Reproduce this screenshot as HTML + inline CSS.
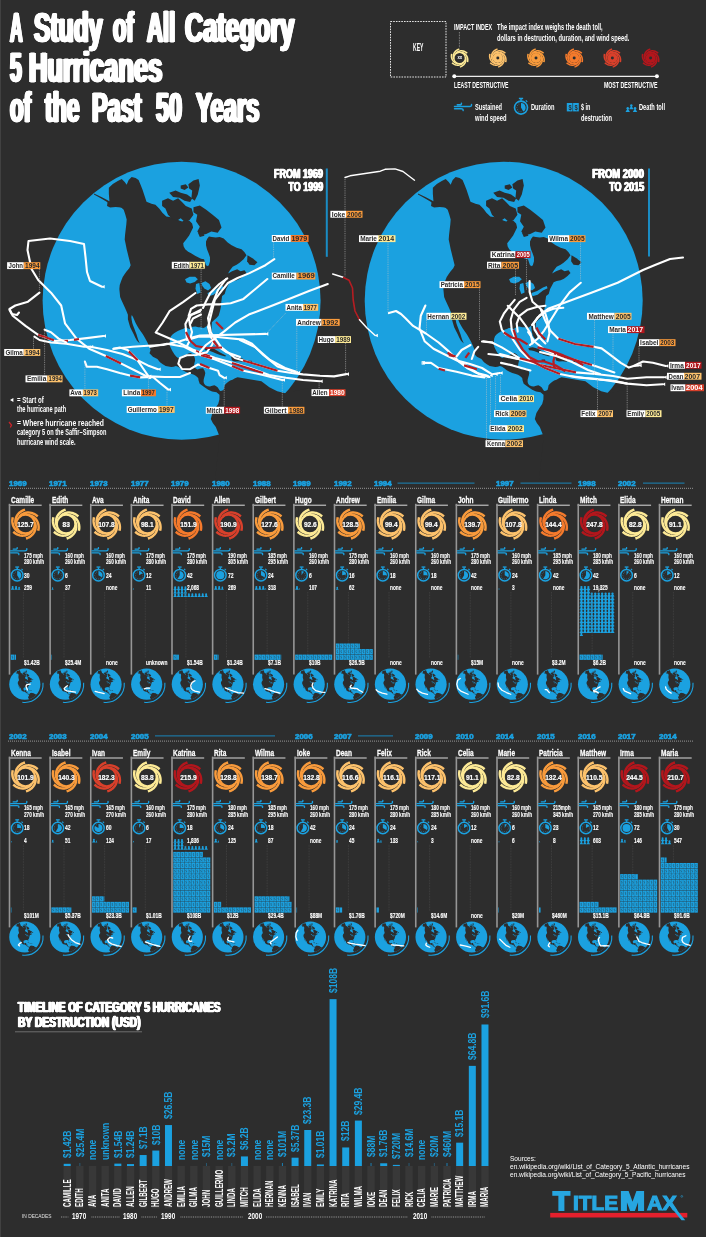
<!DOCTYPE html>
<html lang="en"><head><meta charset="utf-8"><title>A Study of All Category 5 Hurricanes of the Past 50 Years</title>
<style>
html,body{margin:0;padding:0;background:#2d2d2d;}
body{width:706px;height:1237px;position:relative;overflow:hidden;font-family:"Liberation Sans",sans-serif;}
#g{position:absolute;left:0;top:0;width:706px;height:1237px;}
#tx{position:absolute;left:0;top:0;width:706px;height:1237px;will-change:transform;}
.t{position:absolute;white-space:nowrap;line-height:1;color:#fff;font-weight:700;}
</style></head><body>
<svg id="g" width="706" height="1237" viewBox="0 0 706 1237">
<defs><symbol id="sw" overflow="visible"><circle cx="0" cy="0" r="9.4" fill="none" stroke="currentColor" stroke-width="2.3"/><path d="M-9.34 1.71 L-9.69 0.72 L-9.96 -0.33 L-10.12 -1.43 L-10.17 -2.57 L-10.1 -3.75 L-9.9 -4.94 L-9.57 -6.13 L-9.09 -7.31 L-8.48 -8.47 L-7.73 -9.58 L-6.84 -10.63 L-5.81 -11.61 L-4.66 -12.49 L-3.38 -13.25 L-1.99 -13.89 L-0.5 -14.39" fill="none" stroke="currentColor" stroke-width="2.45" stroke-linecap="butt" stroke-linejoin="round"/><path d="M-6.15 -7.23 L-5.47 -8.03 L-4.69 -8.79 L-3.82 -9.48 L-2.86 -10.09 L-1.81 -10.62 L-0.68 -11.04 L0.53 -11.35 L1.79 -11.53 L3.09 -11.58 L4.43 -11.49 L5.79 -11.24 L7.15 -10.84 L8.49 -10.28 L9.79 -9.55 L11.04 -8.67 L12.21 -7.63" fill="none" stroke="currentColor" stroke-width="2.45" stroke-linecap="butt" stroke-linejoin="round"/><path d="M3.18 -8.94 L4.22 -8.75 L5.27 -8.46 L6.3 -8.05 L7.31 -7.52 L8.29 -6.87 L9.22 -6.11 L10.09 -5.22 L10.88 -4.22 L11.58 -3.11 L12.16 -1.9 L12.63 -0.61 L12.96 0.77 L13.14 2.21 L13.17 3.7 L13.03 5.22 L12.71 6.76" fill="none" stroke="currentColor" stroke-width="2.45" stroke-linecap="butt" stroke-linejoin="round"/><path d="M9.34 -1.71 L9.69 -0.72 L9.96 0.33 L10.12 1.43 L10.17 2.57 L10.1 3.75 L9.9 4.94 L9.57 6.13 L9.09 7.31 L8.48 8.47 L7.73 9.58 L6.84 10.63 L5.81 11.61 L4.66 12.49 L3.38 13.25 L1.99 13.89 L0.5 14.39" fill="none" stroke="currentColor" stroke-width="2.45" stroke-linecap="butt" stroke-linejoin="round"/><path d="M6.15 7.23 L5.47 8.03 L4.69 8.79 L3.82 9.48 L2.86 10.09 L1.81 10.62 L0.68 11.04 L-0.53 11.35 L-1.79 11.53 L-3.09 11.58 L-4.43 11.49 L-5.79 11.24 L-7.15 10.84 L-8.49 10.28 L-9.79 9.55 L-11.04 8.67 L-12.21 7.63" fill="none" stroke="currentColor" stroke-width="2.45" stroke-linecap="butt" stroke-linejoin="round"/><path d="M-3.18 8.94 L-4.22 8.75 L-5.27 8.46 L-6.3 8.05 L-7.31 7.52 L-8.29 6.87 L-9.22 6.11 L-10.09 5.22 L-10.88 4.22 L-11.58 3.11 L-12.16 1.9 L-12.63 0.61 L-12.96 -0.77 L-13.14 -2.21 L-13.17 -3.7 L-13.03 -5.22 L-12.71 -6.76" fill="none" stroke="currentColor" stroke-width="2.45" stroke-linecap="butt" stroke-linejoin="round"/></symbol><g id="na"><path d="M93.97 193.4 L101.9 197.36 L109.43 201.33 L108.84 193.8 L108.84 187.85 L112.8 183.88 L117.76 180.91 L121.73 178.92 L124.7 181.9 L126.68 184.87 L128.67 179.91 L131.64 176.94 L135.61 177.93 L138.58 179.91 L140.57 184.87 L142.55 189.83 L144.53 195.78 L146.51 201.73 L151.47 203.71 L155.44 204.7 L159.4 208.67 L162.38 212.63 L166.34 216.6 L171.3 217.19 L175.27 218.58 L179.23 220.57 L182.21 221.56 L186.17 219.57 L189.15 220.57 L192.12 223.54 L193.11 227.51 L191.13 231.47 L189.15 235.44 L186.17 239.4 L183.2 243.37 L183.6 246.34 L185.18 249.32 L188.16 251.7 L191.13 253.28 L195.1 255.66 L198.07 257.25 L201.05 258.64 L204.02 259.23 L205.01 262.21 L206 265.18 L207.99 266.17 L208.98 264.78 L209.97 261.22 L209.97 257.25 L208.58 253.28 L206.99 249.32 L206 245.35 L206 241.39 L207.39 238.41 L208.98 236.43 L211.81 237.02 L215.78 237.42 L219.74 237.02 L223.71 238.41 L227.68 242.38 L231.64 245.35 L236.6 247.73 L241.56 249.32 L244.53 252.29 L246.51 255.27 L243.54 259.23 L239.57 262.8 L236.6 264.78 L232.63 266.77 L229.66 270.73 L228.07 273.51 L232.04 271.13 L237.19 269.15 L240.57 271.13 L244.53 270.14 L246.51 273.11 L243.54 276.09 L239.97 278.67 L236.6 280.25 L232.63 281.05 L229.66 282.23 L227.68 286 L226.09 288.98 L224.7 293.93 L224.7 293.9 L222.1 296 L221.4 301 L221 306.3 L220 311 L218.7 315.4 L216.5 318 L214.2 319.9 L211.9 322.2 L211.6 327 L211.9 332.4 L213 336 L214.2 338.6 L212.5 339.6 L210.2 338.1 L208.8 335.5 L208 332.4 L207.4 328.5 L207.2 325.6 L205.2 327.2 L203.3 327.9 L200.8 327.2 L198.3 327.3 L195.5 326.6 L192.7 326.7 L191 328.2 L189.3 329 L187 328 L184.7 327.9 L183 329 L181.2 329.5 L177.8 331 L174.4 332.9 L172.5 334.5 L171 336.3 L170.2 338.5 L169.9 340.8 L169.8 343 L169.9 345.3 L170.2 346.8 L172.3 351 L174.7 354.7 L176.4 356.8 L178.1 358.1 L180.4 357 L183.2 355.6 L186.1 354.7 L188.4 353.6 L190.6 353 L192.5 354.2 L194 355.9 L194.8 358 L195.1 360.4 L194.4 363.2 L194 366.1 L195.5 368.2 L197.4 369.5 L200.2 368.6 L203.1 368.3 L204.5 370.5 L205.3 372.9 L204.9 375.2 L204.2 377.4 L203.7 379.6 L203.6 381.9 L204.2 383.8 L205.3 385.3 L207.6 386.2 L209.9 386.5 L212.2 385.7 L214.4 385.3 L216.2 386.2 L217.8 387.6 L219 389.4 L220.1 391 L221.9 390.8 L223.5 389.9 L224.2 387.6 L224.6 385.3 L226.2 383.4 L228 381.9 L230.2 380.6 L232.5 379.7 L235 378.3 L237.59 377.33 L243.54 378.33 L249.49 379.32 L255.44 380.31 L261.39 381.3 L265.35 384.28 L269.32 387.25 L273.28 389.23 L277.25 391.22 L281.22 392.21 L285.18 393.2 L345 380 L345 480 L215 480 L219.7 436.8 L217.8 432 L215.8 427 L212.8 423 L210.8 419 L212.4 413 L215.8 407.5 L218.2 404 L219.4 399.5 L219.5 394.8 L216.5 392.2 L212.1 391.4 L208.2 389.7 L203.8 386.7 L199.7 383.8 L198.6 380.5 L198.2 378 L196 376 L194 374.8 L191 373.8 L188.3 373 L185.5 371.7 L182.7 370.2 L180.2 368.3 L178.1 366.8 L175.9 366 L173.6 366.7 L171.3 367 L168.5 366.6 L165.7 365.9 L162.8 364.2 L160 362.3 L157.4 358.9 L152.9 356.7 L149.5 353.3 L150.6 349.9 L149 346 L147.2 341.9 L145 338 L142.7 334 L140.5 331 L138.6 328.3 L137 325.4 L135.5 322.7 L134.2 319.8 L133 317 L131.8 315 L131.3 317 L131.7 320 L132.2 322.7 L133.1 325.5 L134.2 328.3 L135.3 331.2 L136.4 334 L137.3 337 L138.2 339.7 L139.8 343.4 L137 340.8 L135.2 337.5 L133.6 334 L131.8 330.6 L130.2 327.2 L129 323.2 L127.9 319.3 L127.9 314.7 L126.2 310.6 L124.5 306.8 L121.73 300.87 L120.14 296.91 L119.74 292.94 L119.35 288.98 L119.74 285.01 L121.13 281.05 L122.72 277.08 L124.7 274.1 L126.68 271.13 L129.26 268.16 L130.65 265.18 L129.66 261.22 L128.67 257.25 L127.68 253.28 L126.68 249.32 L125.69 244.36 L124.7 239.4 L125.1 234.45 L125.69 229.49 L126.29 224.53 L126.68 219.57 L125.3 214.62 L123.71 209.66 L121.73 208.07 L119.74 206.68 L116.77 206.09 L113.8 205.69 L111.42 204.9 L109.83 203.71 L105.86 201.33 L99.91 197.76 L93.97 194.59Z" fill="#2d2d2d"/><path d="M162.1 200.8 L167.97 198.25 L173.06 200.8 L178.16 198.25 L181.99 202.07 L185.81 205.89 L191.68 208.44 L193.46 214.82 L189.64 219.92 L184.03 221.19 L180.71 218.13 L176.89 220.68 L171.79 218.64 L167.97 214.82 L165.42 208.44 L162.1 205.89Z" fill="#2d2d2d"/><path d="M169.24 192.64 L175.61 190.6 L180.71 192.64 L187.09 194.42 L192.19 198.25 L190.15 202.07 L184.54 200.8 L179.44 197.74 L173.06 196.97Z" fill="#2d2d2d"/><path d="M188.36 184.22 L193.46 180.4 L198.56 179.12 L199.84 185.5 L197.8 194.42 L194.74 200.8 L191.42 198.25 L192.19 190.6 L189.13 188.56Z" fill="#2d2d2d"/><path d="M193.46 207.17 L199.84 205.39 L206.21 209.72 L212.59 214.82 L218.96 219.92 L221.51 227.57 L217.68 232.67 L211.31 231.39 L206.21 233.94 L201.11 235.22 L197.29 231.39 L199.84 226.8 L196.01 221.19 L197.29 214.82 L193.46 212.27Z" fill="#2d2d2d"/><path d="M197.8 232.41 L202.39 231.39 L204.43 235.73 L199.84 237Z" fill="#2d2d2d"/><path d="M180.71 185.5 L185.81 184.22 L188.36 187.54 L184.54 190.09 L180.71 188.56Z" fill="#2d2d2d"/><path d="M107.54 202.07 L113.15 202.84 L120.8 203.86 L121.31 207.42 L115.7 206.91 L110.09 207.42 L107.03 205.89Z" fill="#2d2d2d"/><path d="M247.51 255.27 L252.46 258.24 L257.42 262.21 L254.45 265.18 L249.49 264.78 L247.11 261.22Z" fill="#2d2d2d"/><path d="M204.2 348.6 L206.4 347.6 L208.7 347.3 L211.6 348 L214.4 349.1 L217.3 350.7 L220.1 352.5 L223 354 L225.9 355.4 L225.4 356.6 L223.5 356.1 L220 355 L216.7 353.7 L213.3 352.3 L209.9 350.9 L207.5 350.6 L205.3 350.3Z" fill="#2d2d2d"/><path d="M231 356.6 L234 356.2 L238 357.2 L242 358.3 L245 360 L242.5 361.8 L238.5 361.2 L235 361.6 L232 360.5Z" fill="#2d2d2d"/><path d="M248.5 360.8 L251.8 360.8 L251.8 362.2 L248.5 362.2Z" fill="#2d2d2d"/><path d="M217.5 359.6 L221 359.6 L221.3 361 L217.8 360.9Z" fill="#2d2d2d"/><path d="M185.05 279.33 L189.64 276.78 L195.25 276.78 L197.8 279.33 L194.74 281.88 L190.15 283.41 L186.58 282.39Z" fill="#1ba1e0"/><path d="M196.01 283.92 L199.33 282.9 L200.6 292.59 L197.29 294.12 L195.5 288.76Z" fill="#1ba1e0"/><path d="M201.37 282.9 L205.45 281.37 L209.53 283.92 L211.06 288 L208 290.55 L204.43 288.51 L202.39 285.96Z" fill="#1ba1e0"/><path d="M207.49 293.1 L213.1 291.06 L218.96 287.49 L222.78 285.96 L223.55 288.25 L218.96 290.55 L213.61 294.63 L208.51 296.16Z" fill="#1ba1e0"/></g><clipPath id="mc"><circle cx="0" cy="0" r="15.6"/></clipPath><g id="mg"><circle cx="0" cy="0" r="15.6" fill="#1ba1e0"/><g clip-path="url(#mc)"><use href="#na" transform="scale(0.1127) translate(-181.7 -301)"/></g><path d="M18.2 -1.5 A18.3 18.3 0 0 1 -2.5 18.1" fill="none" stroke="#1ba1e0" stroke-width="1.1"/></g><g id="db"><rect x="0.1" y="0.15" width="3.52" height="5.25" fill="#1ba1e0"/><path d="M2.35 1.6 Q1.1 1.4 1.3 2.5 Q1.5 3.0 2.2 3.1 Q2.6 3.9 1.3 3.9" fill="none" stroke="#2d2d2d" stroke-width="0.6" opacity="0.62"/></g><g id="pp"><path d="M1.7 0.6 L3.45 3.8 H-0.05Z" fill="#1ba1e0"/><circle cx="1.7" cy="0.95" r="1.0" fill="#1ba1e0"/></g></defs>
<rect x="0" y="0" width="1" height="1237" fill="#414141"/>
<rect x="390.5" y="21.5" width="55.5" height="55.5" fill="none" stroke="#e8e8e8" stroke-width="1" stroke-dasharray="1.6 1.1"/>
<line x1="459.4" y1="32" x2="459.4" y2="47.5" stroke="#bbb" stroke-width="0.7" stroke-dasharray="0.8 0.8"/>
<use href="#sw" x="0" y="0" transform="translate(459.6 58) scale(0.62)" style="color:#fdea96"/>
<use href="#sw" x="0" y="0" transform="translate(497.8 58) scale(0.62)" style="color:#fdc26c"/>
<circle cx="497.8" cy="58" r="5.08" fill="#fdc26c"/>
<circle cx="497.8" cy="58" r="1.49" fill="#2d2d2d"/>
<use href="#sw" x="0" y="0" transform="translate(536 58) scale(0.62)" style="color:#f99b3c"/>
<circle cx="536" cy="58" r="5.08" fill="#f99b3c"/>
<circle cx="536" cy="58" r="1.49" fill="#2d2d2d"/>
<use href="#sw" x="0" y="0" transform="translate(574.2 58) scale(0.62)" style="color:#f57a2c"/>
<circle cx="574.2" cy="58" r="5.08" fill="#f57a2c"/>
<circle cx="574.2" cy="58" r="1.49" fill="#2d2d2d"/>
<use href="#sw" x="0" y="0" transform="translate(612.4 58) scale(0.62)" style="color:#d9402b"/>
<circle cx="612.4" cy="58" r="5.08" fill="#d9402b"/>
<circle cx="612.4" cy="58" r="1.49" fill="#2d2d2d"/>
<use href="#sw" x="0" y="0" transform="translate(650.6 58) scale(0.62)" style="color:#b3161c"/>
<circle cx="650.6" cy="58" r="5.08" fill="#b3161c"/>
<circle cx="650.6" cy="58" r="1.49" fill="#2d2d2d"/>
<line x1="454" y1="76.3" x2="657" y2="76.3" stroke="#eee" stroke-width="1.3"/>
<circle cx="454.3" cy="76.3" r="2" fill="#fff"/>
<circle cx="656.9" cy="76.3" r="2" fill="#fff"/>
<path d="M454.5 106.57 L469.62 106.57 Q471.82 106.57 471.51 104.36M457.23 104.78 L459.75 104.78 Q461.85 104.78 461.43 103.21M454.5 108.67 L461.22 108.67 Q463.53 108.67 463.11 110.56" fill="none" stroke="#1ba1e0" stroke-width="1.42" stroke-linecap="round"/>
<circle cx="521" cy="107.6" r="6.5" fill="none" stroke="#1ba1e0" stroke-width="1.62"/>
<rect x="518.87" y="97.74" width="4.26" height="1.46" fill="#1ba1e0"/>
<rect x="520.22" y="98.86" width="1.57" height="1.79" fill="#1ba1e0"/>
<line x1="525.82" y1="100.43" x2="527.27" y2="101.89" stroke="#1ba1e0" stroke-width="1.23"/>
<path d="M521 107.6 L521 103.01 A4.59 4.59 0 0 1 523.21 111.62Z" fill="#1ba1e0"/>
<circle cx="521" cy="111.74" r="0.47" fill="#1ba1e0"/>
<circle cx="518.93" cy="111.19" r="0.47" fill="#1ba1e0"/>
<circle cx="517.41" cy="109.67" r="0.47" fill="#1ba1e0"/>
<circle cx="516.86" cy="107.6" r="0.47" fill="#1ba1e0"/>
<circle cx="517.41" cy="105.53" r="0.47" fill="#1ba1e0"/>
<circle cx="518.93" cy="104.01" r="0.47" fill="#1ba1e0"/>
<rect x="566.8" y="103" width="5.7" height="8.4" fill="#1ba1e0"/>
<rect x="573.1" y="103" width="5.7" height="8.4" fill="#1ba1e0"/>
<path d="M627.73 108.22 l2.23 3.78 h-4.46Z" fill="#1ba1e0"/>
<circle cx="627.73" cy="108.22" r="1.22" fill="#1ba1e0"/>
<path d="M635.03 108.22 l2.23 3.78 h-4.46Z" fill="#1ba1e0"/>
<circle cx="635.03" cy="108.22" r="1.22" fill="#1ba1e0"/>
<path d="M631.33 105.42 l2.23 3.78 h-4.46Z" fill="#1ba1e0"/>
<circle cx="631.33" cy="105.42" r="1.22" fill="#1ba1e0"/>
<ellipse cx="181.6" cy="300.75" rx="139" ry="139" fill="#1ba1e0"/>
<use href="#na" transform="translate(0 0)"/>
<ellipse cx="503.7" cy="300.75" rx="139" ry="139" fill="#1ba1e0"/>
<use href="#na" transform="translate(324 0)"/>
<path d="M150 378 L135 370.5 L119.8 362.9 L107 356.5 L89.2 348.8 L76.5 338.6 L65 323.3 L61.2 305.5 L51 292.7 L38.2 280 L31.5 269 L27.5 250 L28.5 241 L50 238.5 L70 241 L84 244 L85.5 257 L87 272 L90 281 L102 286.7" fill="none" stroke="#ffffff" stroke-width="2.1" stroke-linejoin="round" stroke-linecap="round"/>
<path d="M101.5 286.7 l3.2 -1.8 v3.6Z" fill="#ffffff"/>
<path d="M105.8 356 L121 363.5" fill="none" stroke="#b51d22" stroke-width="2.2" stroke-linejoin="round"/>
<path d="M39.5 292.7 L28 301.7 L15.3 305.5 L9.5 309 L12 314 L17 315 L19 312.5" fill="none" stroke="#ffffff" stroke-width="2.1" stroke-linejoin="round" stroke-linecap="round"/>
<path d="M9.5 310 L12.7 315.7 L25.5 325.9 L38.2 334.8 L55 341 L70 340 L86.7 338.1 L103.3 336" fill="none" stroke="#ffffff" stroke-width="2.1" stroke-linejoin="round" stroke-linecap="round"/>
<path d="M102.8 336 l3.2 -1.8 v3.6Z" fill="#ffffff"/>
<path d="M38.2 334.8 L54 340.3" fill="none" stroke="#b51d22" stroke-width="2.2" stroke-linejoin="round"/>
<path d="M63 341 L68 340.8" fill="none" stroke="#b51d22" stroke-width="2.2" stroke-linejoin="round"/>
<path d="M74 339.8 L79 339" fill="none" stroke="#b51d22" stroke-width="2.2" stroke-linejoin="round"/>
<path d="M34.4 336.6 L39.5 340 L51 342.5 L66.3 343.7 L84.1 346.8 L90.5 346.8" fill="none" stroke="#ffffff" stroke-width="2.1" stroke-linejoin="round" stroke-linecap="round"/>
<path d="M90 346.8 l3.2 -1.8 v3.6Z" fill="#ffffff"/>
<path d="M44.6 329.7 L51 332.3 L58.6 338.6 L66.3 342.5" fill="none" stroke="#ffffff" stroke-width="2.1" stroke-linejoin="round" stroke-linecap="round"/>
<path d="M90.5 346.8 L107 350 L122.4 354 L135 359 L147.9 365.4 L158 369.2" fill="none" stroke="#ffffff" stroke-width="2.1" stroke-linejoin="round" stroke-linecap="round"/>
<path d="M157.5 369.2 l3.2 -1.8 v3.6Z" fill="#ffffff"/>
<path d="M84.9 361.6 L86.7 366.7 L96.9 366.7 L107 369.2 L119.8 373 L130 375.6 L140.2 377.4 L153 377 L160 383 L168.3 389.6" fill="none" stroke="#ffffff" stroke-width="2.1" stroke-linejoin="round" stroke-linecap="round"/>
<path d="M167.8 389.6 l3.2 -1.8 v3.6Z" fill="#ffffff"/>
<path d="M130 375.6 L140.2 377.4" fill="none" stroke="#b51d22" stroke-width="2.2" stroke-linejoin="round"/>
<path d="M113.5 348.8 L119.8 347.6 L127.5 350 L133 355 L137.7 360.3 L142.8 368 L148.6 376.4" fill="none" stroke="#ffffff" stroke-width="2.1" stroke-linejoin="round" stroke-linecap="round"/>
<path d="M148.1 376.4 l3.2 -1.8 v3.6Z" fill="#ffffff"/>
<path d="M128.8 351.4 L137.7 360.3" fill="none" stroke="#b51d22" stroke-width="2.2" stroke-linejoin="round"/>
<path d="M113.5 348.8 L132.6 346.8 L147.9 345.8 L163.2 345 L180 341.2 L190 338 L200 335.5 L265.6 333.9" fill="none" stroke="#ffffff" stroke-width="2.1" stroke-linejoin="round" stroke-linecap="round"/>
<path d="M265.1 333.9 l3.2 -1.8 v3.6Z" fill="#ffffff"/>
<path d="M148.6 376.4 L165 377 L180 377 L190 373" fill="none" stroke="#ffffff" stroke-width="2.1" stroke-linejoin="round" stroke-linecap="round"/>
<path d="M297.3 372.7 L277.5 366.5 L263.3 355 L252 343.8 L243.5 339.6 L229.3 338.2 L215.2 336.7 L198.2 336.7 L187 340 L185.4 324 L189.7 315.5 L201 309.8" fill="none" stroke="#ffffff" stroke-width="2.1" stroke-linejoin="round" stroke-linecap="round"/>
<path d="M296.8 372.7 l3.2 -1.8 v3.6Z" fill="#ffffff"/>
<path d="M346.3 374.1 L334.1 376.4 L320 375.8 L303 374.4 L291.6 373 L277.5 370.7 L255 364 L235 358 L220.8 346.7 L210.9 332.5 L208 318.3 L212.3 304.2 L218 290 L226 279" fill="none" stroke="#ffffff" stroke-width="2.1" stroke-linejoin="round" stroke-linecap="round"/>
<path d="M345.8 374.1 l3.2 -1.8 v3.6Z" fill="#ffffff"/>
<path d="M277.5 370.7 L255 364 L243 360.5" fill="none" stroke="#b51d22" stroke-width="2.2" stroke-linejoin="round"/>
<path d="M320 381.2 L303 380 L286 377.8 L269 375 L250 368 L230 362 L215.2 358 L192.5 349.5 L175.5 341 L155.7 332.5 L162.7 322.5 L169.5 311.2 L183 302.1 L195.5 293" fill="none" stroke="#ffffff" stroke-width="2.1" stroke-linejoin="round" stroke-linecap="round"/>
<path d="M319.5 381.2 l3.2 -1.8 v3.6Z" fill="#ffffff"/>
<path d="M263 373 L232 363" fill="none" stroke="#b51d22" stroke-width="2.2" stroke-linejoin="round"/>
<path d="M210 356.5 L196 351" fill="none" stroke="#b51d22" stroke-width="2.2" stroke-linejoin="round"/>
<path d="M282.3 380 L263 375 L243.5 370.7 L215.2 359.4 L201 355.2 L184 346.7 L167 343.8 L150 346.7" fill="none" stroke="#ffffff" stroke-width="2.1" stroke-linejoin="round" stroke-linecap="round"/>
<path d="M281.8 380 l3.2 -1.8 v3.6Z" fill="#ffffff"/>
<path d="M243.5 370.7 L232 366" fill="none" stroke="#b51d22" stroke-width="2.2" stroke-linejoin="round"/>
<path d="M212 358.3 L201 355.2" fill="none" stroke="#b51d22" stroke-width="2.2" stroke-linejoin="round"/>
<path d="M224.2 377.8 L219.5 375 L218 370.7 L209.5 367.9 L198 364.5 L189.7 369.3 L182 369 L178.3 363.7 L180 358 L186.8 355.2 L196 355 L206.7 352.3 L212 345 L214.8 338.4" fill="none" stroke="#ffffff" stroke-width="2.1" stroke-linejoin="round" stroke-linecap="round"/>
<path d="M223.7 377.8 l3.2 -1.8 v3.6Z" fill="#ffffff"/>
<path d="M209.5 367.9 L200 364" fill="none" stroke="#b51d22" stroke-width="2.2" stroke-linejoin="round"/>
<path d="M274.3 259.2 L265.4 265.2 L249.5 273.1 L237.6 278 L228 283 L221.6 290.8 L214.8 299.9 L212.5 308.9 L210.3 318 L208 327 L210.3 336.1 L216 345 L226 352 L240 357" fill="none" stroke="#ffffff" stroke-width="2.1" stroke-linejoin="round" stroke-linecap="round"/>
<path d="M212 339 L218 347" fill="none" stroke="#b51d22" stroke-width="2.2" stroke-linejoin="round"/>
<path d="M267.3 279 L255.4 289 L243.5 298.9 L230.7 303.3 L219.3 304.4 L208 304.4 L196.7 305.5 L191 308.9 L188.7 315.7 L189.9 324.8 L192 332 L190 340 L186.5 347" fill="none" stroke="#ffffff" stroke-width="2.1" stroke-linejoin="round" stroke-linecap="round"/>
<path d="M186 332 L190.5 341 L196 346 L207 348 L222 347.5" fill="none" stroke="#b51d22" stroke-width="2.2" stroke-linejoin="round"/>
<path d="M327.8 284 L309 291 L289 298.9 L269.3 306.8 L248.8 314.6 L235.2 322.5 L223.9 331.6 L214.8 338.4 L206 345 L200 352" fill="none" stroke="#ffffff" stroke-width="2.1" stroke-linejoin="round" stroke-linecap="round"/>
<path d="M227.3 278.3 L219.3 284 L210.3 293 L205.7 302 L203 308" fill="none" stroke="#ffffff" stroke-width="2.1" stroke-linejoin="round" stroke-linecap="round"/>
<path d="M200 311.5 L191 315 L188.5 320" fill="none" stroke="#ffffff" stroke-width="2.1" stroke-linejoin="round" stroke-linecap="round"/>
<path d="M201 314.5 L193 318.5 L190.5 323.5" fill="none" stroke="#ffffff" stroke-width="2.1" stroke-linejoin="round" stroke-linecap="round"/>
<path d="M240 340 L255 347 L270 360 L285 368 L297 372" fill="none" stroke="#ffffff" stroke-width="2.1" stroke-linejoin="round" stroke-linecap="round"/>
<path d="M216 322 L223 329" fill="none" stroke="#b51d22" stroke-width="2.2" stroke-linejoin="round"/>
<path d="M345 177.5 L350 175.8 L380.3 171.2 L385 169.3 L395 168.9 L403 171.5 L414.5 180.2" fill="none" stroke="#ffffff" stroke-width="1.4" stroke-linejoin="round" stroke-linecap="round"/>
<line x1="345" y1="179" x2="345" y2="276.5" stroke="#c4c4c4" stroke-width="0.6" stroke-dasharray="0.9 0.9"/>
<path d="M332.7 274 L343 277.2" fill="none" stroke="#ffffff" stroke-width="1.5" stroke-linejoin="round" stroke-linecap="round"/>
<path d="M343 277.2 L349 280.2 L352.5 288 L353.2 300 L355 311 L359.5 319.8" fill="none" stroke="#b51d22" stroke-width="1.6" stroke-linejoin="round"/>
<path d="M359.5 319.8 L367 328 L375.2 335.5" fill="none" stroke="#ffffff" stroke-width="1.5" stroke-linejoin="round" stroke-linecap="round"/>
<path d="M374.7 335.5 l3.2 -1.8 v3.6Z" fill="#ffffff"/>
<path d="M388.9 313.1 L396 311 L401 314 L405.5 318.2 L413.1 325.9 L425.9 333.5 L438.6 342.5 L448.8 351.4 L459 361.6 L467 368 L476.9 373 L487 375.6" fill="none" stroke="#ffffff" stroke-width="2.1" stroke-linejoin="round" stroke-linecap="round"/>
<path d="M447.6 352.7 L454 356.5" fill="none" stroke="#b51d22" stroke-width="2.2" stroke-linejoin="round"/>
<path d="M425.4 305.5 L420.8 315.7 L419.5 328.4 L424.6 341.2 L433.5 348.8 L446.3 355.2 L464.1 364.1 L479.4 374.3 L489.6 376.9" fill="none" stroke="#ffffff" stroke-width="2.1" stroke-linejoin="round" stroke-linecap="round"/>
<path d="M448.8 355.2 L456.5 356.5" fill="none" stroke="#b51d22" stroke-width="2.2" stroke-linejoin="round"/>
<path d="M423.3 362.9 L431 362.9 L438.6 368 L456.5 371.8 L471.8 375.6 L484.5 377.4" fill="none" stroke="#ffffff" stroke-width="2.1" stroke-linejoin="round" stroke-linecap="round"/>
<rect x="422" y="361.6" width="2.6" height="2.6" fill="none" stroke="#fff" stroke-width="0.8"/>
<path d="M438.6 368.7 L445 370.5" fill="none" stroke="#b51d22" stroke-width="2.2" stroke-linejoin="round"/>
<path d="M456.5 356.5 L461.6 350 L470.5 345" fill="none" stroke="#ffffff" stroke-width="2.1" stroke-linejoin="round" stroke-linecap="round"/>
<path d="M465.4 357.8 L469.2 352.7" fill="none" stroke="#b51d22" stroke-width="2.2" stroke-linejoin="round"/>
<path d="M471.8 359 L474.4 351.4 L478.2 346.8" fill="none" stroke="#ffffff" stroke-width="2.1" stroke-linejoin="round" stroke-linecap="round"/>
<path d="M499.8 373 L492.2 374.3 L482 368 L470 364 L459 361" fill="none" stroke="#ffffff" stroke-width="2.1" stroke-linejoin="round" stroke-linecap="round"/>
<path d="M464.1 365.4 L476.9 369.2" fill="none" stroke="#b51d22" stroke-width="2.2" stroke-linejoin="round"/>
<path d="M483.3 341.2 L492.2 342.5" fill="none" stroke="#ffffff" stroke-width="2.1" stroke-linejoin="round" stroke-linecap="round"/>
<path d="M488.4 354 L499.8 355.2 L517.7 359" fill="none" stroke="#ffffff" stroke-width="2.1" stroke-linejoin="round" stroke-linecap="round"/>
<path d="M501 362.9 L512.6 365.4 L530.4 370.5" fill="none" stroke="#ffffff" stroke-width="2.1" stroke-linejoin="round" stroke-linecap="round"/>
<path d="M485.5 376.5 l3.2 -1.8 v3.6Z" fill="#ffffff"/>
<path d="M489.5 375.5 l3.2 -1.8 v3.6Z" fill="#ffffff"/>
<path d="M494.5 374.25 l3.2 -1.8 v3.6Z" fill="#ffffff"/>
<path d="M499.5 373 l3.2 -1.8 v3.6Z" fill="#ffffff"/>
<path d="M683 257.5 L670 259 L655 265 L643 270 L617.6 282.8 L592 292.4 L566.4 302 L548.8 308.4 L540 315 L532 325" fill="none" stroke="#ffffff" stroke-width="2.1" stroke-linejoin="round" stroke-linecap="round"/>
<path d="M580.8 282.8 L569.6 292.4 L560 305.2 L552 318 L544 330.8 L537.6 338.8 L530 345" fill="none" stroke="#ffffff" stroke-width="2.1" stroke-linejoin="round" stroke-linecap="round"/>
<path d="M665.7 366 L652.9 362.8 L643 361.5 L633.6 366 L628.9 367.6 L620.8 362.8 L608 353.2 L601.6 348.4 L593.6 346.8 L575 344 L558.4 338.8 L550.4 330.8 L545 320 L541 310" fill="none" stroke="#ffffff" stroke-width="2.1" stroke-linejoin="round" stroke-linecap="round"/>
<path d="M665.2 366 l3.2 -1.8 v3.6Z" fill="#ffffff"/>
<path d="M593.6 346.8 L575 344 L558.4 338.8" fill="none" stroke="#b51d22" stroke-width="2.2" stroke-linejoin="round"/>
<path d="M639 365.4 L633.6 366" fill="none" stroke="#ffffff" stroke-width="2.1" stroke-linejoin="round" stroke-linecap="round"/>
<path d="M638.5 365.4 l3.2 -1.8 v3.6Z" fill="#ffffff"/>
<path d="M664 377.2 L646.5 377.2 L627.2 378.8 L613 376 L595.2 374 L576 372.4 L555 368 L531.2 362.8 L515 358 L500 354" fill="none" stroke="#ffffff" stroke-width="2.1" stroke-linejoin="round" stroke-linecap="round"/>
<path d="M663.5 377.2 l3.2 -1.8 v3.6Z" fill="#ffffff"/>
<path d="M576 372.4 L555 368 L538 364.5" fill="none" stroke="#b51d22" stroke-width="2.2" stroke-linejoin="round"/>
<path d="M662.5 384.3 L646.5 385.2 L627.2 383.6 L608 380.4 L592 378.8 L576 377.2 L560 374 L545 368 L530 360 L520 350 L512 338" fill="none" stroke="#ffffff" stroke-width="2.1" stroke-linejoin="round" stroke-linecap="round"/>
<path d="M662 384.3 l3.2 -1.8 v3.6Z" fill="#ffffff"/>
<path d="M560 374 L545 368 L530 360" fill="none" stroke="#b51d22" stroke-width="2.2" stroke-linejoin="round"/>
<path d="M614.4 372.4 L595.2 366 L575 360 L556.8 354.8 L545 350 L535 342 L528 332" fill="none" stroke="#ffffff" stroke-width="2.1" stroke-linejoin="round" stroke-linecap="round"/>
<path d="M592 365 L575 360 L556.8 354.8" fill="none" stroke="#b51d22" stroke-width="2.2" stroke-linejoin="round"/>
<path d="M529.6 281 L529.6 291.9 L532.5 301.8 L539.5 307.8 L545.4 313.7 L548.4 323.6 L549.4 333.5 L547.4 341.5" fill="none" stroke="#ffffff" stroke-width="2.1" stroke-linejoin="round" stroke-linecap="round"/>
<path d="M514.7 299.8 L509.7 305.8 L503.8 313.7 L499.8 321.6 L501.8 329.6 L505.8 334.5" fill="none" stroke="#ffffff" stroke-width="2.1" stroke-linejoin="round" stroke-linecap="round"/>
<path d="M526.6 297.8 L519.7 301.8 L513.7 309.7 L510.7 319.7 L511.7 329.6 L514.7 337.5" fill="none" stroke="#ffffff" stroke-width="2.1" stroke-linejoin="round" stroke-linecap="round"/>
<path d="M507.8 305.8 L513.7 311.7 L519.7 317.7 L525.6 325.6 L530.6 333.5 L532.5 343.5" fill="none" stroke="#ffffff" stroke-width="2.1" stroke-linejoin="round" stroke-linecap="round"/>
<path d="M545.4 305.8 L537.5 306.8 L527.6 309.7 L519.7 315.7 L516.7 323.6 L517.7 331.6" fill="none" stroke="#ffffff" stroke-width="2.1" stroke-linejoin="round" stroke-linecap="round"/>
<path d="M563.3 307.8 L553.4 308.8 L545.4 311.7 L537.5 317.7 L533.5 323.6 L534.5 329.6 L539.5 337.5 L545.4 343.5" fill="none" stroke="#ffffff" stroke-width="2.1" stroke-linejoin="round" stroke-linecap="round"/>
<path d="M482 341.5 L491.9 342.5 L501.8 347.4 L511.7 353.4 L519.7 358.3" fill="none" stroke="#ffffff" stroke-width="2.1" stroke-linejoin="round" stroke-linecap="round"/>
<path d="M503.8 332.5 L511.7 337.5 L519.7 339.5 L527.6 344.4" fill="none" stroke="#b51d22" stroke-width="2.2" stroke-linejoin="round"/>
<path d="M513.7 329.6 L516.7 339.5 L522.6 349.4 L529.6 357.3 L537.5 361.3" fill="none" stroke="#b51d22" stroke-width="2.2" stroke-linejoin="round"/>
<path d="M536.5 327.6 L539.5 333.5 L545.4 339.5" fill="none" stroke="#b51d22" stroke-width="2.2" stroke-linejoin="round"/>
<path d="M537.5 347.4 L549.4 350.4 L563.3 355.4 L575.2 360.3 L583.1 365.3" fill="none" stroke="#b51d22" stroke-width="2.2" stroke-linejoin="round"/>
<path d="M519.7 358.3 L531.6 361.3 L543.5 361.3 L555.4 365.3 L565.3 371.2" fill="none" stroke="#b51d22" stroke-width="2.2" stroke-linejoin="round"/>
<path d="M555.4 352.4 L553.4 361.3 L554.4 368.2" fill="none" stroke="#b51d22" stroke-width="2.2" stroke-linejoin="round"/>
<path d="M597.5 379 L585 378 L570 376" fill="none" stroke="#ffffff" stroke-width="2.1" stroke-linejoin="round" stroke-linecap="round"/>
<path d="M627.2 383.6 L615 381 L600 379.5" fill="none" stroke="#ffffff" stroke-width="2.1" stroke-linejoin="round" stroke-linecap="round"/>
<path d="M540 352 L556 356 L572 362 L588 370 L600 374" fill="none" stroke="#ffffff" stroke-width="2.1" stroke-linejoin="round" stroke-linecap="round"/>
<rect x="7.1" y="262.2" width="16.7" height="6.9" fill="#fff"/>
<rect x="23.8" y="262.2" width="16.5" height="6.9" fill="#f99b3c"/>
<line x1="39.4" y1="269" x2="39.4" y2="290" stroke="#c4c4c4" stroke-width="0.6" stroke-dasharray="0.9 0.9"/>
<rect x="4.2" y="349" width="19.6" height="6.9" fill="#fff"/>
<rect x="23.8" y="349" width="16.5" height="6.9" fill="#fdc26c"/>
<line x1="33.5" y1="337.7" x2="33.5" y2="349" stroke="#c4c4c4" stroke-width="0.6" stroke-dasharray="0.9 0.9"/>
<rect x="25.5" y="375.4" width="21.7" height="6.9" fill="#fff"/>
<rect x="47.2" y="375.4" width="15.3" height="6.9" fill="#fdc26c"/>
<line x1="44.6" y1="329.7" x2="44.6" y2="375.4" stroke="#c4c4c4" stroke-width="0.6" stroke-dasharray="0.9 0.9"/>
<rect x="69.4" y="389.4" width="13.5" height="6.9" fill="#fff"/>
<rect x="82.9" y="389.4" width="15.3" height="6.9" fill="#fdc26c"/>
<line x1="84.9" y1="361.6" x2="84.9" y2="389.4" stroke="#c4c4c4" stroke-width="0.6" stroke-dasharray="0.9 0.9"/>
<rect x="121.9" y="389.4" width="19.1" height="6.9" fill="#fff"/>
<rect x="141" y="389.4" width="15" height="6.9" fill="#f57a2c"/>
<line x1="148.6" y1="377" x2="148.6" y2="389.4" stroke="#c4c4c4" stroke-width="0.6" stroke-dasharray="0.9 0.9"/>
<rect x="126.7" y="406" width="31.4" height="6.9" fill="#fff"/>
<rect x="158.1" y="406" width="16.6" height="6.9" fill="#fdc26c"/>
<line x1="167" y1="390.1" x2="167" y2="406" stroke="#c4c4c4" stroke-width="0.6" stroke-dasharray="0.9 0.9"/>
<rect x="171.8" y="261.8" width="17.8" height="6.9" fill="#fff"/>
<rect x="189.6" y="261.8" width="15.3" height="6.9" fill="#fdea96"/>
<line x1="201.1" y1="268.6" x2="201.1" y2="330" stroke="#c4c4c4" stroke-width="0.6" stroke-dasharray="0.9 0.9"/>
<rect x="271.8" y="235" width="19" height="6.9" fill="#fff"/>
<rect x="290.8" y="235" width="17.8" height="6.9" fill="#f57a2c"/>
<line x1="273.6" y1="241.9" x2="273.6" y2="258.8" stroke="#c4c4c4" stroke-width="0.6" stroke-dasharray="0.9 0.9"/>
<rect x="271.8" y="272.6" width="24.6" height="6.9" fill="#fff"/>
<rect x="296.4" y="272.6" width="18.9" height="6.9" fill="#f99b3c"/>
<rect x="285.5" y="303.9" width="17.5" height="6.9" fill="#fff"/>
<rect x="303" y="303.9" width="15.2" height="6.9" fill="#fdc26c"/>
<line x1="285.5" y1="313.3" x2="266.7" y2="333.1" stroke="#c4c4c4" stroke-width="0.6" stroke-dasharray="0.9 0.9"/>
<rect x="296" y="318.9" width="25.6" height="6.9" fill="#fff"/>
<rect x="321.6" y="318.9" width="18.1" height="6.9" fill="#f99b3c"/>
<line x1="296.8" y1="325.8" x2="296.8" y2="372" stroke="#c4c4c4" stroke-width="0.6" stroke-dasharray="0.9 0.9"/>
<rect x="317.8" y="336.1" width="17.3" height="6.9" fill="#fff"/>
<rect x="335.1" y="336.1" width="15.9" height="6.9" fill="#fdea96"/>
<line x1="345.6" y1="343" x2="345.6" y2="373" stroke="#c4c4c4" stroke-width="0.6" stroke-dasharray="0.9 0.9"/>
<rect x="311.5" y="389.2" width="17.5" height="6.9" fill="#fff"/>
<rect x="329" y="389.2" width="16.5" height="6.9" fill="#d9402b"/>
<line x1="319.1" y1="383.5" x2="319.1" y2="389.2" stroke="#c4c4c4" stroke-width="0.6" stroke-dasharray="0.9 0.9"/>
<rect x="205.8" y="406.8" width="18.4" height="6.9" fill="#fff"/>
<rect x="224.2" y="406.8" width="15.9" height="6.9" fill="#b3161c"/>
<line x1="224.2" y1="379.2" x2="224.2" y2="406.8" stroke="#c4c4c4" stroke-width="0.6" stroke-dasharray="0.9 0.9"/>
<rect x="263.9" y="406.8" width="24.1" height="6.9" fill="#fff"/>
<rect x="288" y="406.8" width="16.4" height="6.9" fill="#f99b3c"/>
<line x1="282.3" y1="381.2" x2="282.3" y2="406.8" stroke="#c4c4c4" stroke-width="0.6" stroke-dasharray="0.9 0.9"/>
<rect x="330.4" y="210.8" width="15.6" height="6.9" fill="#fff"/>
<rect x="346" y="210.8" width="16.5" height="6.9" fill="#f99b3c"/>
<rect x="359" y="235.2" width="19" height="6.9" fill="#fff"/>
<rect x="378" y="235.2" width="17.5" height="6.9" fill="#fdea96"/>
<line x1="388" y1="242.5" x2="388" y2="312.5" stroke="#c4c4c4" stroke-width="0.6" stroke-dasharray="0.9 0.9"/>
<rect x="490.5" y="251.2" width="25" height="6.9" fill="#fff"/>
<rect x="515.5" y="251.2" width="15" height="6.9" fill="#b3161c"/>
<line x1="526.5" y1="258" x2="526.5" y2="290" stroke="#c4c4c4" stroke-width="0.6" stroke-dasharray="0.9 0.9"/>
<rect x="487" y="261.8" width="14.5" height="6.9" fill="#fff"/>
<rect x="501.5" y="261.8" width="17.5" height="6.9" fill="#f99b3c"/>
<line x1="515.5" y1="269" x2="515.5" y2="295" stroke="#c4c4c4" stroke-width="0.6" stroke-dasharray="0.9 0.9"/>
<rect x="548" y="235.2" width="21" height="6.9" fill="#fff"/>
<rect x="569" y="235.2" width="16.5" height="6.9" fill="#f99b3c"/>
<line x1="580.5" y1="242.5" x2="580.5" y2="280" stroke="#c4c4c4" stroke-width="0.6" stroke-dasharray="0.9 0.9"/>
<rect x="439.5" y="281.2" width="24.5" height="6.9" fill="#fff"/>
<rect x="464" y="281.2" width="16.5" height="6.9" fill="#f99b3c"/>
<line x1="479.5" y1="288.5" x2="479.5" y2="340" stroke="#c4c4c4" stroke-width="0.6" stroke-dasharray="0.9 0.9"/>
<rect x="426.5" y="312.8" width="24" height="6.9" fill="#fff"/>
<rect x="450.5" y="312.8" width="16" height="6.9" fill="#fdea96"/>
<line x1="426.5" y1="320" x2="426.5" y2="332.5" stroke="#c4c4c4" stroke-width="0.6" stroke-dasharray="0.9 0.9"/>
<rect x="587" y="312.8" width="27.5" height="6.9" fill="#fff"/>
<rect x="614.5" y="312.8" width="17" height="6.9" fill="#fdc26c"/>
<line x1="594.5" y1="320" x2="594.5" y2="375.6" stroke="#c4c4c4" stroke-width="0.6" stroke-dasharray="0.9 0.9"/>
<rect x="608" y="326.2" width="19" height="6.9" fill="#fff"/>
<rect x="627" y="326.2" width="17.5" height="6.9" fill="#b3161c"/>
<line x1="613" y1="333.5" x2="613" y2="370" stroke="#c4c4c4" stroke-width="0.6" stroke-dasharray="0.9 0.9"/>
<rect x="639" y="339.2" width="20.5" height="6.9" fill="#fff"/>
<rect x="659.5" y="339.2" width="16" height="6.9" fill="#f99b3c"/>
<line x1="639" y1="346" x2="639" y2="365" stroke="#c4c4c4" stroke-width="0.6" stroke-dasharray="0.9 0.9"/>
<rect x="669" y="361.8" width="16" height="6.9" fill="#fff"/>
<rect x="685" y="361.8" width="16.5" height="6.9" fill="#b3161c"/>
<rect x="667" y="372.8" width="17" height="6.9" fill="#fff"/>
<rect x="684" y="372.8" width="17.5" height="6.9" fill="#fdc26c"/>
<rect x="670.5" y="384.3" width="15" height="6.9" fill="#fff"/>
<rect x="685.5" y="384.3" width="18.5" height="6.9" fill="#d9402b"/>
<rect x="499" y="395.2" width="19" height="6.9" fill="#fff"/>
<rect x="518" y="395.2" width="16" height="6.9" fill="#fdea96"/>
<line x1="500.5" y1="375" x2="500.5" y2="395" stroke="#c4c4c4" stroke-width="0.6" stroke-dasharray="0.9 0.9"/>
<rect x="494" y="410.2" width="15.5" height="6.9" fill="#fff"/>
<rect x="509.5" y="410.2" width="17" height="6.9" fill="#fdc26c"/>
<line x1="495.5" y1="376" x2="495.5" y2="410" stroke="#c4c4c4" stroke-width="0.6" stroke-dasharray="0.9 0.9"/>
<rect x="489.5" y="425.2" width="17.5" height="6.9" fill="#fff"/>
<rect x="507" y="425.2" width="17" height="6.9" fill="#fdea96"/>
<line x1="490.5" y1="377" x2="490.5" y2="425" stroke="#c4c4c4" stroke-width="0.6" stroke-dasharray="0.9 0.9"/>
<rect x="485.5" y="440.2" width="20" height="6.9" fill="#fff"/>
<rect x="505.5" y="440.2" width="17.5" height="6.9" fill="#fdc26c"/>
<line x1="486.5" y1="378" x2="486.5" y2="440" stroke="#c4c4c4" stroke-width="0.6" stroke-dasharray="0.9 0.9"/>
<rect x="580.5" y="410.2" width="16.5" height="6.9" fill="#fff"/>
<rect x="597" y="410.2" width="16" height="6.9" fill="#fdc26c"/>
<line x1="597.5" y1="379" x2="597.5" y2="410" stroke="#c4c4c4" stroke-width="0.6" stroke-dasharray="0.9 0.9"/>
<rect x="626.5" y="410.2" width="19" height="6.9" fill="#fff"/>
<rect x="645.5" y="410.2" width="16" height="6.9" fill="#fdea96"/>
<line x1="627.2" y1="384" x2="627.2" y2="410" stroke="#c4c4c4" stroke-width="0.6" stroke-dasharray="0.9 0.9"/>
<rect x="325.8" y="168.5" width="2" height="88.3" fill="#1a8cc4"/>
<rect x="648" y="168.5" width="2" height="88" fill="#1a8cc4"/>
<path d="M10 400 l3.4 -1.9 v3.8Z" fill="#fff"/>
<path d="M9 422 l2.5 3 l-1.2 2.6" fill="none" stroke="#c8242a" stroke-width="1.3"/>
<line x1="8" y1="488.3" x2="694" y2="488.3" stroke="#a4a4a4" stroke-width="0.9" stroke-dasharray="1 1"/>
<line x1="397.5" y1="483.1" x2="474.5" y2="483.1" stroke="#1a86bb" stroke-width="1"/>
<line x1="520.5" y1="483.1" x2="571.5" y2="483.1" stroke="#1a86bb" stroke-width="1"/>
<line x1="643" y1="483.1" x2="684.5" y2="483.1" stroke="#1a86bb" stroke-width="1"/>
<line x1="8.9" y1="505.2" x2="41.7" y2="505.2" stroke="#dcdcdc" stroke-width="1"/>
<line x1="9.5" y1="503.8" x2="9.5" y2="674.6" stroke="#969696" stroke-width="1.6"/>
<use href="#sw" x="0" y="0" transform="translate(25.5 524.1) scale(1)" style="color:#f99b3c"/>
<path d="M10.6 550.8 L25 550.8 Q27.1 550.8 26.8 548.7M13.2 549.1 L15.6 549.1 Q17.6 549.1 17.2 547.6M10.6 552.8 L17 552.8 Q19.2 552.8 18.8 554.6" fill="none" stroke="#1ba1e0" stroke-width="1.35" stroke-linecap="round"/>
<circle cx="17.2" cy="575.2" r="5.8" fill="none" stroke="#1ba1e0" stroke-width="1.45"/>
<rect x="15.3" y="566.4" width="3.8" height="1.3" fill="#1ba1e0"/>
<rect x="16.5" y="567.4" width="1.4" height="1.6" fill="#1ba1e0"/>
<line x1="21.5" y1="568.8" x2="22.8" y2="570.1" stroke="#1ba1e0" stroke-width="1.1"/>
<path d="M17.2 575.2 L17.2 571.1 A4.1 4.1 0 0 1 19.25 578.75Z" fill="#1ba1e0"/>
<circle cx="19.05" cy="578.4" r="0.42" fill="#1ba1e0"/>
<circle cx="17.2" cy="578.9" r="0.42" fill="#1ba1e0"/>
<circle cx="15.35" cy="578.4" r="0.42" fill="#1ba1e0"/>
<circle cx="14" cy="577.05" r="0.42" fill="#1ba1e0"/>
<circle cx="13.5" cy="575.2" r="0.42" fill="#1ba1e0"/>
<circle cx="14" cy="573.35" r="0.42" fill="#1ba1e0"/>
<circle cx="15.35" cy="572" r="0.42" fill="#1ba1e0"/>
<use href="#pp" x="10.9" y="586"/>
<use href="#pp" x="14.35" y="586"/>
<use href="#pp" transform="translate(17.8 586.79) scale(0.77)"/>
<line x1="23.4" y1="592" x2="23.4" y2="658" stroke="#4a4a4a" stroke-width="0.7" stroke-dasharray="0.8 0.8"/>
<use href="#db" x="10.7" y="654.45"/>
<rect x="14.62" y="654.65" width="1.39" height="5.15" fill="#1ba1e0"/>
<use href="#mg" x="24.8" y="684.2"/>
<path d="M27.43 689.95 L26.64 688.03 L25.96 686.12 L26.86 684.65 L30.24 684.09" fill="none" stroke="#fff" stroke-width="1.3" stroke-linejoin="round" stroke-linecap="round"/>
<line x1="49.52" y1="505.2" x2="82.33" y2="505.2" stroke="#dcdcdc" stroke-width="1"/>
<line x1="50.12" y1="503.8" x2="50.12" y2="674.6" stroke="#969696" stroke-width="1.6"/>
<use href="#sw" x="0" y="0" transform="translate(66.12 524.1) scale(1)" style="color:#fdea96"/>
<path d="M51.23 550.8 L65.62 550.8 Q67.72 550.8 67.42 548.7M53.83 549.1 L56.23 549.1 Q58.23 549.1 57.83 547.6M51.23 552.8 L57.62 552.8 Q59.83 552.8 59.42 554.6" fill="none" stroke="#1ba1e0" stroke-width="1.35" stroke-linecap="round"/>
<circle cx="57.83" cy="575.2" r="5.8" fill="none" stroke="#1ba1e0" stroke-width="1.45"/>
<rect x="55.93" y="566.4" width="3.8" height="1.3" fill="#1ba1e0"/>
<rect x="57.12" y="567.4" width="1.4" height="1.6" fill="#1ba1e0"/>
<line x1="62.12" y1="568.8" x2="63.43" y2="570.1" stroke="#1ba1e0" stroke-width="1.1"/>
<path d="M57.83 575.2 L57.83 571.1 A4.1 4.1 0 0 1 59.88 571.65Z" fill="#1ba1e0"/>
<circle cx="59.68" cy="572" r="0.42" fill="#1ba1e0"/>
<circle cx="61.03" cy="573.35" r="0.42" fill="#1ba1e0"/>
<circle cx="61.53" cy="575.2" r="0.42" fill="#1ba1e0"/>
<circle cx="61.03" cy="577.05" r="0.42" fill="#1ba1e0"/>
<circle cx="59.68" cy="578.4" r="0.42" fill="#1ba1e0"/>
<circle cx="57.83" cy="578.9" r="0.42" fill="#1ba1e0"/>
<circle cx="55.98" cy="578.4" r="0.42" fill="#1ba1e0"/>
<circle cx="54.62" cy="577.05" r="0.42" fill="#1ba1e0"/>
<circle cx="54.12" cy="575.2" r="0.42" fill="#1ba1e0"/>
<circle cx="54.62" cy="573.35" r="0.42" fill="#1ba1e0"/>
<circle cx="55.98" cy="572" r="0.42" fill="#1ba1e0"/>
<use href="#pp" transform="translate(51.52 587.33) scale(0.61)"/>
<line x1="64.03" y1="592" x2="64.03" y2="658" stroke="#4a4a4a" stroke-width="0.7" stroke-dasharray="0.8 0.8"/>
<rect x="51.53" y="654.65" width="0.5" height="5.15" fill="#1ba1e0"/>
<use href="#mg" x="65.42" y="684.2"/>
<path d="M75.38 692.2 L70.87 691.41 L66.92 690.85 L64.67 689.72 L64.11 688.37 L65.8 686.91 L67.49 685.78" fill="none" stroke="#fff" stroke-width="1.3" stroke-linejoin="round" stroke-linecap="round"/>
<line x1="90.15" y1="505.2" x2="122.95" y2="505.2" stroke="#dcdcdc" stroke-width="1"/>
<line x1="90.75" y1="503.8" x2="90.75" y2="674.6" stroke="#969696" stroke-width="1.6"/>
<use href="#sw" x="0" y="0" transform="translate(106.75 524.1) scale(1)" style="color:#fdc26c"/>
<path d="M91.85 550.8 L106.25 550.8 Q108.35 550.8 108.05 548.7M94.45 549.1 L96.85 549.1 Q98.85 549.1 98.45 547.6M91.85 552.8 L98.25 552.8 Q100.45 552.8 100.05 554.6" fill="none" stroke="#1ba1e0" stroke-width="1.35" stroke-linecap="round"/>
<circle cx="98.45" cy="575.2" r="5.8" fill="none" stroke="#1ba1e0" stroke-width="1.45"/>
<rect x="96.55" y="566.4" width="3.8" height="1.3" fill="#1ba1e0"/>
<rect x="97.75" y="567.4" width="1.4" height="1.6" fill="#1ba1e0"/>
<line x1="102.75" y1="568.8" x2="104.05" y2="570.1" stroke="#1ba1e0" stroke-width="1.1"/>
<path d="M98.45 575.2 L98.45 571.1 A4.1 4.1 0 0 1 102 577.25Z" fill="#1ba1e0"/>
<circle cx="101.65" cy="577.05" r="0.42" fill="#1ba1e0"/>
<circle cx="100.3" cy="578.4" r="0.42" fill="#1ba1e0"/>
<circle cx="98.45" cy="578.9" r="0.42" fill="#1ba1e0"/>
<circle cx="96.6" cy="578.4" r="0.42" fill="#1ba1e0"/>
<circle cx="95.25" cy="577.05" r="0.42" fill="#1ba1e0"/>
<circle cx="94.75" cy="575.2" r="0.42" fill="#1ba1e0"/>
<circle cx="95.25" cy="573.35" r="0.42" fill="#1ba1e0"/>
<circle cx="96.6" cy="572" r="0.42" fill="#1ba1e0"/>
<line x1="104.65" y1="592" x2="104.65" y2="658" stroke="#4a4a4a" stroke-width="0.7" stroke-dasharray="0.8 0.8"/>
<use href="#mg" x="106.05" y="684.2"/>
<path d="M104.17 693.67 L101.35 692.88 L97.97 692.2 L95.15 691.41" fill="none" stroke="#fff" stroke-width="1.3" stroke-linejoin="round" stroke-linecap="round"/>
<line x1="130.78" y1="505.2" x2="163.57" y2="505.2" stroke="#dcdcdc" stroke-width="1"/>
<line x1="131.38" y1="503.8" x2="131.38" y2="674.6" stroke="#969696" stroke-width="1.6"/>
<use href="#sw" x="0" y="0" transform="translate(147.38 524.1) scale(1)" style="color:#fdc26c"/>
<path d="M132.47 550.8 L146.88 550.8 Q148.97 550.8 148.67 548.7M135.07 549.1 L137.47 549.1 Q139.47 549.1 139.07 547.6M132.47 552.8 L138.88 552.8 Q141.07 552.8 140.67 554.6" fill="none" stroke="#1ba1e0" stroke-width="1.35" stroke-linecap="round"/>
<circle cx="139.07" cy="575.2" r="5.8" fill="none" stroke="#1ba1e0" stroke-width="1.45"/>
<rect x="137.17" y="566.4" width="3.8" height="1.3" fill="#1ba1e0"/>
<rect x="138.38" y="567.4" width="1.4" height="1.6" fill="#1ba1e0"/>
<line x1="143.38" y1="568.8" x2="144.67" y2="570.1" stroke="#1ba1e0" stroke-width="1.1"/>
<path d="M139.07 575.2 L139.07 571.1 A4.1 4.1 0 0 1 142.63 573.15Z" fill="#1ba1e0"/>
<circle cx="142.28" cy="573.35" r="0.42" fill="#1ba1e0"/>
<circle cx="142.77" cy="575.2" r="0.42" fill="#1ba1e0"/>
<circle cx="142.28" cy="577.05" r="0.42" fill="#1ba1e0"/>
<circle cx="140.92" cy="578.4" r="0.42" fill="#1ba1e0"/>
<circle cx="139.07" cy="578.9" r="0.42" fill="#1ba1e0"/>
<circle cx="137.22" cy="578.4" r="0.42" fill="#1ba1e0"/>
<circle cx="135.87" cy="577.05" r="0.42" fill="#1ba1e0"/>
<circle cx="135.38" cy="575.2" r="0.42" fill="#1ba1e0"/>
<circle cx="135.87" cy="573.35" r="0.42" fill="#1ba1e0"/>
<circle cx="137.22" cy="572" r="0.42" fill="#1ba1e0"/>
<use href="#pp" transform="translate(132.78 588.21) scale(0.35)"/>
<line x1="145.28" y1="592" x2="145.28" y2="658" stroke="#4a4a4a" stroke-width="0.7" stroke-dasharray="0.8 0.8"/>
<use href="#mg" x="146.68" y="684.2"/>
<path d="M149.86 688.03 L146.48 688.15 L144.23 688.82" fill="none" stroke="#fff" stroke-width="1.3" stroke-linejoin="round" stroke-linecap="round"/>
<line x1="171.4" y1="505.2" x2="204.2" y2="505.2" stroke="#dcdcdc" stroke-width="1"/>
<line x1="172" y1="503.8" x2="172" y2="674.6" stroke="#969696" stroke-width="1.6"/>
<use href="#sw" x="0" y="0" transform="translate(188 524.1) scale(1)" style="color:#f57a2c"/>
<path d="M173.1 550.8 L187.5 550.8 Q189.6 550.8 189.3 548.7M175.7 549.1 L178.1 549.1 Q180.1 549.1 179.7 547.6M173.1 552.8 L179.5 552.8 Q181.7 552.8 181.3 554.6" fill="none" stroke="#1ba1e0" stroke-width="1.35" stroke-linecap="round"/>
<circle cx="179.7" cy="575.2" r="5.8" fill="none" stroke="#1ba1e0" stroke-width="1.45"/>
<rect x="177.8" y="566.4" width="3.8" height="1.3" fill="#1ba1e0"/>
<rect x="179" y="567.4" width="1.4" height="1.6" fill="#1ba1e0"/>
<line x1="184" y1="568.8" x2="185.3" y2="570.1" stroke="#1ba1e0" stroke-width="1.1"/>
<path d="M179.7 575.2 L179.7 571.1 A4.1 4.1 0 1 1 177.65 578.75Z" fill="#1ba1e0"/>
<circle cx="177.85" cy="578.4" r="0.42" fill="#1ba1e0"/>
<circle cx="176.5" cy="577.05" r="0.42" fill="#1ba1e0"/>
<circle cx="176" cy="575.2" r="0.42" fill="#1ba1e0"/>
<circle cx="176.5" cy="573.35" r="0.42" fill="#1ba1e0"/>
<circle cx="177.85" cy="572" r="0.42" fill="#1ba1e0"/>
<use href="#pp" x="173.4" y="586.2"/>
<use href="#pp" x="176.85" y="586.2"/>
<use href="#pp" x="180.3" y="586.2"/>
<use href="#pp" x="183.75" y="586.2"/>
<use href="#pp" x="173.4" y="589.7"/>
<use href="#pp" x="176.85" y="589.7"/>
<use href="#pp" x="180.3" y="589.7"/>
<use href="#pp" x="183.75" y="589.7"/>
<use href="#pp" x="173.4" y="593.2"/>
<use href="#pp" x="176.85" y="593.2"/>
<use href="#pp" x="180.3" y="593.2"/>
<use href="#pp" x="183.75" y="593.2"/>
<use href="#pp" x="187.2" y="593.2"/>
<use href="#pp" x="190.65" y="593.2"/>
<use href="#pp" x="194.1" y="593.2"/>
<use href="#pp" x="197.55" y="593.2"/>
<use href="#pp" x="201" y="593.2"/>
<use href="#pp" x="204.45" y="593.2"/>
<line x1="185.9" y1="592" x2="185.9" y2="658" stroke="#4a4a4a" stroke-width="0.7" stroke-dasharray="0.8 0.8"/>
<use href="#db" x="173.2" y="654.45"/>
<rect x="177.12" y="654.65" width="1.78" height="5.15" fill="#1ba1e0"/>
<use href="#mg" x="187.3" y="684.2"/>
<path d="M199.51 692.2 L195 691.08 L192.18 689.72 L191.05 688.03 L190.72 685.21 L192.18 682.4 L195 680.71" fill="none" stroke="#fff" stroke-width="1.3" stroke-linejoin="round" stroke-linecap="round"/>
<line x1="212.03" y1="505.2" x2="244.82" y2="505.2" stroke="#dcdcdc" stroke-width="1"/>
<line x1="212.62" y1="503.8" x2="212.62" y2="674.6" stroke="#969696" stroke-width="1.6"/>
<use href="#sw" x="0" y="0" transform="translate(228.62 524.1) scale(1)" style="color:#d9402b"/>
<path d="M213.72 550.8 L228.12 550.8 Q230.22 550.8 229.92 548.7M216.32 549.1 L218.72 549.1 Q220.72 549.1 220.32 547.6M213.72 552.8 L220.12 552.8 Q222.32 552.8 221.92 554.6" fill="none" stroke="#1ba1e0" stroke-width="1.35" stroke-linecap="round"/>
<circle cx="220.32" cy="575.2" r="5.8" fill="none" stroke="#1ba1e0" stroke-width="1.45"/>
<rect x="218.42" y="566.4" width="3.8" height="1.3" fill="#1ba1e0"/>
<rect x="219.62" y="567.4" width="1.4" height="1.6" fill="#1ba1e0"/>
<line x1="224.62" y1="568.8" x2="225.92" y2="570.1" stroke="#1ba1e0" stroke-width="1.1"/>
<circle cx="220.32" cy="575.2" r="4.1" fill="#1ba1e0"/>
<use href="#pp" x="214.03" y="586"/>
<use href="#pp" x="217.47" y="586"/>
<use href="#pp" transform="translate(220.93 586.58) scale(0.83)"/>
<line x1="226.53" y1="592" x2="226.53" y2="658" stroke="#4a4a4a" stroke-width="0.7" stroke-dasharray="0.8 0.8"/>
<use href="#db" x="213.82" y="654.45"/>
<rect x="217.74" y="654.65" width="0.79" height="5.15" fill="#1ba1e0"/>
<use href="#mg" x="227.93" y="684.2"/>
<path d="M243.51 693.22 L237.88 692.54 L233.37 691.08 L228.86 689.5 L225.25 687.81" fill="none" stroke="#fff" stroke-width="1.3" stroke-linejoin="round" stroke-linecap="round"/>
<line x1="252.65" y1="505.2" x2="285.45" y2="505.2" stroke="#dcdcdc" stroke-width="1"/>
<line x1="253.25" y1="503.8" x2="253.25" y2="674.6" stroke="#969696" stroke-width="1.6"/>
<use href="#sw" x="0" y="0" transform="translate(269.25 524.1) scale(1)" style="color:#f99b3c"/>
<path d="M254.35 550.8 L268.75 550.8 Q270.85 550.8 270.55 548.7M256.95 549.1 L259.35 549.1 Q261.35 549.1 260.95 547.6M254.35 552.8 L260.75 552.8 Q262.95 552.8 262.55 554.6" fill="none" stroke="#1ba1e0" stroke-width="1.35" stroke-linecap="round"/>
<circle cx="260.95" cy="575.2" r="5.8" fill="none" stroke="#1ba1e0" stroke-width="1.45"/>
<rect x="259.05" y="566.4" width="3.8" height="1.3" fill="#1ba1e0"/>
<rect x="260.25" y="567.4" width="1.4" height="1.6" fill="#1ba1e0"/>
<line x1="265.25" y1="568.8" x2="266.55" y2="570.1" stroke="#1ba1e0" stroke-width="1.1"/>
<path d="M260.95 575.2 L260.95 571.1 A4.1 4.1 0 0 1 264.5 577.25Z" fill="#1ba1e0"/>
<circle cx="264.15" cy="577.05" r="0.42" fill="#1ba1e0"/>
<circle cx="262.8" cy="578.4" r="0.42" fill="#1ba1e0"/>
<circle cx="260.95" cy="578.9" r="0.42" fill="#1ba1e0"/>
<circle cx="259.1" cy="578.4" r="0.42" fill="#1ba1e0"/>
<circle cx="257.75" cy="577.05" r="0.42" fill="#1ba1e0"/>
<circle cx="257.25" cy="575.2" r="0.42" fill="#1ba1e0"/>
<circle cx="257.75" cy="573.35" r="0.42" fill="#1ba1e0"/>
<circle cx="259.1" cy="572" r="0.42" fill="#1ba1e0"/>
<use href="#pp" x="254.65" y="586"/>
<use href="#pp" x="258.1" y="586"/>
<use href="#pp" x="261.55" y="586"/>
<use href="#pp" transform="translate(265 587.96) scale(0.42)"/>
<line x1="267.15" y1="592" x2="267.15" y2="658" stroke="#4a4a4a" stroke-width="0.7" stroke-dasharray="0.8 0.8"/>
<use href="#db" x="254.45" y="654.45"/>
<use href="#db" x="258.17" y="654.45"/>
<use href="#db" x="261.89" y="654.45"/>
<use href="#db" x="265.61" y="654.45"/>
<use href="#db" x="269.33" y="654.45"/>
<use href="#db" x="273.05" y="654.45"/>
<use href="#db" x="276.77" y="654.45"/>
<rect x="280.69" y="654.65" width="0.5" height="5.15" fill="#1ba1e0"/>
<use href="#mg" x="268.55" y="684.2"/>
<path d="M279.86 693.1 L275.12 691.98 L270.61 690.29 L266.89 689.05 L264.98 688.6" fill="none" stroke="#fff" stroke-width="1.3" stroke-linejoin="round" stroke-linecap="round"/>
<line x1="293.27" y1="505.2" x2="326.07" y2="505.2" stroke="#dcdcdc" stroke-width="1"/>
<line x1="293.88" y1="503.8" x2="293.88" y2="674.6" stroke="#969696" stroke-width="1.6"/>
<use href="#sw" x="0" y="0" transform="translate(309.88 524.1) scale(1)" style="color:#fdea96"/>
<path d="M294.98 550.8 L309.38 550.8 Q311.48 550.8 311.18 548.7M297.58 549.1 L299.98 549.1 Q301.98 549.1 301.58 547.6M294.98 552.8 L301.38 552.8 Q303.58 552.8 303.18 554.6" fill="none" stroke="#1ba1e0" stroke-width="1.35" stroke-linecap="round"/>
<circle cx="301.57" cy="575.2" r="5.8" fill="none" stroke="#1ba1e0" stroke-width="1.45"/>
<rect x="299.68" y="566.4" width="3.8" height="1.3" fill="#1ba1e0"/>
<rect x="300.88" y="567.4" width="1.4" height="1.6" fill="#1ba1e0"/>
<line x1="305.88" y1="568.8" x2="307.18" y2="570.1" stroke="#1ba1e0" stroke-width="1.1"/>
<path d="M301.57 575.2 L301.57 571.1 A4.1 4.1 0 0 1 303.62 571.65Z" fill="#1ba1e0"/>
<circle cx="303.43" cy="572" r="0.42" fill="#1ba1e0"/>
<circle cx="304.78" cy="573.35" r="0.42" fill="#1ba1e0"/>
<circle cx="305.27" cy="575.2" r="0.42" fill="#1ba1e0"/>
<circle cx="304.78" cy="577.05" r="0.42" fill="#1ba1e0"/>
<circle cx="303.43" cy="578.4" r="0.42" fill="#1ba1e0"/>
<circle cx="301.57" cy="578.9" r="0.42" fill="#1ba1e0"/>
<circle cx="299.72" cy="578.4" r="0.42" fill="#1ba1e0"/>
<circle cx="298.37" cy="577.05" r="0.42" fill="#1ba1e0"/>
<circle cx="297.88" cy="575.2" r="0.42" fill="#1ba1e0"/>
<circle cx="298.37" cy="573.35" r="0.42" fill="#1ba1e0"/>
<circle cx="299.72" cy="572" r="0.42" fill="#1ba1e0"/>
<use href="#pp" x="295.27" y="586"/>
<use href="#pp" transform="translate(298.72 588.21) scale(0.35)"/>
<line x1="307.77" y1="592" x2="307.77" y2="658" stroke="#4a4a4a" stroke-width="0.7" stroke-dasharray="0.8 0.8"/>
<use href="#db" x="295.07" y="654.45"/>
<use href="#db" x="298.8" y="654.45"/>
<use href="#db" x="302.51" y="654.45"/>
<use href="#db" x="306.24" y="654.45"/>
<use href="#db" x="309.95" y="654.45"/>
<use href="#db" x="313.68" y="654.45"/>
<use href="#db" x="317.39" y="654.45"/>
<use href="#db" x="321.12" y="654.45"/>
<use href="#db" x="324.83" y="654.45"/>
<use href="#db" x="328.56" y="654.45"/>
<use href="#mg" x="309.18" y="684.2"/>
<path d="M324.76 692.43 L321.38 692.2 L315.75 690.62 L312.93 688.03 L312.14 685.21 L312.93 682.96" fill="none" stroke="#fff" stroke-width="1.3" stroke-linejoin="round" stroke-linecap="round"/>
<line x1="333.9" y1="505.2" x2="366.7" y2="505.2" stroke="#dcdcdc" stroke-width="1"/>
<line x1="334.5" y1="503.8" x2="334.5" y2="674.6" stroke="#969696" stroke-width="1.6"/>
<use href="#sw" x="0" y="0" transform="translate(350.5 524.1) scale(1)" style="color:#f99b3c"/>
<path d="M335.6 550.8 L350 550.8 Q352.1 550.8 351.8 548.7M338.2 549.1 L340.6 549.1 Q342.6 549.1 342.2 547.6M335.6 552.8 L342 552.8 Q344.2 552.8 343.8 554.6" fill="none" stroke="#1ba1e0" stroke-width="1.35" stroke-linecap="round"/>
<circle cx="342.2" cy="575.2" r="5.8" fill="none" stroke="#1ba1e0" stroke-width="1.45"/>
<rect x="340.3" y="566.4" width="3.8" height="1.3" fill="#1ba1e0"/>
<rect x="341.5" y="567.4" width="1.4" height="1.6" fill="#1ba1e0"/>
<line x1="346.5" y1="568.8" x2="347.8" y2="570.1" stroke="#1ba1e0" stroke-width="1.1"/>
<path d="M342.2 575.2 L342.2 571.1 A4.1 4.1 0 0 1 346.24 574.49Z" fill="#1ba1e0"/>
<circle cx="345.9" cy="575.2" r="0.42" fill="#1ba1e0"/>
<circle cx="345.4" cy="577.05" r="0.42" fill="#1ba1e0"/>
<circle cx="344.05" cy="578.4" r="0.42" fill="#1ba1e0"/>
<circle cx="342.2" cy="578.9" r="0.42" fill="#1ba1e0"/>
<circle cx="340.35" cy="578.4" r="0.42" fill="#1ba1e0"/>
<circle cx="339" cy="577.05" r="0.42" fill="#1ba1e0"/>
<circle cx="338.5" cy="575.2" r="0.42" fill="#1ba1e0"/>
<circle cx="339" cy="573.35" r="0.42" fill="#1ba1e0"/>
<circle cx="340.35" cy="572" r="0.42" fill="#1ba1e0"/>
<use href="#pp" transform="translate(335.9 586.72) scale(0.79)"/>
<line x1="348.4" y1="592" x2="348.4" y2="658" stroke="#4a4a4a" stroke-width="0.7" stroke-dasharray="0.8 0.8"/>
<use href="#db" x="335.7" y="654.45"/>
<use href="#db" x="339.42" y="654.45"/>
<use href="#db" x="343.14" y="654.45"/>
<use href="#db" x="346.86" y="654.45"/>
<use href="#db" x="350.58" y="654.45"/>
<use href="#db" x="354.3" y="654.45"/>
<use href="#db" x="358.02" y="654.45"/>
<use href="#db" x="361.74" y="654.45"/>
<use href="#db" x="365.46" y="654.45"/>
<use href="#db" x="369.18" y="654.45"/>
<use href="#db" x="335.7" y="648.9"/>
<use href="#db" x="339.42" y="648.9"/>
<use href="#db" x="343.14" y="648.9"/>
<use href="#db" x="346.86" y="648.9"/>
<use href="#db" x="350.58" y="648.9"/>
<use href="#db" x="354.3" y="648.9"/>
<use href="#db" x="358.02" y="648.9"/>
<use href="#db" x="361.74" y="648.9"/>
<use href="#db" x="365.46" y="648.9"/>
<use href="#db" x="369.18" y="648.9"/>
<use href="#db" x="335.7" y="643.35"/>
<use href="#db" x="339.42" y="643.35"/>
<use href="#db" x="343.14" y="643.35"/>
<use href="#db" x="346.86" y="643.35"/>
<use href="#db" x="350.58" y="643.35"/>
<use href="#db" x="354.3" y="643.35"/>
<rect x="358.22" y="643.55" width="1.65" height="5.15" fill="#1ba1e0"/>
<use href="#mg" x="349.8" y="684.2"/>
<path d="M362.8 692.2 L359.19 690.29 L356.93 688.6 L353.55 688.26 L350.74 688.15 L350.17 686.57 L351.3 685.21" fill="none" stroke="#fff" stroke-width="1.3" stroke-linejoin="round" stroke-linecap="round"/>
<line x1="374.52" y1="505.2" x2="407.32" y2="505.2" stroke="#dcdcdc" stroke-width="1"/>
<line x1="375.12" y1="503.8" x2="375.12" y2="674.6" stroke="#969696" stroke-width="1.6"/>
<use href="#sw" x="0" y="0" transform="translate(391.12 524.1) scale(1)" style="color:#fdc26c"/>
<path d="M376.23 550.8 L390.62 550.8 Q392.73 550.8 392.43 548.7M378.83 549.1 L381.23 549.1 Q383.23 549.1 382.83 547.6M376.23 552.8 L382.62 552.8 Q384.83 552.8 384.43 554.6" fill="none" stroke="#1ba1e0" stroke-width="1.35" stroke-linecap="round"/>
<circle cx="382.82" cy="575.2" r="5.8" fill="none" stroke="#1ba1e0" stroke-width="1.45"/>
<rect x="380.93" y="566.4" width="3.8" height="1.3" fill="#1ba1e0"/>
<rect x="382.12" y="567.4" width="1.4" height="1.6" fill="#1ba1e0"/>
<line x1="387.12" y1="568.8" x2="388.43" y2="570.1" stroke="#1ba1e0" stroke-width="1.1"/>
<path d="M382.82 575.2 L382.82 571.1 A4.1 4.1 0 0 1 386.93 575.2Z" fill="#1ba1e0"/>
<circle cx="386.52" cy="575.2" r="0.42" fill="#1ba1e0"/>
<circle cx="386.03" cy="577.05" r="0.42" fill="#1ba1e0"/>
<circle cx="384.68" cy="578.4" r="0.42" fill="#1ba1e0"/>
<circle cx="382.82" cy="578.9" r="0.42" fill="#1ba1e0"/>
<circle cx="380.97" cy="578.4" r="0.42" fill="#1ba1e0"/>
<circle cx="379.62" cy="577.05" r="0.42" fill="#1ba1e0"/>
<circle cx="379.12" cy="575.2" r="0.42" fill="#1ba1e0"/>
<circle cx="379.62" cy="573.35" r="0.42" fill="#1ba1e0"/>
<circle cx="380.97" cy="572" r="0.42" fill="#1ba1e0"/>
<line x1="389.02" y1="592" x2="389.02" y2="658" stroke="#4a4a4a" stroke-width="0.7" stroke-dasharray="0.8 0.8"/>
<use href="#mg" x="390.43" y="684.2"/>
<path d="M386.85 694.23 L382.34 693.1 L377.83 691.41 L376.14 689.72" fill="none" stroke="#fff" stroke-width="1.3" stroke-linejoin="round" stroke-linecap="round"/>
<line x1="415.15" y1="505.2" x2="447.95" y2="505.2" stroke="#dcdcdc" stroke-width="1"/>
<line x1="415.75" y1="503.8" x2="415.75" y2="674.6" stroke="#969696" stroke-width="1.6"/>
<use href="#sw" x="0" y="0" transform="translate(431.75 524.1) scale(1)" style="color:#fdc26c"/>
<path d="M416.85 550.8 L431.25 550.8 Q433.35 550.8 433.05 548.7M419.45 549.1 L421.85 549.1 Q423.85 549.1 423.45 547.6M416.85 552.8 L423.25 552.8 Q425.45 552.8 425.05 554.6" fill="none" stroke="#1ba1e0" stroke-width="1.35" stroke-linecap="round"/>
<circle cx="423.45" cy="575.2" r="5.8" fill="none" stroke="#1ba1e0" stroke-width="1.45"/>
<rect x="421.55" y="566.4" width="3.8" height="1.3" fill="#1ba1e0"/>
<rect x="422.75" y="567.4" width="1.4" height="1.6" fill="#1ba1e0"/>
<line x1="427.75" y1="568.8" x2="429.05" y2="570.1" stroke="#1ba1e0" stroke-width="1.1"/>
<path d="M423.45 575.2 L423.45 571.1 A4.1 4.1 0 0 1 427.55 575.2Z" fill="#1ba1e0"/>
<circle cx="427.15" cy="575.2" r="0.42" fill="#1ba1e0"/>
<circle cx="426.65" cy="577.05" r="0.42" fill="#1ba1e0"/>
<circle cx="425.3" cy="578.4" r="0.42" fill="#1ba1e0"/>
<circle cx="423.45" cy="578.9" r="0.42" fill="#1ba1e0"/>
<circle cx="421.6" cy="578.4" r="0.42" fill="#1ba1e0"/>
<circle cx="420.25" cy="577.05" r="0.42" fill="#1ba1e0"/>
<circle cx="419.75" cy="575.2" r="0.42" fill="#1ba1e0"/>
<circle cx="420.25" cy="573.35" r="0.42" fill="#1ba1e0"/>
<circle cx="421.6" cy="572" r="0.42" fill="#1ba1e0"/>
<line x1="429.65" y1="592" x2="429.65" y2="658" stroke="#4a4a4a" stroke-width="0.7" stroke-dasharray="0.8 0.8"/>
<use href="#mg" x="431.05" y="684.2"/>
<path d="M427.48 694.46 L422.4 693.1 L418.46 691.08 L416.77 689.16" fill="none" stroke="#fff" stroke-width="1.3" stroke-linejoin="round" stroke-linecap="round"/>
<line x1="455.77" y1="505.2" x2="488.57" y2="505.2" stroke="#dcdcdc" stroke-width="1"/>
<line x1="456.38" y1="503.8" x2="456.38" y2="674.6" stroke="#969696" stroke-width="1.6"/>
<use href="#sw" x="0" y="0" transform="translate(472.38 524.1) scale(1)" style="color:#f99b3c"/>
<path d="M457.48 550.8 L471.88 550.8 Q473.98 550.8 473.68 548.7M460.08 549.1 L462.48 549.1 Q464.48 549.1 464.08 547.6M457.48 552.8 L463.88 552.8 Q466.08 552.8 465.68 554.6" fill="none" stroke="#1ba1e0" stroke-width="1.35" stroke-linecap="round"/>
<circle cx="464.07" cy="575.2" r="5.8" fill="none" stroke="#1ba1e0" stroke-width="1.45"/>
<rect x="462.18" y="566.4" width="3.8" height="1.3" fill="#1ba1e0"/>
<rect x="463.38" y="567.4" width="1.4" height="1.6" fill="#1ba1e0"/>
<line x1="468.38" y1="568.8" x2="469.68" y2="570.1" stroke="#1ba1e0" stroke-width="1.1"/>
<path d="M464.07 575.2 L464.07 571.1 A4.1 4.1 0 1 1 462.02 578.75Z" fill="#1ba1e0"/>
<circle cx="462.22" cy="578.4" r="0.42" fill="#1ba1e0"/>
<circle cx="460.87" cy="577.05" r="0.42" fill="#1ba1e0"/>
<circle cx="460.38" cy="575.2" r="0.42" fill="#1ba1e0"/>
<circle cx="460.87" cy="573.35" r="0.42" fill="#1ba1e0"/>
<circle cx="462.22" cy="572" r="0.42" fill="#1ba1e0"/>
<line x1="470.27" y1="592" x2="470.27" y2="658" stroke="#4a4a4a" stroke-width="0.7" stroke-dasharray="0.8 0.8"/>
<rect x="457.77" y="654.65" width="0.5" height="5.15" fill="#1ba1e0"/>
<use href="#mg" x="471.68" y="684.2"/>
<path d="M468.1 694.23 L461.34 691.41 L457.96 688.6 L456.83 684.09 L457.73 680.14 L460.21 678.45" fill="none" stroke="#fff" stroke-width="1.3" stroke-linejoin="round" stroke-linecap="round"/>
<line x1="496.4" y1="505.2" x2="529.2" y2="505.2" stroke="#dcdcdc" stroke-width="1"/>
<line x1="497" y1="503.8" x2="497" y2="674.6" stroke="#969696" stroke-width="1.6"/>
<use href="#sw" x="0" y="0" transform="translate(513 524.1) scale(1)" style="color:#fdc26c"/>
<path d="M498.1 550.8 L512.5 550.8 Q514.6 550.8 514.3 548.7M500.7 549.1 L503.1 549.1 Q505.1 549.1 504.7 547.6M498.1 552.8 L504.5 552.8 Q506.7 552.8 506.3 554.6" fill="none" stroke="#1ba1e0" stroke-width="1.35" stroke-linecap="round"/>
<circle cx="504.7" cy="575.2" r="5.8" fill="none" stroke="#1ba1e0" stroke-width="1.45"/>
<rect x="502.8" y="566.4" width="3.8" height="1.3" fill="#1ba1e0"/>
<rect x="504" y="567.4" width="1.4" height="1.6" fill="#1ba1e0"/>
<line x1="509" y1="568.8" x2="510.3" y2="570.1" stroke="#1ba1e0" stroke-width="1.1"/>
<path d="M504.7 575.2 L504.7 571.1 A4.1 4.1 0 0 1 508.25 577.25Z" fill="#1ba1e0"/>
<circle cx="507.9" cy="577.05" r="0.42" fill="#1ba1e0"/>
<circle cx="506.55" cy="578.4" r="0.42" fill="#1ba1e0"/>
<circle cx="504.7" cy="578.9" r="0.42" fill="#1ba1e0"/>
<circle cx="502.85" cy="578.4" r="0.42" fill="#1ba1e0"/>
<circle cx="501.5" cy="577.05" r="0.42" fill="#1ba1e0"/>
<circle cx="501" cy="575.2" r="0.42" fill="#1ba1e0"/>
<circle cx="501.5" cy="573.35" r="0.42" fill="#1ba1e0"/>
<circle cx="502.85" cy="572" r="0.42" fill="#1ba1e0"/>
<use href="#pp" transform="translate(498.4 588.21) scale(0.35)"/>
<line x1="510.9" y1="592" x2="510.9" y2="658" stroke="#4a4a4a" stroke-width="0.7" stroke-dasharray="0.8 0.8"/>
<use href="#mg" x="512.3" y="684.2"/>
<path d="M510.76 694.23 L506.47 692.54 L501.96 690.29 L498.58 686.34 L498.02 682.96" fill="none" stroke="#fff" stroke-width="1.3" stroke-linejoin="round" stroke-linecap="round"/>
<line x1="537.02" y1="505.2" x2="569.83" y2="505.2" stroke="#dcdcdc" stroke-width="1"/>
<line x1="537.62" y1="503.8" x2="537.62" y2="674.6" stroke="#969696" stroke-width="1.6"/>
<use href="#sw" x="0" y="0" transform="translate(553.62 524.1) scale(1)" style="color:#f57a2c"/>
<path d="M538.73 550.8 L553.12 550.8 Q555.23 550.8 554.93 548.7M541.33 549.1 L543.73 549.1 Q545.73 549.1 545.33 547.6M538.73 552.8 L545.12 552.8 Q547.33 552.8 546.93 554.6" fill="none" stroke="#1ba1e0" stroke-width="1.35" stroke-linecap="round"/>
<circle cx="545.33" cy="575.2" r="5.8" fill="none" stroke="#1ba1e0" stroke-width="1.45"/>
<rect x="543.43" y="566.4" width="3.8" height="1.3" fill="#1ba1e0"/>
<rect x="544.62" y="567.4" width="1.4" height="1.6" fill="#1ba1e0"/>
<line x1="549.62" y1="568.8" x2="550.93" y2="570.1" stroke="#1ba1e0" stroke-width="1.1"/>
<path d="M545.33 575.2 L545.33 571.1 A4.1 4.1 0 1 1 543.28 578.75Z" fill="#1ba1e0"/>
<circle cx="543.48" cy="578.4" r="0.42" fill="#1ba1e0"/>
<circle cx="542.12" cy="577.05" r="0.42" fill="#1ba1e0"/>
<circle cx="541.62" cy="575.2" r="0.42" fill="#1ba1e0"/>
<circle cx="542.12" cy="573.35" r="0.42" fill="#1ba1e0"/>
<circle cx="543.48" cy="572" r="0.42" fill="#1ba1e0"/>
<line x1="551.52" y1="592" x2="551.52" y2="658" stroke="#4a4a4a" stroke-width="0.7" stroke-dasharray="0.8 0.8"/>
<use href="#mg" x="552.92" y="684.2"/>
<path d="M549.35 692.65 L548 691.08 L546.87 689.72 L545.18 689.61" fill="none" stroke="#fff" stroke-width="1.3" stroke-linejoin="round" stroke-linecap="round"/>
<line x1="577.65" y1="505.2" x2="610.45" y2="505.2" stroke="#dcdcdc" stroke-width="1"/>
<line x1="578.25" y1="503.8" x2="578.25" y2="674.6" stroke="#969696" stroke-width="1.6"/>
<use href="#sw" x="0" y="0" transform="translate(594.25 524.1) scale(1)" style="color:#b3161c"/>
<path d="M579.35 550.8 L593.75 550.8 Q595.85 550.8 595.55 548.7M581.95 549.1 L584.35 549.1 Q586.35 549.1 585.95 547.6M579.35 552.8 L585.75 552.8 Q587.95 552.8 587.55 554.6" fill="none" stroke="#1ba1e0" stroke-width="1.35" stroke-linecap="round"/>
<circle cx="585.95" cy="575.2" r="5.8" fill="none" stroke="#1ba1e0" stroke-width="1.45"/>
<rect x="584.05" y="566.4" width="3.8" height="1.3" fill="#1ba1e0"/>
<rect x="585.25" y="567.4" width="1.4" height="1.6" fill="#1ba1e0"/>
<line x1="590.25" y1="568.8" x2="591.55" y2="570.1" stroke="#1ba1e0" stroke-width="1.1"/>
<path d="M585.95 575.2 L585.95 571.1 A4.1 4.1 0 1 1 583.9 578.75Z" fill="#1ba1e0"/>
<circle cx="584.1" cy="578.4" r="0.42" fill="#1ba1e0"/>
<circle cx="582.75" cy="577.05" r="0.42" fill="#1ba1e0"/>
<circle cx="582.25" cy="575.2" r="0.42" fill="#1ba1e0"/>
<circle cx="582.75" cy="573.35" r="0.42" fill="#1ba1e0"/>
<circle cx="584.1" cy="572" r="0.42" fill="#1ba1e0"/>
<use href="#pp" transform="translate(579.45 586) scale(1.18 1.05)"/>
<use href="#pp" transform="translate(582.9 586) scale(1.18 1.05)"/>
<use href="#pp" transform="translate(586.35 586) scale(1.18 1.05)"/>
<use href="#pp" transform="translate(579.45 589.3) scale(1.18 1.05)"/>
<use href="#pp" transform="translate(582.9 589.3) scale(1.18 1.05)"/>
<use href="#pp" transform="translate(586.35 589.3) scale(1.18 1.05)"/>
<use href="#pp" transform="translate(579.45 592.6) scale(1.18 1.05)"/>
<use href="#pp" transform="translate(582.9 592.6) scale(1.18 1.05)"/>
<use href="#pp" transform="translate(586.35 592.6) scale(1.18 1.05)"/>
<use href="#pp" transform="translate(589.8 592.6) scale(1.18 1.05)"/>
<use href="#pp" transform="translate(593.25 592.6) scale(1.18 1.05)"/>
<use href="#pp" transform="translate(596.7 592.6) scale(1.18 1.05)"/>
<use href="#pp" transform="translate(600.15 592.6) scale(1.18 1.05)"/>
<use href="#pp" transform="translate(603.6 592.6) scale(1.18 1.05)"/>
<use href="#pp" transform="translate(607.05 592.6) scale(1.18 1.05)"/>
<use href="#pp" transform="translate(610.5 592.6) scale(1.18 1.05)"/>
<use href="#pp" transform="translate(579.45 595.9) scale(1.18 1.05)"/>
<use href="#pp" transform="translate(582.9 595.9) scale(1.18 1.05)"/>
<use href="#pp" transform="translate(586.35 595.9) scale(1.18 1.05)"/>
<use href="#pp" transform="translate(589.8 595.9) scale(1.18 1.05)"/>
<use href="#pp" transform="translate(593.25 595.9) scale(1.18 1.05)"/>
<use href="#pp" transform="translate(596.7 595.9) scale(1.18 1.05)"/>
<use href="#pp" transform="translate(600.15 595.9) scale(1.18 1.05)"/>
<use href="#pp" transform="translate(603.6 595.9) scale(1.18 1.05)"/>
<use href="#pp" transform="translate(607.05 595.9) scale(1.18 1.05)"/>
<use href="#pp" transform="translate(610.5 595.9) scale(1.18 1.05)"/>
<use href="#pp" transform="translate(579.45 599.2) scale(1.18 1.05)"/>
<use href="#pp" transform="translate(582.9 599.2) scale(1.18 1.05)"/>
<use href="#pp" transform="translate(586.35 599.2) scale(1.18 1.05)"/>
<use href="#pp" transform="translate(589.8 599.2) scale(1.18 1.05)"/>
<use href="#pp" transform="translate(593.25 599.2) scale(1.18 1.05)"/>
<use href="#pp" transform="translate(596.7 599.2) scale(1.18 1.05)"/>
<use href="#pp" transform="translate(600.15 599.2) scale(1.18 1.05)"/>
<use href="#pp" transform="translate(603.6 599.2) scale(1.18 1.05)"/>
<use href="#pp" transform="translate(607.05 599.2) scale(1.18 1.05)"/>
<use href="#pp" transform="translate(610.5 599.2) scale(1.18 1.05)"/>
<use href="#pp" transform="translate(579.45 602.5) scale(1.18 1.05)"/>
<use href="#pp" transform="translate(582.9 602.5) scale(1.18 1.05)"/>
<use href="#pp" transform="translate(586.35 602.5) scale(1.18 1.05)"/>
<use href="#pp" transform="translate(589.8 602.5) scale(1.18 1.05)"/>
<use href="#pp" transform="translate(593.25 602.5) scale(1.18 1.05)"/>
<use href="#pp" transform="translate(596.7 602.5) scale(1.18 1.05)"/>
<use href="#pp" transform="translate(600.15 602.5) scale(1.18 1.05)"/>
<use href="#pp" transform="translate(603.6 602.5) scale(1.18 1.05)"/>
<use href="#pp" transform="translate(607.05 602.5) scale(1.18 1.05)"/>
<use href="#pp" transform="translate(610.5 602.5) scale(1.18 1.05)"/>
<use href="#pp" transform="translate(579.45 605.8) scale(1.18 1.05)"/>
<use href="#pp" transform="translate(582.9 605.8) scale(1.18 1.05)"/>
<use href="#pp" transform="translate(586.35 605.8) scale(1.18 1.05)"/>
<use href="#pp" transform="translate(589.8 605.8) scale(1.18 1.05)"/>
<use href="#pp" transform="translate(593.25 605.8) scale(1.18 1.05)"/>
<use href="#pp" transform="translate(596.7 605.8) scale(1.18 1.05)"/>
<use href="#pp" transform="translate(600.15 605.8) scale(1.18 1.05)"/>
<use href="#pp" transform="translate(603.6 605.8) scale(1.18 1.05)"/>
<use href="#pp" transform="translate(607.05 605.8) scale(1.18 1.05)"/>
<use href="#pp" transform="translate(610.5 605.8) scale(1.18 1.05)"/>
<use href="#pp" transform="translate(579.45 609.1) scale(1.18 1.05)"/>
<use href="#pp" transform="translate(582.9 609.1) scale(1.18 1.05)"/>
<use href="#pp" transform="translate(586.35 609.1) scale(1.18 1.05)"/>
<use href="#pp" transform="translate(589.8 609.1) scale(1.18 1.05)"/>
<use href="#pp" transform="translate(593.25 609.1) scale(1.18 1.05)"/>
<use href="#pp" transform="translate(596.7 609.1) scale(1.18 1.05)"/>
<use href="#pp" transform="translate(600.15 609.1) scale(1.18 1.05)"/>
<use href="#pp" transform="translate(603.6 609.1) scale(1.18 1.05)"/>
<use href="#pp" transform="translate(607.05 609.1) scale(1.18 1.05)"/>
<use href="#pp" transform="translate(610.5 609.1) scale(1.18 1.05)"/>
<use href="#pp" transform="translate(579.45 612.4) scale(1.18 1.05)"/>
<use href="#pp" transform="translate(582.9 612.4) scale(1.18 1.05)"/>
<use href="#pp" transform="translate(586.35 612.4) scale(1.18 1.05)"/>
<use href="#pp" transform="translate(589.8 612.4) scale(1.18 1.05)"/>
<use href="#pp" transform="translate(593.25 612.4) scale(1.18 1.05)"/>
<use href="#pp" transform="translate(596.7 612.4) scale(1.18 1.05)"/>
<use href="#pp" transform="translate(600.15 612.4) scale(1.18 1.05)"/>
<use href="#pp" transform="translate(603.6 612.4) scale(1.18 1.05)"/>
<use href="#pp" transform="translate(607.05 612.4) scale(1.18 1.05)"/>
<use href="#pp" transform="translate(610.5 612.4) scale(1.18 1.05)"/>
<use href="#pp" transform="translate(579.45 615.7) scale(1.18 1.05)"/>
<use href="#pp" transform="translate(582.9 615.7) scale(1.18 1.05)"/>
<use href="#pp" transform="translate(586.35 615.7) scale(1.18 1.05)"/>
<use href="#pp" transform="translate(589.8 615.7) scale(1.18 1.05)"/>
<use href="#pp" transform="translate(593.25 615.7) scale(1.18 1.05)"/>
<use href="#pp" transform="translate(596.7 615.7) scale(1.18 1.05)"/>
<use href="#pp" transform="translate(600.15 615.7) scale(1.18 1.05)"/>
<use href="#pp" transform="translate(603.6 615.7) scale(1.18 1.05)"/>
<use href="#pp" transform="translate(607.05 615.7) scale(1.18 1.05)"/>
<use href="#pp" transform="translate(610.5 615.7) scale(1.18 1.05)"/>
<use href="#pp" transform="translate(579.45 619) scale(1.18 1.05)"/>
<use href="#pp" transform="translate(582.9 619) scale(1.18 1.05)"/>
<use href="#pp" transform="translate(586.35 619) scale(1.18 1.05)"/>
<use href="#pp" transform="translate(589.8 619) scale(1.18 1.05)"/>
<use href="#pp" transform="translate(593.25 619) scale(1.18 1.05)"/>
<use href="#pp" transform="translate(596.7 619) scale(1.18 1.05)"/>
<use href="#pp" transform="translate(600.15 619) scale(1.18 1.05)"/>
<use href="#pp" transform="translate(603.6 619) scale(1.18 1.05)"/>
<use href="#pp" transform="translate(607.05 619) scale(1.18 1.05)"/>
<use href="#pp" transform="translate(610.5 619) scale(1.18 1.05)"/>
<use href="#pp" transform="translate(579.45 622.3) scale(1.18 1.05)"/>
<use href="#pp" transform="translate(582.9 622.3) scale(1.18 1.05)"/>
<use href="#pp" transform="translate(586.35 622.3) scale(1.18 1.05)"/>
<use href="#pp" transform="translate(589.8 622.3) scale(1.18 1.05)"/>
<use href="#pp" transform="translate(593.25 622.3) scale(1.18 1.05)"/>
<use href="#pp" transform="translate(596.7 622.3) scale(1.18 1.05)"/>
<use href="#pp" transform="translate(600.15 622.3) scale(1.18 1.05)"/>
<use href="#pp" transform="translate(603.6 622.3) scale(1.18 1.05)"/>
<use href="#pp" transform="translate(607.05 622.3) scale(1.18 1.05)"/>
<use href="#pp" transform="translate(610.5 622.3) scale(1.18 1.05)"/>
<use href="#pp" transform="translate(579.45 625.6) scale(1.18 1.05)"/>
<use href="#pp" transform="translate(582.9 625.6) scale(1.18 1.05)"/>
<use href="#pp" transform="translate(586.35 625.6) scale(1.18 1.05)"/>
<use href="#pp" transform="translate(589.8 625.6) scale(1.18 1.05)"/>
<use href="#pp" transform="translate(593.25 625.6) scale(1.18 1.05)"/>
<use href="#pp" transform="translate(596.7 625.6) scale(1.18 1.05)"/>
<use href="#pp" transform="translate(600.15 625.6) scale(1.18 1.05)"/>
<use href="#pp" transform="translate(603.6 625.6) scale(1.18 1.05)"/>
<use href="#pp" transform="translate(607.05 625.6) scale(1.18 1.05)"/>
<use href="#pp" transform="translate(610.5 625.6) scale(1.18 1.05)"/>
<use href="#pp" transform="translate(579.45 628.9) scale(1.18 1.05)"/>
<use href="#pp" transform="translate(582.9 628.9) scale(1.18 1.05)"/>
<use href="#pp" transform="translate(586.35 628.9) scale(1.18 1.05)"/>
<use href="#pp" transform="translate(589.8 628.9) scale(1.18 1.05)"/>
<use href="#pp" transform="translate(593.25 628.9) scale(1.18 1.05)"/>
<use href="#pp" transform="translate(596.7 628.9) scale(1.18 1.05)"/>
<use href="#pp" transform="translate(600.15 628.9) scale(1.18 1.05)"/>
<use href="#pp" transform="translate(603.6 628.9) scale(1.18 1.05)"/>
<use href="#pp" transform="translate(607.05 628.9) scale(1.18 1.05)"/>
<use href="#pp" transform="translate(610.5 628.9) scale(1.18 1.05)"/>
<use href="#pp" x="579.65" y="632.2"/>
<line x1="592.15" y1="592" x2="592.15" y2="658" stroke="#4a4a4a" stroke-width="0.7" stroke-dasharray="0.8 0.8"/>
<use href="#db" x="579.45" y="654.45"/>
<use href="#db" x="583.17" y="654.45"/>
<use href="#db" x="586.89" y="654.45"/>
<use href="#db" x="590.61" y="654.45"/>
<use href="#db" x="594.33" y="654.45"/>
<use href="#db" x="598.05" y="654.45"/>
<rect x="601.97" y="654.65" width="0.66" height="5.15" fill="#1ba1e0"/>
<use href="#mg" x="593.55" y="684.2"/>
<path d="M598.32 692.88 L596.74 691.75 L593.92 691.75 L593.58 690.62 L595.61 689.95 L597.19 688.37 L600.12 686.91" fill="none" stroke="#fff" stroke-width="1.3" stroke-linejoin="round" stroke-linecap="round"/>
<line x1="618.27" y1="505.2" x2="651.08" y2="505.2" stroke="#dcdcdc" stroke-width="1"/>
<line x1="618.88" y1="503.8" x2="618.88" y2="674.6" stroke="#969696" stroke-width="1.6"/>
<use href="#sw" x="0" y="0" transform="translate(634.88 524.1) scale(1)" style="color:#fdea96"/>
<path d="M619.98 550.8 L634.38 550.8 Q636.48 550.8 636.18 548.7M622.58 549.1 L624.98 549.1 Q626.98 549.1 626.58 547.6M619.98 552.8 L626.38 552.8 Q628.58 552.8 628.18 554.6" fill="none" stroke="#1ba1e0" stroke-width="1.35" stroke-linecap="round"/>
<circle cx="626.58" cy="575.2" r="5.8" fill="none" stroke="#1ba1e0" stroke-width="1.45"/>
<rect x="624.68" y="566.4" width="3.8" height="1.3" fill="#1ba1e0"/>
<rect x="625.88" y="567.4" width="1.4" height="1.6" fill="#1ba1e0"/>
<line x1="630.88" y1="568.8" x2="632.18" y2="570.1" stroke="#1ba1e0" stroke-width="1.1"/>
<path d="M626.58 575.2 L626.58 571.1 A4.1 4.1 0 0 1 628.62 571.65Z" fill="#1ba1e0"/>
<circle cx="628.43" cy="572" r="0.42" fill="#1ba1e0"/>
<circle cx="629.78" cy="573.35" r="0.42" fill="#1ba1e0"/>
<circle cx="630.28" cy="575.2" r="0.42" fill="#1ba1e0"/>
<circle cx="629.78" cy="577.05" r="0.42" fill="#1ba1e0"/>
<circle cx="628.43" cy="578.4" r="0.42" fill="#1ba1e0"/>
<circle cx="626.58" cy="578.9" r="0.42" fill="#1ba1e0"/>
<circle cx="624.73" cy="578.4" r="0.42" fill="#1ba1e0"/>
<circle cx="623.37" cy="577.05" r="0.42" fill="#1ba1e0"/>
<circle cx="622.88" cy="575.2" r="0.42" fill="#1ba1e0"/>
<circle cx="623.37" cy="573.35" r="0.42" fill="#1ba1e0"/>
<circle cx="624.73" cy="572" r="0.42" fill="#1ba1e0"/>
<line x1="632.77" y1="592" x2="632.77" y2="658" stroke="#4a4a4a" stroke-width="0.7" stroke-dasharray="0.8 0.8"/>
<use href="#mg" x="634.17" y="684.2"/>
<path d="M630.6 693.67 L627.22 692.2 L624.4 690.85 L623.28 688.6" fill="none" stroke="#fff" stroke-width="1.3" stroke-linejoin="round" stroke-linecap="round"/>
<line x1="658.9" y1="505.2" x2="691.7" y2="505.2" stroke="#dcdcdc" stroke-width="1"/>
<line x1="659.5" y1="503.8" x2="659.5" y2="674.6" stroke="#969696" stroke-width="1.6"/>
<use href="#sw" x="0" y="0" transform="translate(675.5 524.1) scale(1)" style="color:#fdea96"/>
<path d="M660.6 550.8 L675 550.8 Q677.1 550.8 676.8 548.7M663.2 549.1 L665.6 549.1 Q667.6 549.1 667.2 547.6M660.6 552.8 L667 552.8 Q669.2 552.8 668.8 554.6" fill="none" stroke="#1ba1e0" stroke-width="1.35" stroke-linecap="round"/>
<circle cx="667.2" cy="575.2" r="5.8" fill="none" stroke="#1ba1e0" stroke-width="1.45"/>
<rect x="665.3" y="566.4" width="3.8" height="1.3" fill="#1ba1e0"/>
<rect x="666.5" y="567.4" width="1.4" height="1.6" fill="#1ba1e0"/>
<line x1="671.5" y1="568.8" x2="672.8" y2="570.1" stroke="#1ba1e0" stroke-width="1.1"/>
<path d="M667.2 575.2 L667.2 571.1 A4.1 4.1 0 0 1 670.75 573.15Z" fill="#1ba1e0"/>
<circle cx="670.4" cy="573.35" r="0.42" fill="#1ba1e0"/>
<circle cx="670.9" cy="575.2" r="0.42" fill="#1ba1e0"/>
<circle cx="670.4" cy="577.05" r="0.42" fill="#1ba1e0"/>
<circle cx="669.05" cy="578.4" r="0.42" fill="#1ba1e0"/>
<circle cx="667.2" cy="578.9" r="0.42" fill="#1ba1e0"/>
<circle cx="665.35" cy="578.4" r="0.42" fill="#1ba1e0"/>
<circle cx="664" cy="577.05" r="0.42" fill="#1ba1e0"/>
<circle cx="663.5" cy="575.2" r="0.42" fill="#1ba1e0"/>
<circle cx="664" cy="573.35" r="0.42" fill="#1ba1e0"/>
<circle cx="665.35" cy="572" r="0.42" fill="#1ba1e0"/>
<line x1="673.4" y1="592" x2="673.4" y2="658" stroke="#4a4a4a" stroke-width="0.7" stroke-dasharray="0.8 0.8"/>
<use href="#mg" x="674.8" y="684.2"/>
<path d="M671.23 693.1 L668.41 691.41 L666.15 689.16 L665.59 686.91" fill="none" stroke="#fff" stroke-width="1.3" stroke-linejoin="round" stroke-linecap="round"/>
<line x1="8" y1="741.1" x2="694" y2="741.1" stroke="#a4a4a4" stroke-width="0.9" stroke-dasharray="1 1"/>
<line x1="155" y1="735.9" x2="275" y2="735.9" stroke="#1a86bb" stroke-width="1"/>
<line x1="358" y1="735.9" x2="393" y2="735.9" stroke="#1a86bb" stroke-width="1"/>
<line x1="8.9" y1="758" x2="41.7" y2="758" stroke="#dcdcdc" stroke-width="1"/>
<line x1="9.5" y1="756.6" x2="9.5" y2="927.4" stroke="#969696" stroke-width="1.6"/>
<use href="#sw" x="0" y="0" transform="translate(25.5 776.9) scale(1)" style="color:#fdc26c"/>
<path d="M10.6 803.6 L25 803.6 Q27.1 803.6 26.8 801.5M13.2 801.9 L15.6 801.9 Q17.6 801.9 17.2 800.4M10.6 805.6 L17 805.6 Q19.2 805.6 18.8 807.4" fill="none" stroke="#1ba1e0" stroke-width="1.35" stroke-linecap="round"/>
<circle cx="17.2" cy="828" r="5.8" fill="none" stroke="#1ba1e0" stroke-width="1.45"/>
<rect x="15.3" y="819.2" width="3.8" height="1.3" fill="#1ba1e0"/>
<rect x="16.5" y="820.2" width="1.4" height="1.6" fill="#1ba1e0"/>
<line x1="21.5" y1="821.6" x2="22.8" y2="822.9" stroke="#1ba1e0" stroke-width="1.1"/>
<path d="M17.2 828 L17.2 823.9 A4.1 4.1 0 0 1 21.3 828Z" fill="#1ba1e0"/>
<circle cx="20.9" cy="828" r="0.42" fill="#1ba1e0"/>
<circle cx="20.4" cy="829.85" r="0.42" fill="#1ba1e0"/>
<circle cx="19.05" cy="831.2" r="0.42" fill="#1ba1e0"/>
<circle cx="17.2" cy="831.7" r="0.42" fill="#1ba1e0"/>
<circle cx="15.35" cy="831.2" r="0.42" fill="#1ba1e0"/>
<circle cx="14" cy="829.85" r="0.42" fill="#1ba1e0"/>
<circle cx="13.5" cy="828" r="0.42" fill="#1ba1e0"/>
<circle cx="14" cy="826.15" r="0.42" fill="#1ba1e0"/>
<circle cx="15.35" cy="824.8" r="0.42" fill="#1ba1e0"/>
<use href="#pp" transform="translate(10.9 841.01) scale(0.35)"/>
<line x1="23.4" y1="844.8" x2="23.4" y2="910.8" stroke="#4a4a4a" stroke-width="0.7" stroke-dasharray="0.8 0.8"/>
<rect x="10.9" y="907.45" width="0.5" height="5.15" fill="#1ba1e0"/>
<use href="#mg" x="24.8" y="937"/>
<path d="M19.54 945.9 L18.41 945 L19.54 943.65 L21.23 942.52" fill="none" stroke="#fff" stroke-width="1.3" stroke-linejoin="round" stroke-linecap="round"/>
<line x1="49.52" y1="758" x2="82.33" y2="758" stroke="#dcdcdc" stroke-width="1"/>
<line x1="50.12" y1="756.6" x2="50.12" y2="927.4" stroke="#969696" stroke-width="1.6"/>
<use href="#sw" x="0" y="0" transform="translate(66.12 776.9) scale(1)" style="color:#f99b3c"/>
<path d="M51.23 803.6 L65.62 803.6 Q67.72 803.6 67.42 801.5M53.83 801.9 L56.23 801.9 Q58.23 801.9 57.83 800.4M51.23 805.6 L57.62 805.6 Q59.83 805.6 59.42 807.4" fill="none" stroke="#1ba1e0" stroke-width="1.35" stroke-linecap="round"/>
<circle cx="57.83" cy="828" r="5.8" fill="none" stroke="#1ba1e0" stroke-width="1.45"/>
<rect x="55.93" y="819.2" width="3.8" height="1.3" fill="#1ba1e0"/>
<rect x="57.12" y="820.2" width="1.4" height="1.6" fill="#1ba1e0"/>
<line x1="62.12" y1="821.6" x2="63.43" y2="822.9" stroke="#1ba1e0" stroke-width="1.1"/>
<path d="M57.83 828 L57.83 823.9 A4.1 4.1 0 1 1 55.78 831.55Z" fill="#1ba1e0"/>
<circle cx="55.98" cy="831.2" r="0.42" fill="#1ba1e0"/>
<circle cx="54.62" cy="829.85" r="0.42" fill="#1ba1e0"/>
<circle cx="54.12" cy="828" r="0.42" fill="#1ba1e0"/>
<circle cx="54.62" cy="826.15" r="0.42" fill="#1ba1e0"/>
<circle cx="55.98" cy="824.8" r="0.42" fill="#1ba1e0"/>
<use href="#pp" transform="translate(51.52 839.77) scale(0.71)"/>
<line x1="64.03" y1="844.8" x2="64.03" y2="910.8" stroke="#4a4a4a" stroke-width="0.7" stroke-dasharray="0.8 0.8"/>
<use href="#db" x="51.33" y="907.25"/>
<use href="#db" x="55.05" y="907.25"/>
<use href="#db" x="58.77" y="907.25"/>
<use href="#db" x="62.48" y="907.25"/>
<use href="#db" x="66.2" y="907.25"/>
<rect x="70.13" y="907.45" width="1.22" height="5.15" fill="#1ba1e0"/>
<use href="#mg" x="65.42" y="937"/>
<path d="M79.89 944.21 L75.38 942.52 L71.43 939.71 L69.18 936.89 L68.05 934.63" fill="none" stroke="#fff" stroke-width="1.3" stroke-linejoin="round" stroke-linecap="round"/>
<line x1="90.15" y1="758" x2="122.95" y2="758" stroke="#dcdcdc" stroke-width="1"/>
<line x1="90.75" y1="756.6" x2="90.75" y2="927.4" stroke="#969696" stroke-width="1.6"/>
<use href="#sw" x="0" y="0" transform="translate(106.75 776.9) scale(1)" style="color:#d9402b"/>
<path d="M91.85 803.6 L106.25 803.6 Q108.35 803.6 108.05 801.5M94.45 801.9 L96.85 801.9 Q98.85 801.9 98.45 800.4M91.85 805.6 L98.25 805.6 Q100.45 805.6 100.05 807.4" fill="none" stroke="#1ba1e0" stroke-width="1.35" stroke-linecap="round"/>
<circle cx="98.45" cy="828" r="5.8" fill="none" stroke="#1ba1e0" stroke-width="1.45"/>
<rect x="96.55" y="819.2" width="3.8" height="1.3" fill="#1ba1e0"/>
<rect x="97.75" y="820.2" width="1.4" height="1.6" fill="#1ba1e0"/>
<line x1="102.75" y1="821.6" x2="104.05" y2="822.9" stroke="#1ba1e0" stroke-width="1.1"/>
<path d="M98.45 828 L98.45 823.9 A4.1 4.1 0 1 1 94.9 825.95Z" fill="#1ba1e0"/>
<circle cx="95.25" cy="826.15" r="0.42" fill="#1ba1e0"/>
<circle cx="96.6" cy="824.8" r="0.42" fill="#1ba1e0"/>
<use href="#pp" x="92.15" y="838.8"/>
<use href="#pp" transform="translate(95.6 840.53) scale(0.49)"/>
<line x1="104.65" y1="844.8" x2="104.65" y2="910.8" stroke="#4a4a4a" stroke-width="0.7" stroke-dasharray="0.8 0.8"/>
<use href="#db" x="91.95" y="907.25"/>
<use href="#db" x="95.67" y="907.25"/>
<use href="#db" x="99.39" y="907.25"/>
<use href="#db" x="103.11" y="907.25"/>
<use href="#db" x="106.83" y="907.25"/>
<use href="#db" x="110.55" y="907.25"/>
<use href="#db" x="114.27" y="907.25"/>
<use href="#db" x="117.99" y="907.25"/>
<use href="#db" x="121.71" y="907.25"/>
<use href="#db" x="125.43" y="907.25"/>
<use href="#db" x="91.95" y="901.7"/>
<use href="#db" x="95.67" y="901.7"/>
<use href="#db" x="99.39" y="901.7"/>
<use href="#db" x="103.11" y="901.7"/>
<use href="#db" x="106.83" y="901.7"/>
<use href="#db" x="110.55" y="901.7"/>
<use href="#db" x="114.27" y="901.7"/>
<use href="#db" x="117.99" y="901.7"/>
<use href="#db" x="121.71" y="901.7"/>
<use href="#db" x="125.43" y="901.7"/>
<use href="#db" x="91.95" y="896.15"/>
<use href="#db" x="95.67" y="896.15"/>
<use href="#db" x="99.39" y="896.15"/>
<rect x="103.31" y="896.35" width="0.99" height="5.15" fill="#1ba1e0"/>
<use href="#mg" x="106.05" y="937"/>
<path d="M121.08 946.36 L117.13 945.68 L111.49 943.88 L108.68 941.96 L107.55 939.71 L109.8 937.45 L112.62 938.01" fill="none" stroke="#fff" stroke-width="1.3" stroke-linejoin="round" stroke-linecap="round"/>
<line x1="130.78" y1="758" x2="163.57" y2="758" stroke="#dcdcdc" stroke-width="1"/>
<line x1="131.38" y1="756.6" x2="131.38" y2="927.4" stroke="#969696" stroke-width="1.6"/>
<use href="#sw" x="0" y="0" transform="translate(147.38 776.9) scale(1)" style="color:#fdea96"/>
<path d="M132.47 803.6 L146.88 803.6 Q148.97 803.6 148.67 801.5M135.07 801.9 L137.47 801.9 Q139.47 801.9 139.07 800.4M132.47 805.6 L138.88 805.6 Q141.07 805.6 140.67 807.4" fill="none" stroke="#1ba1e0" stroke-width="1.35" stroke-linecap="round"/>
<circle cx="139.07" cy="828" r="5.8" fill="none" stroke="#1ba1e0" stroke-width="1.45"/>
<rect x="137.17" y="819.2" width="3.8" height="1.3" fill="#1ba1e0"/>
<rect x="138.38" y="820.2" width="1.4" height="1.6" fill="#1ba1e0"/>
<line x1="143.38" y1="821.6" x2="144.67" y2="822.9" stroke="#1ba1e0" stroke-width="1.1"/>
<path d="M139.07 828 L139.07 823.9 A4.1 4.1 0 0 1 141.12 824.45Z" fill="#1ba1e0"/>
<circle cx="140.92" cy="824.8" r="0.42" fill="#1ba1e0"/>
<circle cx="142.28" cy="826.15" r="0.42" fill="#1ba1e0"/>
<circle cx="142.77" cy="828" r="0.42" fill="#1ba1e0"/>
<circle cx="142.28" cy="829.85" r="0.42" fill="#1ba1e0"/>
<circle cx="140.92" cy="831.2" r="0.42" fill="#1ba1e0"/>
<circle cx="139.07" cy="831.7" r="0.42" fill="#1ba1e0"/>
<circle cx="137.22" cy="831.2" r="0.42" fill="#1ba1e0"/>
<circle cx="135.87" cy="829.85" r="0.42" fill="#1ba1e0"/>
<circle cx="135.38" cy="828" r="0.42" fill="#1ba1e0"/>
<circle cx="135.87" cy="826.15" r="0.42" fill="#1ba1e0"/>
<circle cx="137.22" cy="824.8" r="0.42" fill="#1ba1e0"/>
<use href="#pp" transform="translate(132.78 840.8) scale(0.41)"/>
<line x1="145.28" y1="844.8" x2="145.28" y2="910.8" stroke="#4a4a4a" stroke-width="0.7" stroke-dasharray="0.8 0.8"/>
<use href="#db" x="132.57" y="907.25"/>
<rect x="136.49" y="907.45" width="0.5" height="5.15" fill="#1ba1e0"/>
<use href="#mg" x="146.68" y="937"/>
<path d="M160.01 946.36 L154.37 945 L149.3 943.42 L145.36 941.96" fill="none" stroke="#fff" stroke-width="1.3" stroke-linejoin="round" stroke-linecap="round"/>
<line x1="171.4" y1="758" x2="204.2" y2="758" stroke="#dcdcdc" stroke-width="1"/>
<line x1="172" y1="756.6" x2="172" y2="927.4" stroke="#969696" stroke-width="1.6"/>
<use href="#sw" x="0" y="0" transform="translate(188 776.9) scale(1)" style="color:#b3161c"/>
<path d="M173.1 803.6 L187.5 803.6 Q189.6 803.6 189.3 801.5M175.7 801.9 L178.1 801.9 Q180.1 801.9 179.7 800.4M173.1 805.6 L179.5 805.6 Q181.7 805.6 181.3 807.4" fill="none" stroke="#1ba1e0" stroke-width="1.35" stroke-linecap="round"/>
<circle cx="179.7" cy="828" r="5.8" fill="none" stroke="#1ba1e0" stroke-width="1.45"/>
<rect x="177.8" y="819.2" width="3.8" height="1.3" fill="#1ba1e0"/>
<rect x="179" y="820.2" width="1.4" height="1.6" fill="#1ba1e0"/>
<line x1="184" y1="821.6" x2="185.3" y2="822.9" stroke="#1ba1e0" stroke-width="1.1"/>
<path d="M179.7 828 L179.7 823.9 A4.1 4.1 0 0 1 183.8 828Z" fill="#1ba1e0"/>
<circle cx="183.4" cy="828" r="0.42" fill="#1ba1e0"/>
<circle cx="182.9" cy="829.85" r="0.42" fill="#1ba1e0"/>
<circle cx="181.55" cy="831.2" r="0.42" fill="#1ba1e0"/>
<circle cx="179.7" cy="831.7" r="0.42" fill="#1ba1e0"/>
<circle cx="177.85" cy="831.2" r="0.42" fill="#1ba1e0"/>
<circle cx="176.5" cy="829.85" r="0.42" fill="#1ba1e0"/>
<circle cx="176" cy="828" r="0.42" fill="#1ba1e0"/>
<circle cx="176.5" cy="826.15" r="0.42" fill="#1ba1e0"/>
<circle cx="177.85" cy="824.8" r="0.42" fill="#1ba1e0"/>
<use href="#pp" x="173.4" y="839"/>
<use href="#pp" x="176.85" y="839"/>
<use href="#pp" x="180.3" y="839"/>
<use href="#pp" x="173.4" y="842.5"/>
<use href="#pp" x="176.85" y="842.5"/>
<use href="#pp" x="180.3" y="842.5"/>
<use href="#pp" x="173.4" y="846"/>
<use href="#pp" x="176.85" y="846"/>
<use href="#pp" x="180.3" y="846"/>
<use href="#pp" x="183.75" y="846"/>
<use href="#pp" x="187.2" y="846"/>
<use href="#pp" x="190.65" y="846"/>
<use href="#pp" x="194.1" y="846"/>
<use href="#pp" x="197.55" y="846"/>
<use href="#pp" x="201" y="846"/>
<use href="#pp" x="204.45" y="846"/>
<line x1="185.9" y1="844.8" x2="185.9" y2="910.8" stroke="#4a4a4a" stroke-width="0.7" stroke-dasharray="0.8 0.8"/>
<use href="#db" x="173.2" y="907.25"/>
<use href="#db" x="176.92" y="907.25"/>
<use href="#db" x="180.64" y="907.25"/>
<use href="#db" x="184.36" y="907.25"/>
<use href="#db" x="188.08" y="907.25"/>
<use href="#db" x="191.8" y="907.25"/>
<use href="#db" x="195.52" y="907.25"/>
<use href="#db" x="199.24" y="907.25"/>
<use href="#db" x="202.96" y="907.25"/>
<use href="#db" x="206.68" y="907.25"/>
<use href="#db" x="173.2" y="901.7"/>
<use href="#db" x="176.92" y="901.7"/>
<use href="#db" x="180.64" y="901.7"/>
<use href="#db" x="184.36" y="901.7"/>
<use href="#db" x="188.08" y="901.7"/>
<use href="#db" x="191.8" y="901.7"/>
<use href="#db" x="195.52" y="901.7"/>
<use href="#db" x="199.24" y="901.7"/>
<use href="#db" x="202.96" y="901.7"/>
<use href="#db" x="206.68" y="901.7"/>
<use href="#db" x="173.2" y="896.15"/>
<use href="#db" x="176.92" y="896.15"/>
<use href="#db" x="180.64" y="896.15"/>
<use href="#db" x="184.36" y="896.15"/>
<use href="#db" x="188.08" y="896.15"/>
<use href="#db" x="191.8" y="896.15"/>
<use href="#db" x="195.52" y="896.15"/>
<use href="#db" x="199.24" y="896.15"/>
<use href="#db" x="202.96" y="896.15"/>
<use href="#db" x="206.68" y="896.15"/>
<use href="#db" x="173.2" y="890.6"/>
<use href="#db" x="176.92" y="890.6"/>
<use href="#db" x="180.64" y="890.6"/>
<use href="#db" x="184.36" y="890.6"/>
<use href="#db" x="188.08" y="890.6"/>
<use href="#db" x="191.8" y="890.6"/>
<use href="#db" x="195.52" y="890.6"/>
<use href="#db" x="199.24" y="890.6"/>
<use href="#db" x="202.96" y="890.6"/>
<use href="#db" x="206.68" y="890.6"/>
<use href="#db" x="173.2" y="885.05"/>
<use href="#db" x="176.92" y="885.05"/>
<use href="#db" x="180.64" y="885.05"/>
<use href="#db" x="184.36" y="885.05"/>
<use href="#db" x="188.08" y="885.05"/>
<use href="#db" x="191.8" y="885.05"/>
<use href="#db" x="195.52" y="885.05"/>
<use href="#db" x="199.24" y="885.05"/>
<use href="#db" x="202.96" y="885.05"/>
<use href="#db" x="206.68" y="885.05"/>
<use href="#db" x="173.2" y="879.5"/>
<use href="#db" x="176.92" y="879.5"/>
<use href="#db" x="180.64" y="879.5"/>
<use href="#db" x="184.36" y="879.5"/>
<use href="#db" x="188.08" y="879.5"/>
<use href="#db" x="191.8" y="879.5"/>
<use href="#db" x="195.52" y="879.5"/>
<use href="#db" x="199.24" y="879.5"/>
<use href="#db" x="202.96" y="879.5"/>
<use href="#db" x="206.68" y="879.5"/>
<use href="#db" x="173.2" y="873.95"/>
<use href="#db" x="176.92" y="873.95"/>
<use href="#db" x="180.64" y="873.95"/>
<use href="#db" x="184.36" y="873.95"/>
<use href="#db" x="188.08" y="873.95"/>
<use href="#db" x="191.8" y="873.95"/>
<use href="#db" x="195.52" y="873.95"/>
<use href="#db" x="199.24" y="873.95"/>
<use href="#db" x="202.96" y="873.95"/>
<use href="#db" x="206.68" y="873.95"/>
<use href="#db" x="173.2" y="868.4"/>
<use href="#db" x="176.92" y="868.4"/>
<use href="#db" x="180.64" y="868.4"/>
<use href="#db" x="184.36" y="868.4"/>
<use href="#db" x="188.08" y="868.4"/>
<use href="#db" x="191.8" y="868.4"/>
<use href="#db" x="195.52" y="868.4"/>
<use href="#db" x="199.24" y="868.4"/>
<use href="#db" x="202.96" y="868.4"/>
<use href="#db" x="206.68" y="868.4"/>
<use href="#db" x="173.2" y="862.85"/>
<use href="#db" x="176.92" y="862.85"/>
<use href="#db" x="180.64" y="862.85"/>
<use href="#db" x="184.36" y="862.85"/>
<use href="#db" x="188.08" y="862.85"/>
<use href="#db" x="191.8" y="862.85"/>
<use href="#db" x="195.52" y="862.85"/>
<use href="#db" x="199.24" y="862.85"/>
<use href="#db" x="202.96" y="862.85"/>
<use href="#db" x="206.68" y="862.85"/>
<use href="#db" x="173.2" y="857.3"/>
<use href="#db" x="176.92" y="857.3"/>
<use href="#db" x="180.64" y="857.3"/>
<use href="#db" x="184.36" y="857.3"/>
<use href="#db" x="188.08" y="857.3"/>
<use href="#db" x="191.8" y="857.3"/>
<use href="#db" x="195.52" y="857.3"/>
<use href="#db" x="199.24" y="857.3"/>
<use href="#db" x="202.96" y="857.3"/>
<use href="#db" x="206.68" y="857.3"/>
<use href="#db" x="173.2" y="851.75"/>
<use href="#db" x="176.92" y="851.75"/>
<use href="#db" x="180.64" y="851.75"/>
<use href="#db" x="184.36" y="851.75"/>
<use href="#db" x="188.08" y="851.75"/>
<use href="#db" x="191.8" y="851.75"/>
<use href="#db" x="195.52" y="851.75"/>
<use href="#db" x="199.24" y="851.75"/>
<use href="#mg" x="187.3" y="937"/>
<path d="M191.84 941.17 L190.49 941.4 L189.14 940.83 L188.57 938.92 L189.93 936.32" fill="none" stroke="#fff" stroke-width="1.3" stroke-linejoin="round" stroke-linecap="round"/>
<line x1="212.03" y1="758" x2="244.82" y2="758" stroke="#dcdcdc" stroke-width="1"/>
<line x1="212.62" y1="756.6" x2="212.62" y2="927.4" stroke="#969696" stroke-width="1.6"/>
<use href="#sw" x="0" y="0" transform="translate(228.62 776.9) scale(1)" style="color:#f99b3c"/>
<path d="M213.72 803.6 L228.12 803.6 Q230.22 803.6 229.92 801.5M216.32 801.9 L218.72 801.9 Q220.72 801.9 220.32 800.4M213.72 805.6 L220.12 805.6 Q222.32 805.6 221.92 807.4" fill="none" stroke="#1ba1e0" stroke-width="1.35" stroke-linecap="round"/>
<circle cx="220.32" cy="828" r="5.8" fill="none" stroke="#1ba1e0" stroke-width="1.45"/>
<rect x="218.42" y="819.2" width="3.8" height="1.3" fill="#1ba1e0"/>
<rect x="219.62" y="820.2" width="1.4" height="1.6" fill="#1ba1e0"/>
<line x1="224.62" y1="821.6" x2="225.92" y2="822.9" stroke="#1ba1e0" stroke-width="1.1"/>
<path d="M220.32 828 L220.32 823.9 A4.1 4.1 0 0 1 223.88 830.05Z" fill="#1ba1e0"/>
<circle cx="223.53" cy="829.85" r="0.42" fill="#1ba1e0"/>
<circle cx="222.17" cy="831.2" r="0.42" fill="#1ba1e0"/>
<circle cx="220.32" cy="831.7" r="0.42" fill="#1ba1e0"/>
<circle cx="218.47" cy="831.2" r="0.42" fill="#1ba1e0"/>
<circle cx="217.12" cy="829.85" r="0.42" fill="#1ba1e0"/>
<circle cx="216.62" cy="828" r="0.42" fill="#1ba1e0"/>
<circle cx="217.12" cy="826.15" r="0.42" fill="#1ba1e0"/>
<circle cx="218.47" cy="824.8" r="0.42" fill="#1ba1e0"/>
<use href="#pp" x="214.03" y="838.8"/>
<use href="#pp" transform="translate(217.47 840.5) scale(0.5)"/>
<line x1="226.53" y1="844.8" x2="226.53" y2="910.8" stroke="#4a4a4a" stroke-width="0.7" stroke-dasharray="0.8 0.8"/>
<use href="#db" x="213.82" y="907.25"/>
<use href="#db" x="217.54" y="907.25"/>
<use href="#db" x="221.26" y="907.25"/>
<use href="#db" x="224.98" y="907.25"/>
<use href="#db" x="228.7" y="907.25"/>
<use href="#db" x="232.42" y="907.25"/>
<use href="#db" x="236.14" y="907.25"/>
<use href="#db" x="239.86" y="907.25"/>
<use href="#db" x="243.58" y="907.25"/>
<use href="#db" x="247.31" y="907.25"/>
<use href="#db" x="213.82" y="901.7"/>
<use href="#db" x="217.54" y="901.7"/>
<use href="#mg" x="227.93" y="937"/>
<path d="M233.93 941.96 L231.68 941.4 L228.86 940.83 L227.51 939.71 L228.3 937.45" fill="none" stroke="#fff" stroke-width="1.3" stroke-linejoin="round" stroke-linecap="round"/>
<line x1="252.65" y1="758" x2="285.45" y2="758" stroke="#dcdcdc" stroke-width="1"/>
<line x1="253.25" y1="756.6" x2="253.25" y2="927.4" stroke="#969696" stroke-width="1.6"/>
<use href="#sw" x="0" y="0" transform="translate(269.25 776.9) scale(1)" style="color:#f99b3c"/>
<path d="M254.35 803.6 L268.75 803.6 Q270.85 803.6 270.55 801.5M256.95 801.9 L259.35 801.9 Q261.35 801.9 260.95 800.4M254.35 805.6 L260.75 805.6 Q262.95 805.6 262.55 807.4" fill="none" stroke="#1ba1e0" stroke-width="1.35" stroke-linecap="round"/>
<circle cx="260.95" cy="828" r="5.8" fill="none" stroke="#1ba1e0" stroke-width="1.45"/>
<rect x="259.05" y="819.2" width="3.8" height="1.3" fill="#1ba1e0"/>
<rect x="260.25" y="820.2" width="1.4" height="1.6" fill="#1ba1e0"/>
<line x1="265.25" y1="821.6" x2="266.55" y2="822.9" stroke="#1ba1e0" stroke-width="1.1"/>
<path d="M260.95 828 L260.95 823.9 A4.1 4.1 0 0 1 265.05 828Z" fill="#1ba1e0"/>
<circle cx="264.65" cy="828" r="0.42" fill="#1ba1e0"/>
<circle cx="264.15" cy="829.85" r="0.42" fill="#1ba1e0"/>
<circle cx="262.8" cy="831.2" r="0.42" fill="#1ba1e0"/>
<circle cx="260.95" cy="831.7" r="0.42" fill="#1ba1e0"/>
<circle cx="259.1" cy="831.2" r="0.42" fill="#1ba1e0"/>
<circle cx="257.75" cy="829.85" r="0.42" fill="#1ba1e0"/>
<circle cx="257.25" cy="828" r="0.42" fill="#1ba1e0"/>
<circle cx="257.75" cy="826.15" r="0.42" fill="#1ba1e0"/>
<circle cx="259.1" cy="824.8" r="0.42" fill="#1ba1e0"/>
<use href="#pp" transform="translate(254.65 839.03) scale(0.93)"/>
<line x1="267.15" y1="844.8" x2="267.15" y2="910.8" stroke="#4a4a4a" stroke-width="0.7" stroke-dasharray="0.8 0.8"/>
<use href="#db" x="254.45" y="907.25"/>
<use href="#db" x="258.17" y="907.25"/>
<use href="#db" x="261.89" y="907.25"/>
<use href="#db" x="265.61" y="907.25"/>
<use href="#db" x="269.33" y="907.25"/>
<use href="#db" x="273.05" y="907.25"/>
<use href="#db" x="276.77" y="907.25"/>
<use href="#db" x="280.49" y="907.25"/>
<use href="#db" x="284.21" y="907.25"/>
<use href="#db" x="287.93" y="907.25"/>
<use href="#db" x="254.45" y="901.7"/>
<use href="#db" x="258.17" y="901.7"/>
<use href="#db" x="261.89" y="901.7"/>
<use href="#db" x="265.61" y="901.7"/>
<use href="#db" x="269.33" y="901.7"/>
<use href="#db" x="273.05" y="901.7"/>
<use href="#db" x="276.77" y="901.7"/>
<use href="#db" x="280.49" y="901.7"/>
<use href="#db" x="284.21" y="901.7"/>
<use href="#db" x="287.93" y="901.7"/>
<use href="#db" x="254.45" y="896.15"/>
<use href="#db" x="258.17" y="896.15"/>
<use href="#db" x="261.89" y="896.15"/>
<use href="#db" x="265.61" y="896.15"/>
<use href="#db" x="269.33" y="896.15"/>
<use href="#db" x="273.05" y="896.15"/>
<use href="#db" x="276.77" y="896.15"/>
<use href="#db" x="280.49" y="896.15"/>
<use href="#db" x="284.21" y="896.15"/>
<rect x="288.13" y="896.35" width="1.32" height="5.15" fill="#1ba1e0"/>
<use href="#mg" x="268.55" y="937"/>
<path d="M271.18 943.88 L270.16 942.75 L270.61 941.96 L273.09 940.27 L277.38 936.89" fill="none" stroke="#fff" stroke-width="1.3" stroke-linejoin="round" stroke-linecap="round"/>
<line x1="294.57" y1="758" x2="327.38" y2="758" stroke="#dcdcdc" stroke-width="1"/>
<line x1="295.18" y1="756.6" x2="295.18" y2="927.4" stroke="#969696" stroke-width="1.6"/>
<use href="#sw" x="0" y="0" transform="translate(311.18 776.9) scale(1)" style="color:#f99b3c"/>
<path d="M296.28 803.6 L310.68 803.6 Q312.78 803.6 312.48 801.5M298.88 801.9 L301.28 801.9 Q303.28 801.9 302.88 800.4M296.28 805.6 L302.68 805.6 Q304.88 805.6 304.48 807.4" fill="none" stroke="#1ba1e0" stroke-width="1.35" stroke-linecap="round"/>
<circle cx="302.88" cy="828" r="5.8" fill="none" stroke="#1ba1e0" stroke-width="1.45"/>
<rect x="300.98" y="819.2" width="3.8" height="1.3" fill="#1ba1e0"/>
<rect x="302.18" y="820.2" width="1.4" height="1.6" fill="#1ba1e0"/>
<line x1="307.18" y1="821.6" x2="308.48" y2="822.9" stroke="#1ba1e0" stroke-width="1.1"/>
<path d="M302.88 828 L302.88 823.9 A4.1 4.1 0 1 1 300.82 831.55Z" fill="#1ba1e0"/>
<circle cx="301.02" cy="831.2" r="0.42" fill="#1ba1e0"/>
<circle cx="299.67" cy="829.85" r="0.42" fill="#1ba1e0"/>
<circle cx="299.18" cy="828" r="0.42" fill="#1ba1e0"/>
<circle cx="299.67" cy="826.15" r="0.42" fill="#1ba1e0"/>
<circle cx="301.02" cy="824.8" r="0.42" fill="#1ba1e0"/>
<line x1="309.07" y1="844.8" x2="309.07" y2="910.8" stroke="#4a4a4a" stroke-width="0.7" stroke-dasharray="0.8 0.8"/>
<rect x="296.57" y="907.45" width="0.5" height="5.15" fill="#1ba1e0"/>
<use href="#mg" x="310.48" y="937"/>
<path d="M296.98 940.27 L295.86 936.89 L296.19 932.94 L297.88 930.12" fill="none" stroke="#fff" stroke-width="1.3" stroke-linejoin="round" stroke-linecap="round"/>
<line x1="333.9" y1="758" x2="366.7" y2="758" stroke="#dcdcdc" stroke-width="1"/>
<line x1="334.5" y1="756.6" x2="334.5" y2="927.4" stroke="#969696" stroke-width="1.6"/>
<use href="#sw" x="0" y="0" transform="translate(350.5 776.9) scale(1)" style="color:#fdc26c"/>
<path d="M335.6 803.6 L350 803.6 Q352.1 803.6 351.8 801.5M338.2 801.9 L340.6 801.9 Q342.6 801.9 342.2 800.4M335.6 805.6 L342 805.6 Q344.2 805.6 343.8 807.4" fill="none" stroke="#1ba1e0" stroke-width="1.35" stroke-linecap="round"/>
<circle cx="342.2" cy="828" r="5.8" fill="none" stroke="#1ba1e0" stroke-width="1.45"/>
<rect x="340.3" y="819.2" width="3.8" height="1.3" fill="#1ba1e0"/>
<rect x="341.5" y="820.2" width="1.4" height="1.6" fill="#1ba1e0"/>
<line x1="346.5" y1="821.6" x2="347.8" y2="822.9" stroke="#1ba1e0" stroke-width="1.1"/>
<path d="M342.2 828 L342.2 823.9 A4.1 4.1 0 0 1 345.75 830.05Z" fill="#1ba1e0"/>
<circle cx="345.4" cy="829.85" r="0.42" fill="#1ba1e0"/>
<circle cx="344.05" cy="831.2" r="0.42" fill="#1ba1e0"/>
<circle cx="342.2" cy="831.7" r="0.42" fill="#1ba1e0"/>
<circle cx="340.35" cy="831.2" r="0.42" fill="#1ba1e0"/>
<circle cx="339" cy="829.85" r="0.42" fill="#1ba1e0"/>
<circle cx="338.5" cy="828" r="0.42" fill="#1ba1e0"/>
<circle cx="339" cy="826.15" r="0.42" fill="#1ba1e0"/>
<circle cx="340.35" cy="824.8" r="0.42" fill="#1ba1e0"/>
<use href="#pp" transform="translate(335.9 839.92) scale(0.67)"/>
<line x1="348.4" y1="844.8" x2="348.4" y2="910.8" stroke="#4a4a4a" stroke-width="0.7" stroke-dasharray="0.8 0.8"/>
<use href="#db" x="335.7" y="907.25"/>
<rect x="339.62" y="907.45" width="2.51" height="5.15" fill="#1ba1e0"/>
<use href="#mg" x="349.8" y="937"/>
<path d="M365.16 945.57 L360.88 945 L355.24 944.21 L350.74 943.42 L347.92 942.52" fill="none" stroke="#fff" stroke-width="1.3" stroke-linejoin="round" stroke-linecap="round"/>
<line x1="374.52" y1="758" x2="407.32" y2="758" stroke="#dcdcdc" stroke-width="1"/>
<line x1="375.12" y1="756.6" x2="375.12" y2="927.4" stroke="#969696" stroke-width="1.6"/>
<use href="#sw" x="0" y="0" transform="translate(391.12 776.9) scale(1)" style="color:#fdc26c"/>
<path d="M376.23 803.6 L390.62 803.6 Q392.73 803.6 392.43 801.5M378.83 801.9 L381.23 801.9 Q383.23 801.9 382.83 800.4M376.23 805.6 L382.62 805.6 Q384.83 805.6 384.43 807.4" fill="none" stroke="#1ba1e0" stroke-width="1.35" stroke-linecap="round"/>
<circle cx="382.82" cy="828" r="5.8" fill="none" stroke="#1ba1e0" stroke-width="1.45"/>
<rect x="380.93" y="819.2" width="3.8" height="1.3" fill="#1ba1e0"/>
<rect x="382.12" y="820.2" width="1.4" height="1.6" fill="#1ba1e0"/>
<line x1="387.12" y1="821.6" x2="388.43" y2="822.9" stroke="#1ba1e0" stroke-width="1.1"/>
<path d="M382.82 828 L382.82 823.9 A4.1 4.1 0 0 1 386.38 830.05Z" fill="#1ba1e0"/>
<circle cx="386.03" cy="829.85" r="0.42" fill="#1ba1e0"/>
<circle cx="384.68" cy="831.2" r="0.42" fill="#1ba1e0"/>
<circle cx="382.82" cy="831.7" r="0.42" fill="#1ba1e0"/>
<circle cx="380.97" cy="831.2" r="0.42" fill="#1ba1e0"/>
<circle cx="379.62" cy="829.85" r="0.42" fill="#1ba1e0"/>
<circle cx="379.12" cy="828" r="0.42" fill="#1ba1e0"/>
<circle cx="379.62" cy="826.15" r="0.42" fill="#1ba1e0"/>
<circle cx="380.97" cy="824.8" r="0.42" fill="#1ba1e0"/>
<use href="#pp" x="376.52" y="838.8"/>
<use href="#pp" transform="translate(379.97 840.25) scale(0.57)"/>
<line x1="389.02" y1="844.8" x2="389.02" y2="910.8" stroke="#4a4a4a" stroke-width="0.7" stroke-dasharray="0.8 0.8"/>
<rect x="376.52" y="907.45" width="2.38" height="5.15" fill="#1ba1e0"/>
<use href="#mg" x="390.43" y="937"/>
<path d="M403.76 945.9 L398.12 945.34 L393.61 945 L391.36 944.78" fill="none" stroke="#fff" stroke-width="1.3" stroke-linejoin="round" stroke-linecap="round"/>
<line x1="415.15" y1="758" x2="447.95" y2="758" stroke="#dcdcdc" stroke-width="1"/>
<line x1="415.75" y1="756.6" x2="415.75" y2="927.4" stroke="#969696" stroke-width="1.6"/>
<use href="#sw" x="0" y="0" transform="translate(431.75 776.9) scale(1)" style="color:#fdc26c"/>
<path d="M416.85 803.6 L431.25 803.6 Q433.35 803.6 433.05 801.5M419.45 801.9 L421.85 801.9 Q423.85 801.9 423.45 800.4M416.85 805.6 L423.25 805.6 Q425.45 805.6 425.05 807.4" fill="none" stroke="#1ba1e0" stroke-width="1.35" stroke-linecap="round"/>
<circle cx="423.45" cy="828" r="5.8" fill="none" stroke="#1ba1e0" stroke-width="1.45"/>
<rect x="421.55" y="819.2" width="3.8" height="1.3" fill="#1ba1e0"/>
<rect x="422.75" y="820.2" width="1.4" height="1.6" fill="#1ba1e0"/>
<line x1="427.75" y1="821.6" x2="429.05" y2="822.9" stroke="#1ba1e0" stroke-width="1.1"/>
<path d="M423.45 828 L423.45 823.9 A4.1 4.1 0 0 1 427 830.05Z" fill="#1ba1e0"/>
<circle cx="426.65" cy="829.85" r="0.42" fill="#1ba1e0"/>
<circle cx="425.3" cy="831.2" r="0.42" fill="#1ba1e0"/>
<circle cx="423.45" cy="831.7" r="0.42" fill="#1ba1e0"/>
<circle cx="421.6" cy="831.2" r="0.42" fill="#1ba1e0"/>
<circle cx="420.25" cy="829.85" r="0.42" fill="#1ba1e0"/>
<circle cx="419.75" cy="828" r="0.42" fill="#1ba1e0"/>
<circle cx="420.25" cy="826.15" r="0.42" fill="#1ba1e0"/>
<circle cx="421.6" cy="824.8" r="0.42" fill="#1ba1e0"/>
<use href="#pp" transform="translate(417.15 841.01) scale(0.35)"/>
<line x1="429.65" y1="844.8" x2="429.65" y2="910.8" stroke="#4a4a4a" stroke-width="0.7" stroke-dasharray="0.8 0.8"/>
<rect x="417.15" y="907.45" width="0.5" height="5.15" fill="#1ba1e0"/>
<use href="#mg" x="431.05" y="937"/>
<path d="M429.73 947.26 L427.48 946.47 L425.79 945 L426.35 943.09" fill="none" stroke="#fff" stroke-width="1.3" stroke-linejoin="round" stroke-linecap="round"/>
<line x1="455.77" y1="758" x2="488.57" y2="758" stroke="#dcdcdc" stroke-width="1"/>
<line x1="456.38" y1="756.6" x2="456.38" y2="927.4" stroke="#969696" stroke-width="1.6"/>
<use href="#sw" x="0" y="0" transform="translate(472.38 776.9) scale(1)" style="color:#fdea96"/>
<path d="M457.48 803.6 L471.88 803.6 Q473.98 803.6 473.68 801.5M460.08 801.9 L462.48 801.9 Q464.48 801.9 464.08 800.4M457.48 805.6 L463.88 805.6 Q466.08 805.6 465.68 807.4" fill="none" stroke="#1ba1e0" stroke-width="1.35" stroke-linecap="round"/>
<circle cx="464.07" cy="828" r="5.8" fill="none" stroke="#1ba1e0" stroke-width="1.45"/>
<rect x="462.18" y="819.2" width="3.8" height="1.3" fill="#1ba1e0"/>
<rect x="463.38" y="820.2" width="1.4" height="1.6" fill="#1ba1e0"/>
<line x1="468.38" y1="821.6" x2="469.68" y2="822.9" stroke="#1ba1e0" stroke-width="1.1"/>
<path d="M464.07 828 L464.07 823.9 A4.1 4.1 0 0 1 467.63 825.95Z" fill="#1ba1e0"/>
<circle cx="467.28" cy="826.15" r="0.42" fill="#1ba1e0"/>
<circle cx="467.77" cy="828" r="0.42" fill="#1ba1e0"/>
<circle cx="467.28" cy="829.85" r="0.42" fill="#1ba1e0"/>
<circle cx="465.93" cy="831.2" r="0.42" fill="#1ba1e0"/>
<circle cx="464.07" cy="831.7" r="0.42" fill="#1ba1e0"/>
<circle cx="462.22" cy="831.2" r="0.42" fill="#1ba1e0"/>
<circle cx="460.87" cy="829.85" r="0.42" fill="#1ba1e0"/>
<circle cx="460.38" cy="828" r="0.42" fill="#1ba1e0"/>
<circle cx="460.87" cy="826.15" r="0.42" fill="#1ba1e0"/>
<circle cx="462.22" cy="824.8" r="0.42" fill="#1ba1e0"/>
<line x1="470.27" y1="844.8" x2="470.27" y2="910.8" stroke="#4a4a4a" stroke-width="0.7" stroke-dasharray="0.8 0.8"/>
<use href="#mg" x="471.68" y="937"/>
<path d="M470.36 947.26 L466.97 946.47 L463.59 945.68 L460.21 945" fill="none" stroke="#fff" stroke-width="1.3" stroke-linejoin="round" stroke-linecap="round"/>
<line x1="496.4" y1="758" x2="529.2" y2="758" stroke="#dcdcdc" stroke-width="1"/>
<line x1="497" y1="756.6" x2="497" y2="927.4" stroke="#969696" stroke-width="1.6"/>
<use href="#sw" x="0" y="0" transform="translate(513 776.9) scale(1)" style="color:#fdea96"/>
<path d="M498.1 803.6 L512.5 803.6 Q514.6 803.6 514.3 801.5M500.7 801.9 L503.1 801.9 Q505.1 801.9 504.7 800.4M498.1 805.6 L504.5 805.6 Q506.7 805.6 506.3 807.4" fill="none" stroke="#1ba1e0" stroke-width="1.35" stroke-linecap="round"/>
<circle cx="504.7" cy="828" r="5.8" fill="none" stroke="#1ba1e0" stroke-width="1.45"/>
<rect x="502.8" y="819.2" width="3.8" height="1.3" fill="#1ba1e0"/>
<rect x="504" y="820.2" width="1.4" height="1.6" fill="#1ba1e0"/>
<line x1="509" y1="821.6" x2="510.3" y2="822.9" stroke="#1ba1e0" stroke-width="1.1"/>
<path d="M504.7 828 L504.7 823.9 A4.1 4.1 0 0 1 506.75 824.45Z" fill="#1ba1e0"/>
<circle cx="506.55" cy="824.8" r="0.42" fill="#1ba1e0"/>
<circle cx="507.9" cy="826.15" r="0.42" fill="#1ba1e0"/>
<circle cx="508.4" cy="828" r="0.42" fill="#1ba1e0"/>
<circle cx="507.9" cy="829.85" r="0.42" fill="#1ba1e0"/>
<circle cx="506.55" cy="831.2" r="0.42" fill="#1ba1e0"/>
<circle cx="504.7" cy="831.7" r="0.42" fill="#1ba1e0"/>
<circle cx="502.85" cy="831.2" r="0.42" fill="#1ba1e0"/>
<circle cx="501.5" cy="829.85" r="0.42" fill="#1ba1e0"/>
<circle cx="501" cy="828" r="0.42" fill="#1ba1e0"/>
<circle cx="501.5" cy="826.15" r="0.42" fill="#1ba1e0"/>
<circle cx="502.85" cy="824.8" r="0.42" fill="#1ba1e0"/>
<use href="#pp" transform="translate(498.4 841.01) scale(0.35)"/>
<line x1="510.9" y1="844.8" x2="510.9" y2="910.8" stroke="#4a4a4a" stroke-width="0.7" stroke-dasharray="0.8 0.8"/>
<rect x="498.4" y="907.45" width="0.5" height="5.15" fill="#1ba1e0"/>
<use href="#mg" x="512.3" y="937"/>
<path d="M509.85 947.26 L506.47 945.68 L503.09 942.52 L499.71 939.14" fill="none" stroke="#fff" stroke-width="1.3" stroke-linejoin="round" stroke-linecap="round"/>
<line x1="537.02" y1="758" x2="569.83" y2="758" stroke="#dcdcdc" stroke-width="1"/>
<line x1="537.62" y1="756.6" x2="537.62" y2="927.4" stroke="#969696" stroke-width="1.6"/>
<use href="#sw" x="0" y="0" transform="translate(553.62 776.9) scale(1)" style="color:#f99b3c"/>
<path d="M538.73 803.6 L553.12 803.6 Q555.23 803.6 554.93 801.5M541.33 801.9 L543.73 801.9 Q545.73 801.9 545.33 800.4M538.73 805.6 L545.12 805.6 Q547.33 805.6 546.93 807.4" fill="none" stroke="#1ba1e0" stroke-width="1.35" stroke-linecap="round"/>
<circle cx="545.33" cy="828" r="5.8" fill="none" stroke="#1ba1e0" stroke-width="1.45"/>
<rect x="543.43" y="819.2" width="3.8" height="1.3" fill="#1ba1e0"/>
<rect x="544.62" y="820.2" width="1.4" height="1.6" fill="#1ba1e0"/>
<line x1="549.62" y1="821.6" x2="550.93" y2="822.9" stroke="#1ba1e0" stroke-width="1.1"/>
<path d="M545.33 828 L545.33 823.9 A4.1 4.1 0 0 1 549.04 829.73Z" fill="#1ba1e0"/>
<circle cx="548.53" cy="829.85" r="0.42" fill="#1ba1e0"/>
<circle cx="547.18" cy="831.2" r="0.42" fill="#1ba1e0"/>
<circle cx="545.33" cy="831.7" r="0.42" fill="#1ba1e0"/>
<circle cx="543.48" cy="831.2" r="0.42" fill="#1ba1e0"/>
<circle cx="542.12" cy="829.85" r="0.42" fill="#1ba1e0"/>
<circle cx="541.62" cy="828" r="0.42" fill="#1ba1e0"/>
<circle cx="542.12" cy="826.15" r="0.42" fill="#1ba1e0"/>
<circle cx="543.48" cy="824.8" r="0.42" fill="#1ba1e0"/>
<use href="#pp" transform="translate(539.02 841.01) scale(0.35)"/>
<line x1="551.52" y1="844.8" x2="551.52" y2="910.8" stroke="#4a4a4a" stroke-width="0.7" stroke-dasharray="0.8 0.8"/>
<rect x="539.03" y="907.45" width="1.52" height="5.15" fill="#1ba1e0"/>
<use href="#mg" x="552.92" y="937"/>
<path d="M549.35 946.81 L548.22 945.68 L548.79 944.21 L549.92 942.75" fill="none" stroke="#fff" stroke-width="1.3" stroke-linejoin="round" stroke-linecap="round"/>
<line x1="577.65" y1="758" x2="610.45" y2="758" stroke="#dcdcdc" stroke-width="1"/>
<line x1="578.25" y1="756.6" x2="578.25" y2="927.4" stroke="#969696" stroke-width="1.6"/>
<use href="#sw" x="0" y="0" transform="translate(594.25 776.9) scale(1)" style="color:#fdc26c"/>
<path d="M579.35 803.6 L593.75 803.6 Q595.85 803.6 595.55 801.5M581.95 801.9 L584.35 801.9 Q586.35 801.9 585.95 800.4M579.35 805.6 L585.75 805.6 Q587.95 805.6 587.55 807.4" fill="none" stroke="#1ba1e0" stroke-width="1.35" stroke-linecap="round"/>
<circle cx="585.95" cy="828" r="5.8" fill="none" stroke="#1ba1e0" stroke-width="1.45"/>
<rect x="584.05" y="819.2" width="3.8" height="1.3" fill="#1ba1e0"/>
<rect x="585.25" y="820.2" width="1.4" height="1.6" fill="#1ba1e0"/>
<line x1="590.25" y1="821.6" x2="591.55" y2="822.9" stroke="#1ba1e0" stroke-width="1.1"/>
<path d="M585.95 828 L585.95 823.9 A4.1 4.1 0 0 1 589.5 825.95Z" fill="#1ba1e0"/>
<circle cx="589.15" cy="826.15" r="0.42" fill="#1ba1e0"/>
<circle cx="589.65" cy="828" r="0.42" fill="#1ba1e0"/>
<circle cx="589.15" cy="829.85" r="0.42" fill="#1ba1e0"/>
<circle cx="587.8" cy="831.2" r="0.42" fill="#1ba1e0"/>
<circle cx="585.95" cy="831.7" r="0.42" fill="#1ba1e0"/>
<circle cx="584.1" cy="831.2" r="0.42" fill="#1ba1e0"/>
<circle cx="582.75" cy="829.85" r="0.42" fill="#1ba1e0"/>
<circle cx="582.25" cy="828" r="0.42" fill="#1ba1e0"/>
<circle cx="582.75" cy="826.15" r="0.42" fill="#1ba1e0"/>
<circle cx="584.1" cy="824.8" r="0.42" fill="#1ba1e0"/>
<use href="#pp" x="579.65" y="840.4"/>
<use href="#pp" x="583.1" y="840.4"/>
<use href="#pp" x="586.55" y="840.4"/>
<use href="#pp" x="579.65" y="837.2"/>
<use href="#pp" x="583.1" y="837.2"/>
<use href="#pp" x="586.55" y="837.2"/>
<line x1="592.15" y1="844.8" x2="592.15" y2="910.8" stroke="#4a4a4a" stroke-width="0.7" stroke-dasharray="0.8 0.8"/>
<use href="#db" x="579.45" y="907.25"/>
<use href="#db" x="583.17" y="907.25"/>
<use href="#db" x="586.89" y="907.25"/>
<use href="#db" x="590.61" y="907.25"/>
<use href="#db" x="594.33" y="907.25"/>
<use href="#db" x="598.05" y="907.25"/>
<use href="#db" x="601.77" y="907.25"/>
<use href="#db" x="605.49" y="907.25"/>
<use href="#db" x="609.21" y="907.25"/>
<use href="#db" x="612.93" y="907.25"/>
<use href="#db" x="579.45" y="901.7"/>
<use href="#db" x="583.17" y="901.7"/>
<use href="#db" x="586.89" y="901.7"/>
<use href="#db" x="590.61" y="901.7"/>
<use href="#db" x="594.33" y="901.7"/>
<rect x="598.25" y="901.9" width="0.5" height="5.15" fill="#1ba1e0"/>
<use href="#mg" x="593.55" y="937"/>
<path d="M608.91 945.9 L604.63 945.68 L600.68 945.9 L599.56 944.21 L598.77 941.4 L598.43 938.92 L599.56 937.45" fill="none" stroke="#fff" stroke-width="1.3" stroke-linejoin="round" stroke-linecap="round"/>
<line x1="618.27" y1="758" x2="651.08" y2="758" stroke="#dcdcdc" stroke-width="1"/>
<line x1="618.88" y1="756.6" x2="618.88" y2="927.4" stroke="#969696" stroke-width="1.6"/>
<use href="#sw" x="0" y="0" transform="translate(634.88 776.9) scale(1)" style="color:#b3161c"/>
<path d="M619.98 803.6 L634.38 803.6 Q636.48 803.6 636.18 801.5M622.58 801.9 L624.98 801.9 Q626.98 801.9 626.58 800.4M619.98 805.6 L626.38 805.6 Q628.58 805.6 628.18 807.4" fill="none" stroke="#1ba1e0" stroke-width="1.35" stroke-linecap="round"/>
<circle cx="626.58" cy="828" r="5.8" fill="none" stroke="#1ba1e0" stroke-width="1.45"/>
<rect x="624.68" y="819.2" width="3.8" height="1.3" fill="#1ba1e0"/>
<rect x="625.88" y="820.2" width="1.4" height="1.6" fill="#1ba1e0"/>
<line x1="630.88" y1="821.6" x2="632.18" y2="822.9" stroke="#1ba1e0" stroke-width="1.1"/>
<circle cx="626.58" cy="828" r="4.1" fill="#1ba1e0"/>
<use href="#pp" x="620.27" y="838.8"/>
<use href="#pp" transform="translate(623.73 839.89) scale(0.68)"/>
<line x1="632.77" y1="844.8" x2="632.77" y2="910.8" stroke="#4a4a4a" stroke-width="0.7" stroke-dasharray="0.8 0.8"/>
<use href="#db" x="620.08" y="907.25"/>
<use href="#db" x="623.8" y="907.25"/>
<use href="#db" x="627.52" y="907.25"/>
<use href="#db" x="631.24" y="907.25"/>
<use href="#db" x="634.96" y="907.25"/>
<use href="#db" x="638.68" y="907.25"/>
<use href="#db" x="642.4" y="907.25"/>
<use href="#db" x="646.12" y="907.25"/>
<use href="#db" x="649.84" y="907.25"/>
<use href="#db" x="653.56" y="907.25"/>
<use href="#db" x="620.08" y="901.7"/>
<use href="#db" x="623.8" y="901.7"/>
<use href="#db" x="627.52" y="901.7"/>
<use href="#db" x="631.24" y="901.7"/>
<use href="#db" x="634.96" y="901.7"/>
<use href="#db" x="638.68" y="901.7"/>
<use href="#db" x="642.4" y="901.7"/>
<use href="#db" x="646.12" y="901.7"/>
<use href="#db" x="649.84" y="901.7"/>
<use href="#db" x="653.56" y="901.7"/>
<use href="#db" x="620.08" y="896.15"/>
<use href="#db" x="623.8" y="896.15"/>
<use href="#db" x="627.52" y="896.15"/>
<use href="#db" x="631.24" y="896.15"/>
<use href="#db" x="634.96" y="896.15"/>
<use href="#db" x="638.68" y="896.15"/>
<use href="#db" x="642.4" y="896.15"/>
<use href="#db" x="646.12" y="896.15"/>
<use href="#db" x="649.84" y="896.15"/>
<use href="#db" x="653.56" y="896.15"/>
<use href="#db" x="620.08" y="890.6"/>
<use href="#db" x="623.8" y="890.6"/>
<use href="#db" x="627.52" y="890.6"/>
<use href="#db" x="631.24" y="890.6"/>
<use href="#db" x="634.96" y="890.6"/>
<use href="#db" x="638.68" y="890.6"/>
<use href="#db" x="642.4" y="890.6"/>
<use href="#db" x="646.12" y="890.6"/>
<use href="#db" x="649.84" y="890.6"/>
<use href="#db" x="653.56" y="890.6"/>
<use href="#db" x="620.08" y="885.05"/>
<use href="#db" x="623.8" y="885.05"/>
<use href="#db" x="627.52" y="885.05"/>
<use href="#db" x="631.24" y="885.05"/>
<use href="#db" x="634.96" y="885.05"/>
<use href="#db" x="638.68" y="885.05"/>
<use href="#db" x="642.4" y="885.05"/>
<use href="#db" x="646.12" y="885.05"/>
<use href="#db" x="649.84" y="885.05"/>
<use href="#db" x="653.56" y="885.05"/>
<use href="#db" x="620.08" y="879.5"/>
<use href="#db" x="623.8" y="879.5"/>
<use href="#db" x="627.52" y="879.5"/>
<use href="#db" x="631.24" y="879.5"/>
<use href="#db" x="634.96" y="879.5"/>
<use href="#db" x="638.68" y="879.5"/>
<use href="#db" x="642.4" y="879.5"/>
<use href="#db" x="646.12" y="879.5"/>
<use href="#db" x="649.84" y="879.5"/>
<use href="#db" x="653.56" y="879.5"/>
<use href="#db" x="620.08" y="873.95"/>
<use href="#db" x="623.8" y="873.95"/>
<use href="#db" x="627.52" y="873.95"/>
<use href="#db" x="631.24" y="873.95"/>
<rect x="635.16" y="874.15" width="2.64" height="5.15" fill="#1ba1e0"/>
<use href="#mg" x="634.17" y="937"/>
<path d="M649.54 944.55 L646.38 943.88 L641.87 942.52 L639.06 941.4 L637.93 939.14 L636.8 936.89" fill="none" stroke="#fff" stroke-width="1.3" stroke-linejoin="round" stroke-linecap="round"/>
<line x1="658.9" y1="758" x2="691.7" y2="758" stroke="#dcdcdc" stroke-width="1"/>
<line x1="659.5" y1="756.6" x2="659.5" y2="927.4" stroke="#969696" stroke-width="1.6"/>
<use href="#sw" x="0" y="0" transform="translate(675.5 776.9) scale(1)" style="color:#b3161c"/>
<path d="M660.6 803.6 L675 803.6 Q677.1 803.6 676.8 801.5M663.2 801.9 L665.6 801.9 Q667.6 801.9 667.2 800.4M660.6 805.6 L667 805.6 Q669.2 805.6 668.8 807.4" fill="none" stroke="#1ba1e0" stroke-width="1.35" stroke-linecap="round"/>
<circle cx="667.2" cy="828" r="5.8" fill="none" stroke="#1ba1e0" stroke-width="1.45"/>
<rect x="665.3" y="819.2" width="3.8" height="1.3" fill="#1ba1e0"/>
<rect x="666.5" y="820.2" width="1.4" height="1.6" fill="#1ba1e0"/>
<line x1="671.5" y1="821.6" x2="672.8" y2="822.9" stroke="#1ba1e0" stroke-width="1.1"/>
<path d="M667.2 828 L667.2 823.9 A4.1 4.1 0 0 1 669.25 831.55Z" fill="#1ba1e0"/>
<circle cx="669.05" cy="831.2" r="0.42" fill="#1ba1e0"/>
<circle cx="667.2" cy="831.7" r="0.42" fill="#1ba1e0"/>
<circle cx="665.35" cy="831.2" r="0.42" fill="#1ba1e0"/>
<circle cx="664" cy="829.85" r="0.42" fill="#1ba1e0"/>
<circle cx="663.5" cy="828" r="0.42" fill="#1ba1e0"/>
<circle cx="664" cy="826.15" r="0.42" fill="#1ba1e0"/>
<circle cx="665.35" cy="824.8" r="0.42" fill="#1ba1e0"/>
<use href="#pp" x="660.9" y="840.4"/>
<use href="#pp" x="664.35" y="840.4"/>
<use href="#pp" x="667.8" y="840.4"/>
<use href="#pp" x="660.9" y="837.2"/>
<use href="#pp" x="664.35" y="837.2"/>
<line x1="673.4" y1="844.8" x2="673.4" y2="910.8" stroke="#4a4a4a" stroke-width="0.7" stroke-dasharray="0.8 0.8"/>
<use href="#db" x="660.7" y="907.25"/>
<use href="#db" x="664.42" y="907.25"/>
<use href="#db" x="668.14" y="907.25"/>
<use href="#db" x="671.86" y="907.25"/>
<use href="#db" x="675.58" y="907.25"/>
<use href="#db" x="679.3" y="907.25"/>
<use href="#db" x="683.02" y="907.25"/>
<use href="#db" x="686.74" y="907.25"/>
<use href="#db" x="690.46" y="907.25"/>
<use href="#db" x="694.18" y="907.25"/>
<use href="#db" x="660.7" y="901.7"/>
<use href="#db" x="664.42" y="901.7"/>
<use href="#db" x="668.14" y="901.7"/>
<use href="#db" x="671.86" y="901.7"/>
<use href="#db" x="675.58" y="901.7"/>
<use href="#db" x="679.3" y="901.7"/>
<use href="#db" x="683.02" y="901.7"/>
<use href="#db" x="686.74" y="901.7"/>
<use href="#db" x="690.46" y="901.7"/>
<use href="#db" x="694.18" y="901.7"/>
<use href="#db" x="660.7" y="896.15"/>
<use href="#db" x="664.42" y="896.15"/>
<use href="#db" x="668.14" y="896.15"/>
<use href="#db" x="671.86" y="896.15"/>
<use href="#db" x="675.58" y="896.15"/>
<use href="#db" x="679.3" y="896.15"/>
<use href="#db" x="683.02" y="896.15"/>
<use href="#db" x="686.74" y="896.15"/>
<use href="#db" x="690.46" y="896.15"/>
<use href="#db" x="694.18" y="896.15"/>
<use href="#db" x="660.7" y="890.6"/>
<use href="#db" x="664.42" y="890.6"/>
<use href="#db" x="668.14" y="890.6"/>
<use href="#db" x="671.86" y="890.6"/>
<use href="#db" x="675.58" y="890.6"/>
<use href="#db" x="679.3" y="890.6"/>
<use href="#db" x="683.02" y="890.6"/>
<use href="#db" x="686.74" y="890.6"/>
<use href="#db" x="690.46" y="890.6"/>
<use href="#db" x="694.18" y="890.6"/>
<use href="#db" x="660.7" y="885.05"/>
<use href="#db" x="664.42" y="885.05"/>
<use href="#db" x="668.14" y="885.05"/>
<use href="#db" x="671.86" y="885.05"/>
<use href="#db" x="675.58" y="885.05"/>
<use href="#db" x="679.3" y="885.05"/>
<use href="#db" x="683.02" y="885.05"/>
<use href="#db" x="686.74" y="885.05"/>
<use href="#db" x="690.46" y="885.05"/>
<use href="#db" x="694.18" y="885.05"/>
<use href="#db" x="660.7" y="879.5"/>
<use href="#db" x="664.42" y="879.5"/>
<use href="#db" x="668.14" y="879.5"/>
<use href="#db" x="671.86" y="879.5"/>
<use href="#db" x="675.58" y="879.5"/>
<use href="#db" x="679.3" y="879.5"/>
<use href="#db" x="683.02" y="879.5"/>
<use href="#db" x="686.74" y="879.5"/>
<use href="#db" x="690.46" y="879.5"/>
<use href="#db" x="694.18" y="879.5"/>
<use href="#db" x="660.7" y="873.95"/>
<use href="#db" x="664.42" y="873.95"/>
<use href="#db" x="668.14" y="873.95"/>
<use href="#db" x="671.86" y="873.95"/>
<use href="#db" x="675.58" y="873.95"/>
<use href="#db" x="679.3" y="873.95"/>
<use href="#db" x="683.02" y="873.95"/>
<use href="#db" x="686.74" y="873.95"/>
<use href="#db" x="690.46" y="873.95"/>
<use href="#db" x="694.18" y="873.95"/>
<use href="#db" x="660.7" y="868.4"/>
<use href="#db" x="664.42" y="868.4"/>
<use href="#db" x="668.14" y="868.4"/>
<use href="#db" x="671.86" y="868.4"/>
<use href="#db" x="675.58" y="868.4"/>
<use href="#db" x="679.3" y="868.4"/>
<use href="#db" x="683.02" y="868.4"/>
<use href="#db" x="686.74" y="868.4"/>
<use href="#db" x="690.46" y="868.4"/>
<use href="#db" x="694.18" y="868.4"/>
<use href="#db" x="660.7" y="862.85"/>
<use href="#db" x="664.42" y="862.85"/>
<use href="#db" x="668.14" y="862.85"/>
<use href="#db" x="671.86" y="862.85"/>
<use href="#db" x="675.58" y="862.85"/>
<use href="#db" x="679.3" y="862.85"/>
<use href="#db" x="683.02" y="862.85"/>
<use href="#db" x="686.74" y="862.85"/>
<use href="#db" x="690.46" y="862.85"/>
<use href="#db" x="694.18" y="862.85"/>
<use href="#db" x="660.7" y="857.3"/>
<rect x="664.62" y="857.5" width="1.98" height="5.15" fill="#1ba1e0"/>
<use href="#mg" x="674.8" y="937"/>
<path d="M690.16 945.34 L685.88 944.21 L683.06 942.52 L681.93 940.27 L682.5 937.45 L685.88 935.76" fill="none" stroke="#fff" stroke-width="1.3" stroke-linejoin="round" stroke-linecap="round"/>
<line x1="15.5" y1="1031.8" x2="142" y2="1031.8" stroke="#cfcfcf" stroke-width="0.8" stroke-dasharray="1 1"/>
<rect x="63.5" y="1166" width="7.4" height="42.5" fill="#383838"/>
<rect x="63.7" y="1163.81" width="7" height="2.19" fill="#1ba1e0"/>
<rect x="76.16" y="1166" width="7.4" height="42.5" fill="#383838"/>
<rect x="79.36" y="1163" width="1" height="3" fill="#2a5a73"/>
<rect x="88.82" y="1166" width="7.4" height="42.5" fill="#383838"/>
<rect x="101.48" y="1166" width="7.4" height="42.5" fill="#383838"/>
<rect x="114.14" y="1166" width="7.4" height="42.5" fill="#383838"/>
<rect x="114.34" y="1163.62" width="7" height="2.38" fill="#1ba1e0"/>
<rect x="126.8" y="1166" width="7.4" height="42.5" fill="#383838"/>
<rect x="127" y="1164.08" width="7" height="1.92" fill="#1ba1e0"/>
<rect x="139.46" y="1166" width="7.4" height="42.5" fill="#383838"/>
<rect x="139.66" y="1155.03" width="7" height="10.97" fill="#1ba1e0"/>
<rect x="152.12" y="1166" width="7.4" height="42.5" fill="#383838"/>
<rect x="152.32" y="1150.55" width="7" height="15.45" fill="#1ba1e0"/>
<rect x="164.78" y="1166" width="7.4" height="42.5" fill="#383838"/>
<rect x="164.98" y="1125.06" width="7" height="40.94" fill="#1ba1e0"/>
<rect x="177.44" y="1166" width="7.4" height="42.5" fill="#383838"/>
<rect x="190.1" y="1166" width="7.4" height="42.5" fill="#383838"/>
<rect x="202.76" y="1166" width="7.4" height="42.5" fill="#383838"/>
<rect x="205.96" y="1163" width="1" height="3" fill="#2a5a73"/>
<rect x="215.42" y="1166" width="7.4" height="42.5" fill="#383838"/>
<rect x="228.08" y="1166" width="7.4" height="42.5" fill="#383838"/>
<rect x="231.28" y="1163" width="1" height="3" fill="#2a5a73"/>
<rect x="240.74" y="1166" width="7.4" height="42.5" fill="#383838"/>
<rect x="240.94" y="1156.42" width="7" height="9.58" fill="#1ba1e0"/>
<rect x="253.4" y="1166" width="7.4" height="42.5" fill="#383838"/>
<rect x="266.06" y="1166" width="7.4" height="42.5" fill="#383838"/>
<rect x="278.72" y="1166" width="7.4" height="42.5" fill="#383838"/>
<rect x="281.92" y="1163" width="1" height="3" fill="#1c7fb2"/>
<rect x="291.38" y="1166" width="7.4" height="42.5" fill="#383838"/>
<rect x="291.58" y="1157.7" width="7" height="8.3" fill="#1ba1e0"/>
<rect x="304.04" y="1166" width="7.4" height="42.5" fill="#383838"/>
<rect x="304.24" y="1130" width="7" height="36" fill="#1ba1e0"/>
<rect x="316.7" y="1166" width="7.4" height="42.5" fill="#383838"/>
<rect x="316.9" y="1164.44" width="7" height="1.56" fill="#1ba1e0"/>
<rect x="329.36" y="1166" width="7.4" height="42.5" fill="#383838"/>
<rect x="329.56" y="999.14" width="7" height="166.86" fill="#1ba1e0"/>
<rect x="342.02" y="1166" width="7.4" height="42.5" fill="#383838"/>
<rect x="342.22" y="1147.46" width="7" height="18.54" fill="#1ba1e0"/>
<rect x="354.68" y="1166" width="7.4" height="42.5" fill="#383838"/>
<rect x="354.88" y="1120.58" width="7" height="45.42" fill="#1ba1e0"/>
<rect x="367.34" y="1166" width="7.4" height="42.5" fill="#383838"/>
<rect x="370.54" y="1163" width="1" height="3" fill="#1c7fb2"/>
<rect x="380" y="1166" width="7.4" height="42.5" fill="#383838"/>
<rect x="380.2" y="1163.28" width="7" height="2.72" fill="#1ba1e0"/>
<rect x="392.66" y="1166" width="7.4" height="42.5" fill="#383838"/>
<rect x="392.86" y="1164.89" width="7" height="1.11" fill="#1ba1e0"/>
<rect x="405.32" y="1166" width="7.4" height="42.5" fill="#383838"/>
<rect x="408.52" y="1163" width="1" height="3" fill="#2a5a73"/>
<rect x="417.98" y="1166" width="7.4" height="42.5" fill="#383838"/>
<rect x="430.64" y="1166" width="7.4" height="42.5" fill="#383838"/>
<rect x="433.84" y="1163" width="1" height="3" fill="#2a5a73"/>
<rect x="443.3" y="1166" width="7.4" height="42.5" fill="#383838"/>
<rect x="446.5" y="1163" width="1" height="3" fill="#1c7fb2"/>
<rect x="455.96" y="1166" width="7.4" height="42.5" fill="#383838"/>
<rect x="456.16" y="1142.67" width="7" height="23.33" fill="#1ba1e0"/>
<rect x="468.62" y="1166" width="7.4" height="42.5" fill="#383838"/>
<rect x="468.82" y="1065.88" width="7" height="100.12" fill="#1ba1e0"/>
<rect x="481.28" y="1166" width="7.4" height="42.5" fill="#383838"/>
<rect x="481.48" y="1024.48" width="7" height="141.52" fill="#1ba1e0"/>
<line x1="61" y1="1217" x2="68.5" y2="1217" stroke="#bbb" stroke-width="0.8" stroke-dasharray="0.9 0.9"/>
<line x1="91.5" y1="1217" x2="119.5" y2="1217" stroke="#bbb" stroke-width="0.8" stroke-dasharray="0.9 0.9"/>
<line x1="141.5" y1="1217" x2="157.5" y2="1217" stroke="#bbb" stroke-width="0.8" stroke-dasharray="0.9 0.9"/>
<line x1="180.5" y1="1217" x2="243" y2="1217" stroke="#bbb" stroke-width="0.8" stroke-dasharray="0.9 0.9"/>
<line x1="266" y1="1217" x2="408" y2="1217" stroke="#bbb" stroke-width="0.8" stroke-dasharray="0.9 0.9"/>
<line x1="431.5" y1="1217" x2="485.5" y2="1217" stroke="#bbb" stroke-width="0.8" stroke-dasharray="0.9 0.9"/>
<rect x="550.2" y="1212.9" width="137.1" height="4.6" fill="#e4202d"/>
<path d="M669.5 1205.5 L681.5 1220.2 L685.3 1220.2 L673.3 1205.5Z" fill="#27a6e0"/>
<circle cx="681.8" cy="1196.4" r="0.9" fill="none" stroke="#27a6e0" stroke-width="0.5"/>
</svg>
<div id="tx">
<div class="t" style="font-size:43.31px;line-height:48px;-webkit-text-stroke:0.8px #fff;text-shadow:0.8px 0 #fff,-0.8px 0 #fff,1.6px 0 #fff,-1.6px 0 #fff,2.3px 0 #fff,-2.3px 0 #fff;left:9.69px;top:3.4px;transform:scaleX(0.403);transform-origin:0 0;">A</div>
<div class="t" style="font-size:43.31px;line-height:48px;-webkit-text-stroke:0.8px #fff;text-shadow:0.8px 0 #fff,-0.8px 0 #fff,1.6px 0 #fff,-1.6px 0 #fff,2.3px 0 #fff,-2.3px 0 #fff;left:33.54px;top:3.4px;transform:scaleX(0.569);transform-origin:0 0;">Study</div>
<div class="t" style="font-size:43.31px;line-height:48px;-webkit-text-stroke:0.8px #fff;text-shadow:0.8px 0 #fff,-0.8px 0 #fff,1.6px 0 #fff,-1.6px 0 #fff,2.3px 0 #fff,-2.3px 0 #fff;left:112.87px;top:3.4px;transform:scaleX(0.508);transform-origin:0 0;">of</div>
<div class="t" style="font-size:43.31px;line-height:48px;-webkit-text-stroke:0.8px #fff;text-shadow:0.8px 0 #fff,-0.8px 0 #fff,1.6px 0 #fff,-1.6px 0 #fff,2.3px 0 #fff,-2.3px 0 #fff;left:146.88px;top:3.4px;transform:scaleX(0.510);transform-origin:0 0;">All</div>
<div class="t" style="font-size:43.31px;line-height:48px;-webkit-text-stroke:0.8px #fff;text-shadow:0.8px 0 #fff,-0.8px 0 #fff,1.6px 0 #fff,-1.6px 0 #fff,2.3px 0 #fff,-2.3px 0 #fff;left:185.07px;top:3.4px;transform:scaleX(0.582);transform-origin:0 0;">Category</div>
<div class="t" style="font-size:42.15px;line-height:47px;-webkit-text-stroke:0.8px #fff;text-shadow:0.8px 0 #fff,-0.8px 0 #fff,1.6px 0 #fff,-1.6px 0 #fff,2.3px 0 #fff,-2.3px 0 #fff;left:9.95px;top:43.7px;transform:scaleX(0.499);transform-origin:0 0;">5</div>
<div class="t" style="font-size:42.15px;line-height:47px;-webkit-text-stroke:0.8px #fff;text-shadow:0.8px 0 #fff,-0.8px 0 #fff,1.6px 0 #fff,-1.6px 0 #fff,2.3px 0 #fff,-2.3px 0 #fff;left:28.63px;top:43.7px;transform:scaleX(0.605);transform-origin:0 0;">Hurricanes</div>
<div class="t" style="font-size:42.44px;line-height:47px;-webkit-text-stroke:0.8px #fff;text-shadow:0.8px 0 #fff,-0.8px 0 #fff,1.6px 0 #fff,-1.6px 0 #fff,2.3px 0 #fff,-2.3px 0 #fff;left:9.61px;top:83.9px;transform:scaleX(0.524);transform-origin:0 0;">of</div>
<div class="t" style="font-size:42.44px;line-height:47px;-webkit-text-stroke:0.8px #fff;text-shadow:0.8px 0 #fff,-0.8px 0 #fff,1.6px 0 #fff,-1.6px 0 #fff,2.3px 0 #fff,-2.3px 0 #fff;left:44.97px;top:83.9px;transform:scaleX(0.543);transform-origin:0 0;">the</div>
<div class="t" style="font-size:42.44px;line-height:47px;-webkit-text-stroke:0.8px #fff;text-shadow:0.8px 0 #fff,-0.8px 0 #fff,1.6px 0 #fff,-1.6px 0 #fff,2.3px 0 #fff,-2.3px 0 #fff;left:92.49px;top:83.9px;transform:scaleX(0.552);transform-origin:0 0;">Past</div>
<div class="t" style="font-size:42.44px;line-height:47px;-webkit-text-stroke:0.8px #fff;text-shadow:0.8px 0 #fff,-0.8px 0 #fff,1.6px 0 #fff,-1.6px 0 #fff,2.3px 0 #fff,-2.3px 0 #fff;left:155.99px;top:83.9px;transform:scaleX(0.551);transform-origin:0 0;">50</div>
<div class="t" style="font-size:42.44px;line-height:47px;-webkit-text-stroke:0.8px #fff;text-shadow:0.8px 0 #fff,-0.8px 0 #fff,1.6px 0 #fff,-1.6px 0 #fff,2.3px 0 #fff,-2.3px 0 #fff;left:196.01px;top:83.9px;transform:scaleX(0.560);transform-origin:0 0;">Years</div>
<div class="t" style="font-size:10.03px;line-height:11px;left:407.69px;top:42.4px;transform:scaleX(0.504);transform-origin:50% 0;">KEY</div>
<div class="t" style="font-size:9.59px;line-height:11px;left:453.5px;top:20.9px;transform:scaleX(0.561);transform-origin:0 0;">IMPACT INDEX</div>
<div class="t" style="font-size:9.88px;line-height:11px;left:496.8px;top:20.8px;transform:scaleX(0.575);transform-origin:0 0;">The impact index weighs the death toll,</div>
<div class="t" style="font-size:9.88px;line-height:11px;left:496.8px;top:31.8px;transform:scaleX(0.581);transform-origin:0 0;">dollars in destruction, duration, and wind speed.</div>
<div class="t" style="font-size:5.09px;line-height:6px;left:456.87px;top:53.9px;transform:scaleX(0.850);transform-origin:50% 0;">xx</div>
<div class="t" style="font-size:9.16px;line-height:10px;left:453.5px;top:80.3px;transform:scaleX(0.561);transform-origin:0 0;">LEAST DESTRUCTIVE</div>
<div class="t" style="font-size:9.16px;line-height:10px;left:564.39px;top:80.3px;transform:scaleX(0.574);transform-origin:100% 0;">MOST DESTRUCTIVE</div>
<div class="t" style="font-size:9.59px;line-height:11px;left:474.6px;top:101.4px;transform:scaleX(0.589);transform-origin:0 0;">Sustained</div>
<div class="t" style="font-size:9.59px;line-height:11px;left:474.6px;top:112.2px;transform:scaleX(0.603);transform-origin:0 0;">wind speed</div>
<div class="t" style="font-size:9.59px;line-height:11px;left:530.5px;top:101.4px;transform:scaleX(0.596);transform-origin:0 0;">Duration</div>
<div class="t" style="font-size:7.27px;line-height:9px;color:#2d2d2d;left:567.63px;top:102.6px;transform:scaleX(0.800);transform-origin:50% 0;">$</div>
<div class="t" style="font-size:7.27px;line-height:9px;color:#2d2d2d;left:573.93px;top:102.6px;transform:scaleX(0.800);transform-origin:50% 0;">$</div>
<div class="t" style="font-size:9.59px;line-height:11px;left:581.2px;top:101.4px;transform:scaleX(0.575);transform-origin:0 0;">$ in</div>
<div class="t" style="font-size:9.59px;line-height:11px;left:581.2px;top:112.2px;transform:scaleX(0.593);transform-origin:0 0;">destruction</div>
<div class="t" style="font-size:9.59px;line-height:11px;left:639px;top:101.4px;transform:scaleX(0.595);transform-origin:0 0;">Death toll</div>
<div class="t" style="font-size:6.54px;line-height:7px;color:#2a2a2a;left:7.64px;top:261.9px;transform:scaleX(0.928);transform-origin:50% 0;">John</div>
<div class="t" style="font-size:6.54px;line-height:7px;color:#2a2a2a;left:24.77px;top:261.9px;transform:scaleX(0.997);transform-origin:50% 0;">1994</div>
<div class="t" style="font-size:6.54px;line-height:7px;color:#2a2a2a;left:4.91px;top:348.7px;transform:scaleX(0.957);transform-origin:50% 0;">Gilma</div>
<div class="t" style="font-size:6.54px;line-height:7px;color:#2a2a2a;left:24.77px;top:348.7px;transform:scaleX(0.997);transform-origin:50% 0;">1994</div>
<div class="t" style="font-size:6.54px;line-height:7px;color:#2a2a2a;left:26.72px;top:375.1px;transform:scaleX(1.012);transform-origin:50% 0;">Emilia</div>
<div class="t" style="font-size:6.54px;line-height:7px;color:#2a2a2a;left:47.57px;top:375.1px;transform:scaleX(0.914);transform-origin:50% 0;">1994</div>
<div class="t" style="font-size:6.54px;line-height:7px;color:#2a2a2a;left:70.27px;top:389.1px;transform:scaleX(0.961);transform-origin:50% 0;">Ava</div>
<div class="t" style="font-size:6.54px;line-height:7px;color:#2a2a2a;left:83.27px;top:389.1px;transform:scaleX(0.914);transform-origin:50% 0;">1973</div>
<div class="t" style="font-size:6.54px;line-height:7px;color:#2a2a2a;left:122.73px;top:389.1px;transform:scaleX(0.969);transform-origin:50% 0;">Linda</div>
<div class="t" style="font-size:6.54px;line-height:7px;color:#2a2a2a;left:141.22px;top:389.1px;transform:scaleX(0.893);transform-origin:50% 0;">1997</div>
<div class="t" style="font-size:6.54px;line-height:7px;color:#2a2a2a;left:127.14px;top:405.7px;transform:scaleX(0.956);transform-origin:50% 0;">Guillermo</div>
<div class="t" style="font-size:6.54px;line-height:7px;color:#2a2a2a;left:159.12px;top:405.7px;transform:scaleX(1.003);transform-origin:50% 0;">1997</div>
<div class="t" style="font-size:6.54px;line-height:7px;color:#2a2a2a;left:172.53px;top:261.5px;transform:scaleX(0.954);transform-origin:50% 0;">Edith</div>
<div class="t" style="font-size:6.54px;line-height:7px;color:#2a2a2a;left:189.97px;top:261.5px;transform:scaleX(0.914);transform-origin:50% 0;">1971</div>
<div class="t" style="font-size:6.54px;line-height:7px;color:#2a2a2a;left:272.39px;top:234.7px;transform:scaleX(0.943);transform-origin:50% 0;">David</div>
<div class="t" style="font-size:6.54px;line-height:7px;color:#2a2a2a;left:292.42px;top:234.7px;transform:scaleX(1.086);transform-origin:50% 0;">1979</div>
<div class="t" style="font-size:6.54px;line-height:7px;color:#2a2a2a;left:272.47px;top:272.3px;transform:scaleX(0.963);transform-origin:50% 0;">Camille</div>
<div class="t" style="font-size:6.54px;line-height:7px;color:#2a2a2a;left:298.57px;top:272.3px;transform:scaleX(1.161);transform-origin:50% 0;">1969</div>
<div class="t" style="font-size:6.54px;line-height:7px;color:#2a2a2a;left:286.07px;top:303.6px;transform:scaleX(0.936);transform-origin:50% 0;">Anita</div>
<div class="t" style="font-size:6.54px;line-height:7px;color:#2a2a2a;left:303.32px;top:303.6px;transform:scaleX(0.907);transform-origin:50% 0;">1977</div>
<div class="t" style="font-size:6.54px;line-height:7px;color:#2a2a2a;left:296.81px;top:318.6px;transform:scaleX(0.976);transform-origin:50% 0;">Andrew</div>
<div class="t" style="font-size:6.54px;line-height:7px;color:#2a2a2a;left:323.37px;top:318.6px;transform:scaleX(1.106);transform-origin:50% 0;">1992</div>
<div class="t" style="font-size:6.54px;line-height:7px;color:#2a2a2a;left:318.1px;top:335.8px;transform:scaleX(0.904);transform-origin:50% 0;">Hugo</div>
<div class="t" style="font-size:6.54px;line-height:7px;color:#2a2a2a;left:335.77px;top:335.8px;transform:scaleX(0.955);transform-origin:50% 0;">1989</div>
<div class="t" style="font-size:6.54px;line-height:7px;color:#2a2a2a;left:312.25px;top:388.9px;transform:scaleX(0.957);transform-origin:50% 0;">Allen</div>
<div class="t" style="font-size:6.54px;line-height:7px;left:329.97px;top:388.9px;transform:scaleX(0.997);transform-origin:50% 0;">1980</div>
<div class="t" style="font-size:6.54px;line-height:7px;color:#2a2a2a;left:206.46px;top:406.5px;transform:scaleX(0.949);transform-origin:50% 0;">Mitch</div>
<div class="t" style="font-size:6.54px;line-height:7px;left:224.87px;top:406.5px;transform:scaleX(0.955);transform-origin:50% 0;">1998</div>
<div class="t" style="font-size:6.54px;line-height:7px;color:#2a2a2a;left:265.41px;top:406.5px;transform:scaleX(1.039);transform-origin:50% 0;">Gilbert</div>
<div class="t" style="font-size:6.54px;line-height:7px;color:#2a2a2a;left:288.92px;top:406.5px;transform:scaleX(0.990);transform-origin:50% 0;">1988</div>
<div class="t" style="font-size:6.54px;line-height:7px;color:#2a2a2a;left:331.66px;top:210.5px;transform:scaleX(1.024);transform-origin:50% 0;">Ioke</div>
<div class="t" style="font-size:6.54px;line-height:7px;color:#2a2a2a;left:346.97px;top:210.5px;transform:scaleX(0.997);transform-origin:50% 0;">2006</div>
<div class="t" style="font-size:6.54px;line-height:7px;color:#2a2a2a;left:359.96px;top:234.9px;transform:scaleX(0.983);transform-origin:50% 0;">Marie</div>
<div class="t" style="font-size:6.54px;line-height:7px;color:#2a2a2a;left:379.47px;top:234.9px;transform:scaleX(1.065);transform-origin:50% 0;">2014</div>
<div class="t" style="font-size:6.54px;line-height:7px;color:#2a2a2a;left:491.73px;top:250.9px;transform:scaleX(1.012);transform-origin:50% 0;">Katrina</div>
<div class="t" style="font-size:6.54px;line-height:7px;left:515.72px;top:250.9px;transform:scaleX(0.893);transform-origin:50% 0;">2005</div>
<div class="t" style="font-size:6.54px;line-height:7px;color:#2a2a2a;left:488.07px;top:261.5px;transform:scaleX(0.995);transform-origin:50% 0;">Rita</div>
<div class="t" style="font-size:6.54px;line-height:7px;color:#2a2a2a;left:502.97px;top:261.5px;transform:scaleX(1.065);transform-origin:50% 0;">2005</div>
<div class="t" style="font-size:6.54px;line-height:7px;color:#2a2a2a;left:548.9px;top:234.9px;transform:scaleX(0.979);transform-origin:50% 0;">Wilma</div>
<div class="t" style="font-size:6.54px;line-height:7px;color:#2a2a2a;left:569.97px;top:234.9px;transform:scaleX(0.997);transform-origin:50% 0;">2005</div>
<div class="t" style="font-size:6.54px;line-height:7px;color:#2a2a2a;left:439.93px;top:280.9px;transform:scaleX(0.944);transform-origin:50% 0;">Patricia</div>
<div class="t" style="font-size:6.54px;line-height:7px;color:#2a2a2a;left:464.97px;top:280.9px;transform:scaleX(0.997);transform-origin:50% 0;">2015</div>
<div class="t" style="font-size:6.54px;line-height:7px;color:#2a2a2a;left:427.23px;top:312.5px;transform:scaleX(0.967);transform-origin:50% 0;">Hernan</div>
<div class="t" style="font-size:6.54px;line-height:7px;color:#2a2a2a;left:451.22px;top:312.5px;transform:scaleX(0.962);transform-origin:50% 0;">2002</div>
<div class="t" style="font-size:6.54px;line-height:7px;color:#2a2a2a;left:587.67px;top:312.5px;transform:scaleX(0.967);transform-origin:50% 0;">Matthew</div>
<div class="t" style="font-size:6.54px;line-height:7px;color:#2a2a2a;left:615.72px;top:312.5px;transform:scaleX(1.031);transform-origin:50% 0;">2005</div>
<div class="t" style="font-size:6.54px;line-height:7px;color:#2a2a2a;left:608.96px;top:325.9px;transform:scaleX(0.983);transform-origin:50% 0;">Maria</div>
<div class="t" style="font-size:6.54px;line-height:7px;left:628.47px;top:325.9px;transform:scaleX(1.065);transform-origin:50% 0;">2017</div>
<div class="t" style="font-size:6.54px;line-height:7px;color:#2a2a2a;left:639.98px;top:338.9px;transform:scaleX(0.987);transform-origin:50% 0;">Isabel</div>
<div class="t" style="font-size:6.54px;line-height:7px;color:#2a2a2a;left:660.22px;top:338.9px;transform:scaleX(0.962);transform-origin:50% 0;">2003</div>
<div class="t" style="font-size:6.54px;line-height:7px;color:#2a2a2a;left:670.09px;top:361.5px;transform:scaleX(0.999);transform-origin:50% 0;">Irma</div>
<div class="t" style="font-size:6.54px;line-height:7px;left:685.97px;top:361.5px;transform:scaleX(0.997);transform-origin:50% 0;">2017</div>
<div class="t" style="font-size:6.54px;line-height:7px;color:#2a2a2a;left:667.5px;top:372.5px;transform:scaleX(0.925);transform-origin:50% 0;">Dean</div>
<div class="t" style="font-size:6.54px;line-height:7px;color:#2a2a2a;left:685.47px;top:372.5px;transform:scaleX(1.065);transform-origin:50% 0;">2007</div>
<div class="t" style="font-size:6.54px;line-height:7px;color:#2a2a2a;left:671.46px;top:384px;transform:scaleX(0.978);transform-origin:50% 0;">Ivan</div>
<div class="t" style="font-size:6.54px;line-height:7px;left:687.47px;top:384px;transform:scaleX(1.134);transform-origin:50% 0;">2004</div>
<div class="t" style="font-size:6.54px;line-height:7px;color:#2a2a2a;left:500.68px;top:394.9px;transform:scaleX(1.075);transform-origin:50% 0;">Celia</div>
<div class="t" style="font-size:6.54px;line-height:7px;color:#2a2a2a;left:518.72px;top:394.9px;transform:scaleX(0.962);transform-origin:50% 0;">2010</div>
<div class="t" style="font-size:6.54px;line-height:7px;color:#2a2a2a;left:494.84px;top:409.9px;transform:scaleX(0.963);transform-origin:50% 0;">Rick</div>
<div class="t" style="font-size:6.54px;line-height:7px;color:#2a2a2a;left:510.72px;top:409.9px;transform:scaleX(1.031);transform-origin:50% 0;">2009</div>
<div class="t" style="font-size:6.54px;line-height:7px;color:#2a2a2a;left:490.43px;top:424.9px;transform:scaleX(0.979);transform-origin:50% 0;">Elida</div>
<div class="t" style="font-size:6.54px;line-height:7px;color:#2a2a2a;left:508.22px;top:424.9px;transform:scaleX(1.031);transform-origin:50% 0;">2002</div>
<div class="t" style="font-size:6.54px;line-height:7px;color:#2a2a2a;left:485.51px;top:439.9px;transform:scaleX(0.890);transform-origin:50% 0;">Kenna</div>
<div class="t" style="font-size:6.54px;line-height:7px;color:#2a2a2a;left:506.97px;top:439.9px;transform:scaleX(1.065);transform-origin:50% 0;">2002</div>
<div class="t" style="font-size:6.54px;line-height:7px;color:#2a2a2a;left:581.3px;top:409.9px;transform:scaleX(0.959);transform-origin:50% 0;">Felix</div>
<div class="t" style="font-size:6.54px;line-height:7px;color:#2a2a2a;left:597.72px;top:409.9px;transform:scaleX(0.962);transform-origin:50% 0;">2007</div>
<div class="t" style="font-size:6.54px;line-height:7px;color:#2a2a2a;left:627.27px;top:409.9px;transform:scaleX(0.963);transform-origin:50% 0;">Emily</div>
<div class="t" style="font-size:6.54px;line-height:7px;color:#2a2a2a;left:646.22px;top:409.9px;transform:scaleX(0.962);transform-origin:50% 0;">2005</div>
<div class="t" style="font-size:11.92px;line-height:14px;-webkit-text-stroke:0.4px #fff;text-shadow:0.7px 0 #fff,-0.7px 0 #fff;left:258.01px;top:166.8px;transform:scaleX(0.754);transform-origin:100% 0;">FROM 1969</div>
<div class="t" style="font-size:11.92px;line-height:14px;-webkit-text-stroke:0.4px #fff;text-shadow:0.7px 0 #fff,-0.7px 0 #fff;left:276.76px;top:180.4px;transform:scaleX(0.751);transform-origin:100% 0;">TO 1999</div>
<div class="t" style="font-size:11.92px;line-height:14px;-webkit-text-stroke:0.4px #fff;text-shadow:0.7px 0 #fff,-0.7px 0 #fff;left:579.37px;top:166.6px;transform:scaleX(0.794);transform-origin:100% 0;">FROM 2000</div>
<div class="t" style="font-size:11.92px;line-height:14px;-webkit-text-stroke:0.4px #fff;text-shadow:0.7px 0 #fff,-0.7px 0 #fff;left:598.16px;top:180.2px;transform:scaleX(0.757);transform-origin:100% 0;">TO 2015</div>
<div class="t" style="font-size:8.87px;line-height:10px;left:16.6px;top:394.9px;transform:scaleX(0.690);transform-origin:0 0;">= Start of</div>
<div class="t" style="font-size:8.87px;line-height:10px;left:16.6px;top:403.8px;transform:scaleX(0.636);transform-origin:0 0;">the hurricane path</div>
<div class="t" style="font-size:8.87px;line-height:10px;left:16.5px;top:418.1px;transform:scaleX(0.763);transform-origin:0 0;">= Where hurricane reached</div>
<div class="t" style="font-size:8.87px;line-height:10px;left:16.5px;top:427.3px;transform:scaleX(0.635);transform-origin:0 0;">category 5 on the Saffir–Simpson</div>
<div class="t" style="font-size:8.87px;line-height:10px;left:16.5px;top:436.7px;transform:scaleX(0.649);transform-origin:0 0;">hurricane wind scale.</div>
<div class="t" style="font-size:6.98px;line-height:7px;color:#1ba1e0;-webkit-text-stroke:0.6px #1ba1e0;left:8.84px;top:479.9px;transform:scaleX(1.129);transform-origin:0 0;">1969</div>
<div class="t" style="font-size:9.88px;line-height:11px;-webkit-text-stroke:0.3px #fff;left:10.9px;top:494.15px;transform:scaleX(0.660);transform-origin:0 0;">Camille</div>
<div class="t" style="font-size:7.56px;line-height:9px;-webkit-text-stroke:0.2px #fff;left:16.04px;top:519.7px;transform:scaleX(0.880);transform-origin:50% 0;">125.7</div>
<div class="t" style="font-size:7.09px;line-height:8px;-webkit-text-stroke:0.12px #fff;left:24.4px;top:551.54px;transform:scaleX(0.660);transform-origin:0 0;">175 mph</div>
<div class="t" style="font-size:7.09px;line-height:8px;-webkit-text-stroke:0.12px #fff;left:24.4px;top:558.24px;transform:scaleX(0.660);transform-origin:0 0;">280 km/h</div>
<div class="t" style="font-size:7.38px;line-height:9px;-webkit-text-stroke:0.12px #fff;left:24.4px;top:570.64px;transform:scaleX(0.680);transform-origin:0 0;">30</div>
<div class="t" style="font-size:7.24px;line-height:9px;-webkit-text-stroke:0.12px #fff;left:24.4px;top:583.24px;transform:scaleX(0.660);transform-origin:0 0;">259</div>
<div class="t" style="font-size:7.38px;line-height:9px;-webkit-text-stroke:0.12px #fff;left:24.3px;top:658.44px;transform:scaleX(0.660);transform-origin:0 0;">$1.42B</div>
<div class="t" style="font-size:6.98px;line-height:7px;color:#1ba1e0;-webkit-text-stroke:0.6px #1ba1e0;left:49.46px;top:479.9px;transform:scaleX(1.129);transform-origin:0 0;">1971</div>
<div class="t" style="font-size:9.88px;line-height:11px;-webkit-text-stroke:0.3px #fff;left:51.52px;top:494.15px;transform:scaleX(0.660);transform-origin:0 0;">Edith</div>
<div class="t" style="font-size:7.56px;line-height:9px;-webkit-text-stroke:0.2px #fff;left:61.92px;top:519.7px;transform:scaleX(0.880);transform-origin:50% 0;">83</div>
<div class="t" style="font-size:7.09px;line-height:8px;-webkit-text-stroke:0.12px #fff;left:65.03px;top:551.54px;transform:scaleX(0.660);transform-origin:0 0;">160 mph</div>
<div class="t" style="font-size:7.09px;line-height:8px;-webkit-text-stroke:0.12px #fff;left:65.03px;top:558.24px;transform:scaleX(0.660);transform-origin:0 0;">260 km/h</div>
<div class="t" style="font-size:7.38px;line-height:9px;-webkit-text-stroke:0.12px #fff;left:65.03px;top:570.64px;transform:scaleX(0.680);transform-origin:0 0;">6</div>
<div class="t" style="font-size:7.24px;line-height:9px;-webkit-text-stroke:0.12px #fff;left:65.03px;top:583.24px;transform:scaleX(0.660);transform-origin:0 0;">37</div>
<div class="t" style="font-size:7.38px;line-height:9px;-webkit-text-stroke:0.12px #fff;left:64.92px;top:658.44px;transform:scaleX(0.660);transform-origin:0 0;">$25.4M</div>
<div class="t" style="font-size:6.98px;line-height:7px;color:#1ba1e0;-webkit-text-stroke:0.6px #1ba1e0;left:90.09px;top:479.9px;transform:scaleX(1.129);transform-origin:0 0;">1973</div>
<div class="t" style="font-size:9.88px;line-height:11px;-webkit-text-stroke:0.3px #fff;left:92.15px;top:494.15px;transform:scaleX(0.660);transform-origin:0 0;">Ava</div>
<div class="t" style="font-size:7.56px;line-height:9px;-webkit-text-stroke:0.2px #fff;left:97.29px;top:519.7px;transform:scaleX(0.880);transform-origin:50% 0;">107.8</div>
<div class="t" style="font-size:7.09px;line-height:8px;-webkit-text-stroke:0.12px #fff;left:105.65px;top:551.54px;transform:scaleX(0.660);transform-origin:0 0;">160 mph</div>
<div class="t" style="font-size:7.09px;line-height:8px;-webkit-text-stroke:0.12px #fff;left:105.65px;top:558.24px;transform:scaleX(0.660);transform-origin:0 0;">260 km/h</div>
<div class="t" style="font-size:7.38px;line-height:9px;-webkit-text-stroke:0.12px #fff;left:105.65px;top:570.64px;transform:scaleX(0.680);transform-origin:0 0;">24</div>
<div class="t" style="font-size:7.24px;line-height:9px;-webkit-text-stroke:0.12px #fff;left:105.65px;top:583.24px;transform:scaleX(0.660);transform-origin:0 0;">none</div>
<div class="t" style="font-size:7.38px;line-height:9px;-webkit-text-stroke:0.12px #fff;left:105.55px;top:658.44px;transform:scaleX(0.660);transform-origin:0 0;">none</div>
<div class="t" style="font-size:6.98px;line-height:7px;color:#1ba1e0;-webkit-text-stroke:0.6px #1ba1e0;left:130.71px;top:479.9px;transform:scaleX(1.129);transform-origin:0 0;">1977</div>
<div class="t" style="font-size:9.88px;line-height:11px;-webkit-text-stroke:0.3px #fff;left:132.78px;top:494.15px;transform:scaleX(0.660);transform-origin:0 0;">Anita</div>
<div class="t" style="font-size:7.56px;line-height:9px;-webkit-text-stroke:0.2px #fff;left:140.02px;top:519.7px;transform:scaleX(0.880);transform-origin:50% 0;">98.1</div>
<div class="t" style="font-size:7.09px;line-height:8px;-webkit-text-stroke:0.12px #fff;left:146.28px;top:551.54px;transform:scaleX(0.660);transform-origin:0 0;">175 mph</div>
<div class="t" style="font-size:7.09px;line-height:8px;-webkit-text-stroke:0.12px #fff;left:146.28px;top:558.24px;transform:scaleX(0.660);transform-origin:0 0;">280 km/h</div>
<div class="t" style="font-size:7.38px;line-height:9px;-webkit-text-stroke:0.12px #fff;left:146.28px;top:570.64px;transform:scaleX(0.680);transform-origin:0 0;">12</div>
<div class="t" style="font-size:7.24px;line-height:9px;-webkit-text-stroke:0.12px #fff;left:146.28px;top:583.24px;transform:scaleX(0.660);transform-origin:0 0;">11</div>
<div class="t" style="font-size:7.38px;line-height:9px;-webkit-text-stroke:0.12px #fff;left:146.18px;top:658.44px;transform:scaleX(0.660);transform-origin:0 0;">unknown</div>
<div class="t" style="font-size:6.98px;line-height:7px;color:#1ba1e0;-webkit-text-stroke:0.6px #1ba1e0;left:171.34px;top:479.9px;transform:scaleX(1.129);transform-origin:0 0;">1979</div>
<div class="t" style="font-size:9.88px;line-height:11px;-webkit-text-stroke:0.3px #fff;left:173.4px;top:494.15px;transform:scaleX(0.660);transform-origin:0 0;">David</div>
<div class="t" style="font-size:7.56px;line-height:9px;-webkit-text-stroke:0.2px #fff;left:178.54px;top:519.7px;transform:scaleX(0.880);transform-origin:50% 0;">151.9</div>
<div class="t" style="font-size:7.09px;line-height:8px;-webkit-text-stroke:0.12px #fff;left:186.9px;top:551.54px;transform:scaleX(0.660);transform-origin:0 0;">175 mph</div>
<div class="t" style="font-size:7.09px;line-height:8px;-webkit-text-stroke:0.12px #fff;left:186.9px;top:558.24px;transform:scaleX(0.660);transform-origin:0 0;">280 km/h</div>
<div class="t" style="font-size:7.38px;line-height:9px;-webkit-text-stroke:0.12px #fff;left:186.9px;top:570.64px;transform:scaleX(0.680);transform-origin:0 0;">42</div>
<div class="t" style="font-size:7.24px;line-height:9px;-webkit-text-stroke:0.12px #fff;left:186.9px;top:583.24px;transform:scaleX(0.660);transform-origin:0 0;">2,068</div>
<div class="t" style="font-size:7.38px;line-height:9px;-webkit-text-stroke:0.12px #fff;left:186.8px;top:658.44px;transform:scaleX(0.660);transform-origin:0 0;">$1.54B</div>
<div class="t" style="font-size:6.98px;line-height:7px;color:#1ba1e0;-webkit-text-stroke:0.6px #1ba1e0;left:211.96px;top:479.9px;transform:scaleX(1.129);transform-origin:0 0;">1980</div>
<div class="t" style="font-size:9.88px;line-height:11px;-webkit-text-stroke:0.3px #fff;left:214.03px;top:494.15px;transform:scaleX(0.660);transform-origin:0 0;">Allen</div>
<div class="t" style="font-size:7.56px;line-height:9px;-webkit-text-stroke:0.2px #fff;left:219.17px;top:519.7px;transform:scaleX(0.880);transform-origin:50% 0;">190.9</div>
<div class="t" style="font-size:7.09px;line-height:8px;-webkit-text-stroke:0.12px #fff;left:227.53px;top:551.54px;transform:scaleX(0.660);transform-origin:0 0;">190 mph</div>
<div class="t" style="font-size:7.09px;line-height:8px;-webkit-text-stroke:0.12px #fff;left:227.53px;top:558.24px;transform:scaleX(0.660);transform-origin:0 0;">305 km/h</div>
<div class="t" style="font-size:7.38px;line-height:9px;-webkit-text-stroke:0.12px #fff;left:227.53px;top:570.64px;transform:scaleX(0.680);transform-origin:0 0;">72</div>
<div class="t" style="font-size:7.24px;line-height:9px;-webkit-text-stroke:0.12px #fff;left:227.53px;top:583.24px;transform:scaleX(0.660);transform-origin:0 0;">269</div>
<div class="t" style="font-size:7.38px;line-height:9px;-webkit-text-stroke:0.12px #fff;left:227.43px;top:658.44px;transform:scaleX(0.660);transform-origin:0 0;">$1.24B</div>
<div class="t" style="font-size:6.98px;line-height:7px;color:#1ba1e0;-webkit-text-stroke:0.6px #1ba1e0;left:252.59px;top:479.9px;transform:scaleX(1.129);transform-origin:0 0;">1988</div>
<div class="t" style="font-size:9.88px;line-height:11px;-webkit-text-stroke:0.3px #fff;left:254.65px;top:494.15px;transform:scaleX(0.660);transform-origin:0 0;">Gilbert</div>
<div class="t" style="font-size:7.56px;line-height:9px;-webkit-text-stroke:0.2px #fff;left:259.79px;top:519.7px;transform:scaleX(0.880);transform-origin:50% 0;">127.6</div>
<div class="t" style="font-size:7.09px;line-height:8px;-webkit-text-stroke:0.12px #fff;left:268.15px;top:551.54px;transform:scaleX(0.660);transform-origin:0 0;">185 mph</div>
<div class="t" style="font-size:7.09px;line-height:8px;-webkit-text-stroke:0.12px #fff;left:268.15px;top:558.24px;transform:scaleX(0.660);transform-origin:0 0;">295 km/h</div>
<div class="t" style="font-size:7.38px;line-height:9px;-webkit-text-stroke:0.12px #fff;left:268.15px;top:570.64px;transform:scaleX(0.680);transform-origin:0 0;">24</div>
<div class="t" style="font-size:7.24px;line-height:9px;-webkit-text-stroke:0.12px #fff;left:268.15px;top:583.24px;transform:scaleX(0.660);transform-origin:0 0;">318</div>
<div class="t" style="font-size:7.38px;line-height:9px;-webkit-text-stroke:0.12px #fff;left:268.05px;top:658.44px;transform:scaleX(0.660);transform-origin:0 0;">$7.1B</div>
<div class="t" style="font-size:6.98px;line-height:7px;color:#1ba1e0;-webkit-text-stroke:0.6px #1ba1e0;left:293.21px;top:479.9px;transform:scaleX(1.129);transform-origin:0 0;">1989</div>
<div class="t" style="font-size:9.88px;line-height:11px;-webkit-text-stroke:0.3px #fff;left:295.27px;top:494.15px;transform:scaleX(0.660);transform-origin:0 0;">Hugo</div>
<div class="t" style="font-size:7.56px;line-height:9px;-webkit-text-stroke:0.2px #fff;left:302.52px;top:519.7px;transform:scaleX(0.880);transform-origin:50% 0;">92.6</div>
<div class="t" style="font-size:7.09px;line-height:8px;-webkit-text-stroke:0.12px #fff;left:308.77px;top:551.54px;transform:scaleX(0.660);transform-origin:0 0;">160 mph</div>
<div class="t" style="font-size:7.09px;line-height:8px;-webkit-text-stroke:0.12px #fff;left:308.77px;top:558.24px;transform:scaleX(0.660);transform-origin:0 0;">260 km/h</div>
<div class="t" style="font-size:7.38px;line-height:9px;-webkit-text-stroke:0.12px #fff;left:308.77px;top:570.64px;transform:scaleX(0.680);transform-origin:0 0;">6</div>
<div class="t" style="font-size:7.24px;line-height:9px;-webkit-text-stroke:0.12px #fff;left:308.77px;top:583.24px;transform:scaleX(0.660);transform-origin:0 0;">107</div>
<div class="t" style="font-size:7.38px;line-height:9px;-webkit-text-stroke:0.12px #fff;left:308.68px;top:658.44px;transform:scaleX(0.660);transform-origin:0 0;">$10B</div>
<div class="t" style="font-size:6.98px;line-height:7px;color:#1ba1e0;-webkit-text-stroke:0.6px #1ba1e0;left:333.84px;top:479.9px;transform:scaleX(1.129);transform-origin:0 0;">1992</div>
<div class="t" style="font-size:9.88px;line-height:11px;-webkit-text-stroke:0.3px #fff;left:335.9px;top:494.15px;transform:scaleX(0.660);transform-origin:0 0;">Andrew</div>
<div class="t" style="font-size:7.56px;line-height:9px;-webkit-text-stroke:0.2px #fff;left:341.04px;top:519.7px;transform:scaleX(0.880);transform-origin:50% 0;">128.5</div>
<div class="t" style="font-size:7.09px;line-height:8px;-webkit-text-stroke:0.12px #fff;left:349.4px;top:551.54px;transform:scaleX(0.660);transform-origin:0 0;">175 mph</div>
<div class="t" style="font-size:7.09px;line-height:8px;-webkit-text-stroke:0.12px #fff;left:349.4px;top:558.24px;transform:scaleX(0.660);transform-origin:0 0;">280 km/h</div>
<div class="t" style="font-size:7.38px;line-height:9px;-webkit-text-stroke:0.12px #fff;left:349.4px;top:570.64px;transform:scaleX(0.680);transform-origin:0 0;">16</div>
<div class="t" style="font-size:7.24px;line-height:9px;-webkit-text-stroke:0.12px #fff;left:349.4px;top:583.24px;transform:scaleX(0.660);transform-origin:0 0;">62</div>
<div class="t" style="font-size:7.38px;line-height:9px;-webkit-text-stroke:0.12px #fff;left:349.3px;top:658.44px;transform:scaleX(0.660);transform-origin:0 0;">$26.5B</div>
<div class="t" style="font-size:6.98px;line-height:7px;color:#1ba1e0;-webkit-text-stroke:0.6px #1ba1e0;left:374.46px;top:479.9px;transform:scaleX(1.129);transform-origin:0 0;">1994</div>
<div class="t" style="font-size:9.88px;line-height:11px;-webkit-text-stroke:0.3px #fff;left:376.52px;top:494.15px;transform:scaleX(0.660);transform-origin:0 0;">Emilia</div>
<div class="t" style="font-size:7.56px;line-height:9px;-webkit-text-stroke:0.2px #fff;left:383.77px;top:519.7px;transform:scaleX(0.880);transform-origin:50% 0;">99.4</div>
<div class="t" style="font-size:7.09px;line-height:8px;-webkit-text-stroke:0.12px #fff;left:390.02px;top:551.54px;transform:scaleX(0.660);transform-origin:0 0;">160 mph</div>
<div class="t" style="font-size:7.09px;line-height:8px;-webkit-text-stroke:0.12px #fff;left:390.02px;top:558.24px;transform:scaleX(0.660);transform-origin:0 0;">260 km/h</div>
<div class="t" style="font-size:7.38px;line-height:9px;-webkit-text-stroke:0.12px #fff;left:390.02px;top:570.64px;transform:scaleX(0.680);transform-origin:0 0;">18</div>
<div class="t" style="font-size:7.24px;line-height:9px;-webkit-text-stroke:0.12px #fff;left:390.02px;top:583.24px;transform:scaleX(0.660);transform-origin:0 0;">none</div>
<div class="t" style="font-size:7.38px;line-height:9px;-webkit-text-stroke:0.12px #fff;left:389.93px;top:658.44px;transform:scaleX(0.660);transform-origin:0 0;">none</div>
<div class="t" style="font-size:9.88px;line-height:11px;-webkit-text-stroke:0.3px #fff;left:417.15px;top:494.15px;transform:scaleX(0.660);transform-origin:0 0;">Gilma</div>
<div class="t" style="font-size:7.56px;line-height:9px;-webkit-text-stroke:0.2px #fff;left:424.39px;top:519.7px;transform:scaleX(0.880);transform-origin:50% 0;">99.4</div>
<div class="t" style="font-size:7.09px;line-height:8px;-webkit-text-stroke:0.12px #fff;left:430.65px;top:551.54px;transform:scaleX(0.660);transform-origin:0 0;">160 mph</div>
<div class="t" style="font-size:7.09px;line-height:8px;-webkit-text-stroke:0.12px #fff;left:430.65px;top:558.24px;transform:scaleX(0.660);transform-origin:0 0;">260 km/h</div>
<div class="t" style="font-size:7.38px;line-height:9px;-webkit-text-stroke:0.12px #fff;left:430.65px;top:570.64px;transform:scaleX(0.680);transform-origin:0 0;">18</div>
<div class="t" style="font-size:7.24px;line-height:9px;-webkit-text-stroke:0.12px #fff;left:430.65px;top:583.24px;transform:scaleX(0.660);transform-origin:0 0;">none</div>
<div class="t" style="font-size:7.38px;line-height:9px;-webkit-text-stroke:0.12px #fff;left:430.55px;top:658.44px;transform:scaleX(0.660);transform-origin:0 0;">none</div>
<div class="t" style="font-size:9.88px;line-height:11px;-webkit-text-stroke:0.3px #fff;left:457.77px;top:494.15px;transform:scaleX(0.660);transform-origin:0 0;">John</div>
<div class="t" style="font-size:7.56px;line-height:9px;-webkit-text-stroke:0.2px #fff;left:462.92px;top:519.7px;transform:scaleX(0.880);transform-origin:50% 0;">139.7</div>
<div class="t" style="font-size:7.09px;line-height:8px;-webkit-text-stroke:0.12px #fff;left:471.27px;top:551.54px;transform:scaleX(0.660);transform-origin:0 0;">175 mph</div>
<div class="t" style="font-size:7.09px;line-height:8px;-webkit-text-stroke:0.12px #fff;left:471.27px;top:558.24px;transform:scaleX(0.660);transform-origin:0 0;">280 km/h</div>
<div class="t" style="font-size:7.38px;line-height:9px;-webkit-text-stroke:0.12px #fff;left:471.27px;top:570.64px;transform:scaleX(0.680);transform-origin:0 0;">42</div>
<div class="t" style="font-size:7.24px;line-height:9px;-webkit-text-stroke:0.12px #fff;left:471.27px;top:583.24px;transform:scaleX(0.660);transform-origin:0 0;">none</div>
<div class="t" style="font-size:7.38px;line-height:9px;-webkit-text-stroke:0.12px #fff;left:471.18px;top:658.44px;transform:scaleX(0.660);transform-origin:0 0;">$15M</div>
<div class="t" style="font-size:6.98px;line-height:7px;color:#1ba1e0;-webkit-text-stroke:0.6px #1ba1e0;left:496.34px;top:479.9px;transform:scaleX(1.129);transform-origin:0 0;">1997</div>
<div class="t" style="font-size:9.88px;line-height:11px;-webkit-text-stroke:0.3px #fff;left:498.4px;top:494.15px;transform:scaleX(0.660);transform-origin:0 0;">Guillermo</div>
<div class="t" style="font-size:7.56px;line-height:9px;-webkit-text-stroke:0.2px #fff;left:503.54px;top:519.7px;transform:scaleX(0.880);transform-origin:50% 0;">107.8</div>
<div class="t" style="font-size:7.09px;line-height:8px;-webkit-text-stroke:0.12px #fff;left:511.9px;top:551.54px;transform:scaleX(0.660);transform-origin:0 0;">160 mph</div>
<div class="t" style="font-size:7.09px;line-height:8px;-webkit-text-stroke:0.12px #fff;left:511.9px;top:558.24px;transform:scaleX(0.660);transform-origin:0 0;">260 km/h</div>
<div class="t" style="font-size:7.38px;line-height:9px;-webkit-text-stroke:0.12px #fff;left:511.9px;top:570.64px;transform:scaleX(0.680);transform-origin:0 0;">24</div>
<div class="t" style="font-size:7.24px;line-height:9px;-webkit-text-stroke:0.12px #fff;left:511.9px;top:583.24px;transform:scaleX(0.660);transform-origin:0 0;">3</div>
<div class="t" style="font-size:7.38px;line-height:9px;-webkit-text-stroke:0.12px #fff;left:511.8px;top:658.44px;transform:scaleX(0.660);transform-origin:0 0;">none</div>
<div class="t" style="font-size:9.88px;line-height:11px;-webkit-text-stroke:0.3px #fff;left:539.02px;top:494.15px;transform:scaleX(0.660);transform-origin:0 0;">Linda</div>
<div class="t" style="font-size:7.56px;line-height:9px;-webkit-text-stroke:0.2px #fff;left:544.17px;top:519.7px;transform:scaleX(0.880);transform-origin:50% 0;">144.4</div>
<div class="t" style="font-size:7.09px;line-height:8px;-webkit-text-stroke:0.12px #fff;left:552.52px;top:551.54px;transform:scaleX(0.660);transform-origin:0 0;">185 mph</div>
<div class="t" style="font-size:7.09px;line-height:8px;-webkit-text-stroke:0.12px #fff;left:552.52px;top:558.24px;transform:scaleX(0.660);transform-origin:0 0;">295 km/h</div>
<div class="t" style="font-size:7.38px;line-height:9px;-webkit-text-stroke:0.12px #fff;left:552.52px;top:570.64px;transform:scaleX(0.680);transform-origin:0 0;">42</div>
<div class="t" style="font-size:7.24px;line-height:9px;-webkit-text-stroke:0.12px #fff;left:552.52px;top:583.24px;transform:scaleX(0.660);transform-origin:0 0;">none</div>
<div class="t" style="font-size:7.38px;line-height:9px;-webkit-text-stroke:0.12px #fff;left:552.42px;top:658.44px;transform:scaleX(0.660);transform-origin:0 0;">$3.2M</div>
<div class="t" style="font-size:6.98px;line-height:7px;color:#1ba1e0;-webkit-text-stroke:0.6px #1ba1e0;left:577.59px;top:479.9px;transform:scaleX(1.129);transform-origin:0 0;">1998</div>
<div class="t" style="font-size:9.88px;line-height:11px;-webkit-text-stroke:0.3px #fff;left:579.65px;top:494.15px;transform:scaleX(0.660);transform-origin:0 0;">Mitch</div>
<div class="t" style="font-size:7.56px;line-height:9px;-webkit-text-stroke:0.2px #fff;left:584.79px;top:519.7px;transform:scaleX(0.880);transform-origin:50% 0;">247.8</div>
<div class="t" style="font-size:7.09px;line-height:8px;-webkit-text-stroke:0.12px #fff;left:593.15px;top:551.54px;transform:scaleX(0.660);transform-origin:0 0;">180 mph</div>
<div class="t" style="font-size:7.09px;line-height:8px;-webkit-text-stroke:0.12px #fff;left:593.15px;top:558.24px;transform:scaleX(0.660);transform-origin:0 0;">285 km/h</div>
<div class="t" style="font-size:7.38px;line-height:9px;-webkit-text-stroke:0.12px #fff;left:593.15px;top:570.64px;transform:scaleX(0.680);transform-origin:0 0;">42</div>
<div class="t" style="font-size:7.24px;line-height:9px;-webkit-text-stroke:0.12px #fff;left:593.15px;top:583.24px;transform:scaleX(0.660);transform-origin:0 0;">19,325</div>
<div class="t" style="font-size:7.38px;line-height:9px;-webkit-text-stroke:0.12px #fff;left:593.05px;top:658.44px;transform:scaleX(0.660);transform-origin:0 0;">$6.2B</div>
<div class="t" style="font-size:6.98px;line-height:7px;color:#1ba1e0;-webkit-text-stroke:0.6px #1ba1e0;left:618.21px;top:479.9px;transform:scaleX(1.129);transform-origin:0 0;">2002</div>
<div class="t" style="font-size:9.88px;line-height:11px;-webkit-text-stroke:0.3px #fff;left:620.27px;top:494.15px;transform:scaleX(0.660);transform-origin:0 0;">Elida</div>
<div class="t" style="font-size:7.56px;line-height:9px;-webkit-text-stroke:0.2px #fff;left:627.52px;top:519.7px;transform:scaleX(0.880);transform-origin:50% 0;">82.8</div>
<div class="t" style="font-size:7.09px;line-height:8px;-webkit-text-stroke:0.12px #fff;left:633.77px;top:551.54px;transform:scaleX(0.660);transform-origin:0 0;">160 mph</div>
<div class="t" style="font-size:7.09px;line-height:8px;-webkit-text-stroke:0.12px #fff;left:633.77px;top:558.24px;transform:scaleX(0.660);transform-origin:0 0;">260 km/h</div>
<div class="t" style="font-size:7.38px;line-height:9px;-webkit-text-stroke:0.12px #fff;left:633.77px;top:570.64px;transform:scaleX(0.680);transform-origin:0 0;">6</div>
<div class="t" style="font-size:7.24px;line-height:9px;-webkit-text-stroke:0.12px #fff;left:633.77px;top:583.24px;transform:scaleX(0.660);transform-origin:0 0;">none</div>
<div class="t" style="font-size:7.38px;line-height:9px;-webkit-text-stroke:0.12px #fff;left:633.67px;top:658.44px;transform:scaleX(0.660);transform-origin:0 0;">none</div>
<div class="t" style="font-size:9.88px;line-height:11px;-webkit-text-stroke:0.3px #fff;left:660.9px;top:494.15px;transform:scaleX(0.660);transform-origin:0 0;">Hernan</div>
<div class="t" style="font-size:7.56px;line-height:9px;-webkit-text-stroke:0.2px #fff;left:668.14px;top:519.7px;transform:scaleX(0.880);transform-origin:50% 0;">91.1</div>
<div class="t" style="font-size:7.09px;line-height:8px;-webkit-text-stroke:0.12px #fff;left:674.4px;top:551.54px;transform:scaleX(0.660);transform-origin:0 0;">160 mph</div>
<div class="t" style="font-size:7.09px;line-height:8px;-webkit-text-stroke:0.12px #fff;left:674.4px;top:558.24px;transform:scaleX(0.660);transform-origin:0 0;">260 km/h</div>
<div class="t" style="font-size:7.38px;line-height:9px;-webkit-text-stroke:0.12px #fff;left:674.4px;top:570.64px;transform:scaleX(0.680);transform-origin:0 0;">12</div>
<div class="t" style="font-size:7.24px;line-height:9px;-webkit-text-stroke:0.12px #fff;left:674.4px;top:583.24px;transform:scaleX(0.660);transform-origin:0 0;">none</div>
<div class="t" style="font-size:7.38px;line-height:9px;-webkit-text-stroke:0.12px #fff;left:674.3px;top:658.44px;transform:scaleX(0.660);transform-origin:0 0;">none</div>
<div class="t" style="font-size:6.98px;line-height:7px;color:#1ba1e0;-webkit-text-stroke:0.6px #1ba1e0;left:8.84px;top:732.7px;transform:scaleX(1.129);transform-origin:0 0;">2002</div>
<div class="t" style="font-size:9.88px;line-height:11px;-webkit-text-stroke:0.3px #fff;left:10.9px;top:746.95px;transform:scaleX(0.660);transform-origin:0 0;">Kenna</div>
<div class="t" style="font-size:7.56px;line-height:9px;-webkit-text-stroke:0.2px #fff;left:16.04px;top:772.5px;transform:scaleX(0.880);transform-origin:50% 0;">101.9</div>
<div class="t" style="font-size:7.09px;line-height:8px;-webkit-text-stroke:0.12px #fff;left:24.4px;top:804.34px;transform:scaleX(0.660);transform-origin:0 0;">165 mph</div>
<div class="t" style="font-size:7.09px;line-height:8px;-webkit-text-stroke:0.12px #fff;left:24.4px;top:811.04px;transform:scaleX(0.660);transform-origin:0 0;">270 km/h</div>
<div class="t" style="font-size:7.38px;line-height:9px;-webkit-text-stroke:0.12px #fff;left:24.4px;top:823.44px;transform:scaleX(0.680);transform-origin:0 0;">18</div>
<div class="t" style="font-size:7.24px;line-height:9px;-webkit-text-stroke:0.12px #fff;left:24.4px;top:836.04px;transform:scaleX(0.660);transform-origin:0 0;">4</div>
<div class="t" style="font-size:7.38px;line-height:9px;-webkit-text-stroke:0.12px #fff;left:24.3px;top:911.24px;transform:scaleX(0.660);transform-origin:0 0;">$101M</div>
<div class="t" style="font-size:6.98px;line-height:7px;color:#1ba1e0;-webkit-text-stroke:0.6px #1ba1e0;left:49.46px;top:732.7px;transform:scaleX(1.129);transform-origin:0 0;">2003</div>
<div class="t" style="font-size:9.88px;line-height:11px;-webkit-text-stroke:0.3px #fff;left:51.52px;top:746.95px;transform:scaleX(0.660);transform-origin:0 0;">Isabel</div>
<div class="t" style="font-size:7.56px;line-height:9px;-webkit-text-stroke:0.2px #fff;left:56.67px;top:772.5px;transform:scaleX(0.880);transform-origin:50% 0;">140.3</div>
<div class="t" style="font-size:7.09px;line-height:8px;-webkit-text-stroke:0.12px #fff;left:65.03px;top:804.34px;transform:scaleX(0.660);transform-origin:0 0;">165 mph</div>
<div class="t" style="font-size:7.09px;line-height:8px;-webkit-text-stroke:0.12px #fff;left:65.03px;top:811.04px;transform:scaleX(0.660);transform-origin:0 0;">270 km/h</div>
<div class="t" style="font-size:7.38px;line-height:9px;-webkit-text-stroke:0.12px #fff;left:65.03px;top:823.44px;transform:scaleX(0.680);transform-origin:0 0;">42</div>
<div class="t" style="font-size:7.24px;line-height:9px;-webkit-text-stroke:0.12px #fff;left:65.03px;top:836.04px;transform:scaleX(0.660);transform-origin:0 0;">51</div>
<div class="t" style="font-size:7.38px;line-height:9px;-webkit-text-stroke:0.12px #fff;left:64.92px;top:911.24px;transform:scaleX(0.660);transform-origin:0 0;">$5.37B</div>
<div class="t" style="font-size:6.98px;line-height:7px;color:#1ba1e0;-webkit-text-stroke:0.6px #1ba1e0;left:90.09px;top:732.7px;transform:scaleX(1.129);transform-origin:0 0;">2004</div>
<div class="t" style="font-size:9.88px;line-height:11px;-webkit-text-stroke:0.3px #fff;left:92.15px;top:746.95px;transform:scaleX(0.660);transform-origin:0 0;">Ivan</div>
<div class="t" style="font-size:7.56px;line-height:9px;-webkit-text-stroke:0.2px #fff;left:97.29px;top:772.5px;transform:scaleX(0.880);transform-origin:50% 0;">182.3</div>
<div class="t" style="font-size:7.09px;line-height:8px;-webkit-text-stroke:0.12px #fff;left:105.65px;top:804.34px;transform:scaleX(0.660);transform-origin:0 0;">165 mph</div>
<div class="t" style="font-size:7.09px;line-height:8px;-webkit-text-stroke:0.12px #fff;left:105.65px;top:811.04px;transform:scaleX(0.660);transform-origin:0 0;">270 km/h</div>
<div class="t" style="font-size:7.38px;line-height:9px;-webkit-text-stroke:0.12px #fff;left:105.65px;top:823.44px;transform:scaleX(0.680);transform-origin:0 0;">60</div>
<div class="t" style="font-size:7.24px;line-height:9px;-webkit-text-stroke:0.12px #fff;left:105.65px;top:836.04px;transform:scaleX(0.660);transform-origin:0 0;">124</div>
<div class="t" style="font-size:7.38px;line-height:9px;-webkit-text-stroke:0.12px #fff;left:105.55px;top:911.24px;transform:scaleX(0.660);transform-origin:0 0;">$23.3B</div>
<div class="t" style="font-size:6.98px;line-height:7px;color:#1ba1e0;-webkit-text-stroke:0.6px #1ba1e0;left:130.71px;top:732.7px;transform:scaleX(1.129);transform-origin:0 0;">2005</div>
<div class="t" style="font-size:9.88px;line-height:11px;-webkit-text-stroke:0.3px #fff;left:132.78px;top:746.95px;transform:scaleX(0.660);transform-origin:0 0;">Emily</div>
<div class="t" style="font-size:7.56px;line-height:9px;-webkit-text-stroke:0.2px #fff;left:140.02px;top:772.5px;transform:scaleX(0.880);transform-origin:50% 0;">83.8</div>
<div class="t" style="font-size:7.09px;line-height:8px;-webkit-text-stroke:0.12px #fff;left:146.28px;top:804.34px;transform:scaleX(0.660);transform-origin:0 0;">160 mph</div>
<div class="t" style="font-size:7.09px;line-height:8px;-webkit-text-stroke:0.12px #fff;left:146.28px;top:811.04px;transform:scaleX(0.660);transform-origin:0 0;">260 km/h</div>
<div class="t" style="font-size:7.38px;line-height:9px;-webkit-text-stroke:0.12px #fff;left:146.28px;top:823.44px;transform:scaleX(0.680);transform-origin:0 0;">6</div>
<div class="t" style="font-size:7.24px;line-height:9px;-webkit-text-stroke:0.12px #fff;left:146.28px;top:836.04px;transform:scaleX(0.660);transform-origin:0 0;">17</div>
<div class="t" style="font-size:7.38px;line-height:9px;-webkit-text-stroke:0.12px #fff;left:146.18px;top:911.24px;transform:scaleX(0.660);transform-origin:0 0;">$1.01B</div>
<div class="t" style="font-size:9.88px;line-height:11px;-webkit-text-stroke:0.3px #fff;left:173.4px;top:746.95px;transform:scaleX(0.660);transform-origin:0 0;">Katrina</div>
<div class="t" style="font-size:7.56px;line-height:9px;-webkit-text-stroke:0.2px #fff;left:178.54px;top:772.5px;transform:scaleX(0.880);transform-origin:50% 0;">215.9</div>
<div class="t" style="font-size:7.09px;line-height:8px;-webkit-text-stroke:0.12px #fff;left:186.9px;top:804.34px;transform:scaleX(0.660);transform-origin:0 0;">175 mph</div>
<div class="t" style="font-size:7.09px;line-height:8px;-webkit-text-stroke:0.12px #fff;left:186.9px;top:811.04px;transform:scaleX(0.660);transform-origin:0 0;">280 km/h</div>
<div class="t" style="font-size:7.38px;line-height:9px;-webkit-text-stroke:0.12px #fff;left:186.9px;top:823.44px;transform:scaleX(0.680);transform-origin:0 0;">18</div>
<div class="t" style="font-size:7.24px;line-height:9px;-webkit-text-stroke:0.12px #fff;left:186.9px;top:836.04px;transform:scaleX(0.660);transform-origin:0 0;">1,836</div>
<div class="t" style="font-size:7.38px;line-height:9px;-webkit-text-stroke:0.12px #fff;left:186.8px;top:911.24px;transform:scaleX(0.660);transform-origin:0 0;">$108B</div>
<div class="t" style="font-size:9.88px;line-height:11px;-webkit-text-stroke:0.3px #fff;left:214.03px;top:746.95px;transform:scaleX(0.660);transform-origin:0 0;">Rita</div>
<div class="t" style="font-size:7.56px;line-height:9px;-webkit-text-stroke:0.2px #fff;left:219.17px;top:772.5px;transform:scaleX(0.880);transform-origin:50% 0;">128.8</div>
<div class="t" style="font-size:7.09px;line-height:8px;-webkit-text-stroke:0.12px #fff;left:227.53px;top:804.34px;transform:scaleX(0.660);transform-origin:0 0;">180 mph</div>
<div class="t" style="font-size:7.09px;line-height:8px;-webkit-text-stroke:0.12px #fff;left:227.53px;top:811.04px;transform:scaleX(0.660);transform-origin:0 0;">285 km/h</div>
<div class="t" style="font-size:7.38px;line-height:9px;-webkit-text-stroke:0.12px #fff;left:227.53px;top:823.44px;transform:scaleX(0.680);transform-origin:0 0;">24</div>
<div class="t" style="font-size:7.24px;line-height:9px;-webkit-text-stroke:0.12px #fff;left:227.53px;top:836.04px;transform:scaleX(0.660);transform-origin:0 0;">125</div>
<div class="t" style="font-size:7.38px;line-height:9px;-webkit-text-stroke:0.12px #fff;left:227.43px;top:911.24px;transform:scaleX(0.660);transform-origin:0 0;">$12B</div>
<div class="t" style="font-size:9.88px;line-height:11px;-webkit-text-stroke:0.3px #fff;left:254.65px;top:746.95px;transform:scaleX(0.660);transform-origin:0 0;">Wilma</div>
<div class="t" style="font-size:7.56px;line-height:9px;-webkit-text-stroke:0.2px #fff;left:259.79px;top:772.5px;transform:scaleX(0.880);transform-origin:50% 0;">138.7</div>
<div class="t" style="font-size:7.09px;line-height:8px;-webkit-text-stroke:0.12px #fff;left:268.15px;top:804.34px;transform:scaleX(0.660);transform-origin:0 0;">185 mph</div>
<div class="t" style="font-size:7.09px;line-height:8px;-webkit-text-stroke:0.12px #fff;left:268.15px;top:811.04px;transform:scaleX(0.660);transform-origin:0 0;">295 km/h</div>
<div class="t" style="font-size:7.38px;line-height:9px;-webkit-text-stroke:0.12px #fff;left:268.15px;top:823.44px;transform:scaleX(0.680);transform-origin:0 0;">18</div>
<div class="t" style="font-size:7.24px;line-height:9px;-webkit-text-stroke:0.12px #fff;left:268.15px;top:836.04px;transform:scaleX(0.660);transform-origin:0 0;">87</div>
<div class="t" style="font-size:7.38px;line-height:9px;-webkit-text-stroke:0.12px #fff;left:268.05px;top:911.24px;transform:scaleX(0.660);transform-origin:0 0;">$29.4B</div>
<div class="t" style="font-size:6.98px;line-height:7px;color:#1ba1e0;-webkit-text-stroke:0.6px #1ba1e0;left:294.51px;top:732.7px;transform:scaleX(1.129);transform-origin:0 0;">2006</div>
<div class="t" style="font-size:9.88px;line-height:11px;-webkit-text-stroke:0.3px #fff;left:296.57px;top:746.95px;transform:scaleX(0.660);transform-origin:0 0;">Ioke</div>
<div class="t" style="font-size:7.56px;line-height:9px;-webkit-text-stroke:0.2px #fff;left:301.72px;top:772.5px;transform:scaleX(0.880);transform-origin:50% 0;">132.8</div>
<div class="t" style="font-size:7.09px;line-height:8px;-webkit-text-stroke:0.12px #fff;left:310.07px;top:804.34px;transform:scaleX(0.660);transform-origin:0 0;">160 mph</div>
<div class="t" style="font-size:7.09px;line-height:8px;-webkit-text-stroke:0.12px #fff;left:310.07px;top:811.04px;transform:scaleX(0.660);transform-origin:0 0;">260 km/h</div>
<div class="t" style="font-size:7.38px;line-height:9px;-webkit-text-stroke:0.12px #fff;left:310.07px;top:823.44px;transform:scaleX(0.680);transform-origin:0 0;">42</div>
<div class="t" style="font-size:7.24px;line-height:9px;-webkit-text-stroke:0.12px #fff;left:310.07px;top:836.04px;transform:scaleX(0.660);transform-origin:0 0;">none</div>
<div class="t" style="font-size:7.38px;line-height:9px;-webkit-text-stroke:0.12px #fff;left:309.98px;top:911.24px;transform:scaleX(0.660);transform-origin:0 0;">$88M</div>
<div class="t" style="font-size:6.98px;line-height:7px;color:#1ba1e0;-webkit-text-stroke:0.6px #1ba1e0;left:333.84px;top:732.7px;transform:scaleX(1.129);transform-origin:0 0;">2007</div>
<div class="t" style="font-size:9.88px;line-height:11px;-webkit-text-stroke:0.3px #fff;left:335.9px;top:746.95px;transform:scaleX(0.660);transform-origin:0 0;">Dean</div>
<div class="t" style="font-size:7.56px;line-height:9px;-webkit-text-stroke:0.2px #fff;left:341.25px;top:772.5px;transform:scaleX(0.880);transform-origin:50% 0;">116.6</div>
<div class="t" style="font-size:7.09px;line-height:8px;-webkit-text-stroke:0.12px #fff;left:349.4px;top:804.34px;transform:scaleX(0.660);transform-origin:0 0;">175 mph</div>
<div class="t" style="font-size:7.09px;line-height:8px;-webkit-text-stroke:0.12px #fff;left:349.4px;top:811.04px;transform:scaleX(0.660);transform-origin:0 0;">280 km/h</div>
<div class="t" style="font-size:7.38px;line-height:9px;-webkit-text-stroke:0.12px #fff;left:349.4px;top:823.44px;transform:scaleX(0.680);transform-origin:0 0;">24</div>
<div class="t" style="font-size:7.24px;line-height:9px;-webkit-text-stroke:0.12px #fff;left:349.4px;top:836.04px;transform:scaleX(0.660);transform-origin:0 0;">45</div>
<div class="t" style="font-size:7.38px;line-height:9px;-webkit-text-stroke:0.12px #fff;left:349.3px;top:911.24px;transform:scaleX(0.660);transform-origin:0 0;">$1.76B</div>
<div class="t" style="font-size:9.88px;line-height:11px;-webkit-text-stroke:0.3px #fff;left:376.52px;top:746.95px;transform:scaleX(0.660);transform-origin:0 0;">Felix</div>
<div class="t" style="font-size:7.56px;line-height:9px;-webkit-text-stroke:0.2px #fff;left:381.88px;top:772.5px;transform:scaleX(0.880);transform-origin:50% 0;">116.1</div>
<div class="t" style="font-size:7.09px;line-height:8px;-webkit-text-stroke:0.12px #fff;left:390.02px;top:804.34px;transform:scaleX(0.660);transform-origin:0 0;">175 mph</div>
<div class="t" style="font-size:7.09px;line-height:8px;-webkit-text-stroke:0.12px #fff;left:390.02px;top:811.04px;transform:scaleX(0.660);transform-origin:0 0;">280 km/h</div>
<div class="t" style="font-size:7.38px;line-height:9px;-webkit-text-stroke:0.12px #fff;left:390.02px;top:823.44px;transform:scaleX(0.680);transform-origin:0 0;">24</div>
<div class="t" style="font-size:7.24px;line-height:9px;-webkit-text-stroke:0.12px #fff;left:390.02px;top:836.04px;transform:scaleX(0.660);transform-origin:0 0;">133</div>
<div class="t" style="font-size:7.38px;line-height:9px;-webkit-text-stroke:0.12px #fff;left:389.93px;top:911.24px;transform:scaleX(0.660);transform-origin:0 0;">$720M</div>
<div class="t" style="font-size:6.98px;line-height:7px;color:#1ba1e0;-webkit-text-stroke:0.6px #1ba1e0;left:415.09px;top:732.7px;transform:scaleX(1.129);transform-origin:0 0;">2009</div>
<div class="t" style="font-size:9.88px;line-height:11px;-webkit-text-stroke:0.3px #fff;left:417.15px;top:746.95px;transform:scaleX(0.660);transform-origin:0 0;">Rick</div>
<div class="t" style="font-size:7.56px;line-height:9px;-webkit-text-stroke:0.2px #fff;left:422.5px;top:772.5px;transform:scaleX(0.880);transform-origin:50% 0;">117.1</div>
<div class="t" style="font-size:7.09px;line-height:8px;-webkit-text-stroke:0.12px #fff;left:430.65px;top:804.34px;transform:scaleX(0.660);transform-origin:0 0;">180 mph</div>
<div class="t" style="font-size:7.09px;line-height:8px;-webkit-text-stroke:0.12px #fff;left:430.65px;top:811.04px;transform:scaleX(0.660);transform-origin:0 0;">285 km/h</div>
<div class="t" style="font-size:7.38px;line-height:9px;-webkit-text-stroke:0.12px #fff;left:430.65px;top:823.44px;transform:scaleX(0.680);transform-origin:0 0;">24</div>
<div class="t" style="font-size:7.24px;line-height:9px;-webkit-text-stroke:0.12px #fff;left:430.65px;top:836.04px;transform:scaleX(0.660);transform-origin:0 0;">3</div>
<div class="t" style="font-size:7.38px;line-height:9px;-webkit-text-stroke:0.12px #fff;left:430.55px;top:911.24px;transform:scaleX(0.660);transform-origin:0 0;">$14.6M</div>
<div class="t" style="font-size:6.98px;line-height:7px;color:#1ba1e0;-webkit-text-stroke:0.6px #1ba1e0;left:455.71px;top:732.7px;transform:scaleX(1.129);transform-origin:0 0;">2010</div>
<div class="t" style="font-size:9.88px;line-height:11px;-webkit-text-stroke:0.3px #fff;left:457.77px;top:746.95px;transform:scaleX(0.660);transform-origin:0 0;">Celia</div>
<div class="t" style="font-size:7.56px;line-height:9px;-webkit-text-stroke:0.2px #fff;left:465.02px;top:772.5px;transform:scaleX(0.880);transform-origin:50% 0;">91.1</div>
<div class="t" style="font-size:7.09px;line-height:8px;-webkit-text-stroke:0.12px #fff;left:471.27px;top:804.34px;transform:scaleX(0.660);transform-origin:0 0;">160 mph</div>
<div class="t" style="font-size:7.09px;line-height:8px;-webkit-text-stroke:0.12px #fff;left:471.27px;top:811.04px;transform:scaleX(0.660);transform-origin:0 0;">260 km/h</div>
<div class="t" style="font-size:7.38px;line-height:9px;-webkit-text-stroke:0.12px #fff;left:471.27px;top:823.44px;transform:scaleX(0.680);transform-origin:0 0;">12</div>
<div class="t" style="font-size:7.24px;line-height:9px;-webkit-text-stroke:0.12px #fff;left:471.27px;top:836.04px;transform:scaleX(0.660);transform-origin:0 0;">none</div>
<div class="t" style="font-size:7.38px;line-height:9px;-webkit-text-stroke:0.12px #fff;left:471.18px;top:911.24px;transform:scaleX(0.660);transform-origin:0 0;">none</div>
<div class="t" style="font-size:6.98px;line-height:7px;color:#1ba1e0;-webkit-text-stroke:0.6px #1ba1e0;left:496.34px;top:732.7px;transform:scaleX(1.129);transform-origin:0 0;">2014</div>
<div class="t" style="font-size:9.88px;line-height:11px;-webkit-text-stroke:0.3px #fff;left:498.4px;top:746.95px;transform:scaleX(0.660);transform-origin:0 0;">Marie</div>
<div class="t" style="font-size:7.56px;line-height:9px;-webkit-text-stroke:0.2px #fff;left:505.64px;top:772.5px;transform:scaleX(0.880);transform-origin:50% 0;">82.8</div>
<div class="t" style="font-size:7.09px;line-height:8px;-webkit-text-stroke:0.12px #fff;left:511.9px;top:804.34px;transform:scaleX(0.660);transform-origin:0 0;">160 mph</div>
<div class="t" style="font-size:7.09px;line-height:8px;-webkit-text-stroke:0.12px #fff;left:511.9px;top:811.04px;transform:scaleX(0.660);transform-origin:0 0;">260 km/h</div>
<div class="t" style="font-size:7.38px;line-height:9px;-webkit-text-stroke:0.12px #fff;left:511.9px;top:823.44px;transform:scaleX(0.680);transform-origin:0 0;">6</div>
<div class="t" style="font-size:7.24px;line-height:9px;-webkit-text-stroke:0.12px #fff;left:511.9px;top:836.04px;transform:scaleX(0.660);transform-origin:0 0;">6</div>
<div class="t" style="font-size:7.38px;line-height:9px;-webkit-text-stroke:0.12px #fff;left:511.8px;top:911.24px;transform:scaleX(0.660);transform-origin:0 0;">$20M</div>
<div class="t" style="font-size:6.98px;line-height:7px;color:#1ba1e0;-webkit-text-stroke:0.6px #1ba1e0;left:536.96px;top:732.7px;transform:scaleX(1.129);transform-origin:0 0;">2015</div>
<div class="t" style="font-size:9.88px;line-height:11px;-webkit-text-stroke:0.3px #fff;left:539.02px;top:746.95px;transform:scaleX(0.660);transform-origin:0 0;">Patricia</div>
<div class="t" style="font-size:7.56px;line-height:9px;-webkit-text-stroke:0.2px #fff;left:544.17px;top:772.5px;transform:scaleX(0.880);transform-origin:50% 0;">132.4</div>
<div class="t" style="font-size:7.09px;line-height:8px;-webkit-text-stroke:0.12px #fff;left:552.52px;top:804.34px;transform:scaleX(0.660);transform-origin:0 0;">215mph</div>
<div class="t" style="font-size:7.09px;line-height:8px;-webkit-text-stroke:0.12px #fff;left:552.52px;top:811.04px;transform:scaleX(0.660);transform-origin:0 0;">345 km/h</div>
<div class="t" style="font-size:7.38px;line-height:9px;-webkit-text-stroke:0.12px #fff;left:552.52px;top:823.44px;transform:scaleX(0.680);transform-origin:0 0;">23</div>
<div class="t" style="font-size:7.24px;line-height:9px;-webkit-text-stroke:0.12px #fff;left:552.52px;top:836.04px;transform:scaleX(0.660);transform-origin:0 0;">8</div>
<div class="t" style="font-size:7.38px;line-height:9px;-webkit-text-stroke:0.12px #fff;left:552.42px;top:911.24px;transform:scaleX(0.660);transform-origin:0 0;">$460M</div>
<div class="t" style="font-size:6.98px;line-height:7px;color:#1ba1e0;-webkit-text-stroke:0.6px #1ba1e0;left:577.59px;top:732.7px;transform:scaleX(1.129);transform-origin:0 0;">2016</div>
<div class="t" style="font-size:9.88px;line-height:11px;-webkit-text-stroke:0.3px #fff;left:579.65px;top:746.95px;transform:scaleX(0.660);transform-origin:0 0;">Matthew</div>
<div class="t" style="font-size:7.56px;line-height:9px;-webkit-text-stroke:0.2px #fff;left:585px;top:772.5px;transform:scaleX(0.880);transform-origin:50% 0;">110.5</div>
<div class="t" style="font-size:7.09px;line-height:8px;-webkit-text-stroke:0.12px #fff;left:593.15px;top:804.34px;transform:scaleX(0.660);transform-origin:0 0;">165 mph</div>
<div class="t" style="font-size:7.09px;line-height:8px;-webkit-text-stroke:0.12px #fff;left:593.15px;top:811.04px;transform:scaleX(0.660);transform-origin:0 0;">270 km/h</div>
<div class="t" style="font-size:7.38px;line-height:9px;-webkit-text-stroke:0.12px #fff;left:593.15px;top:823.44px;transform:scaleX(0.680);transform-origin:0 0;">12</div>
<div class="t" style="font-size:7.24px;line-height:9px;-webkit-text-stroke:0.12px #fff;left:593.15px;top:836.04px;transform:scaleX(0.660);transform-origin:0 0;">603</div>
<div class="t" style="font-size:7.38px;line-height:9px;-webkit-text-stroke:0.12px #fff;left:593.05px;top:911.24px;transform:scaleX(0.660);transform-origin:0 0;">$15.1B</div>
<div class="t" style="font-size:6.98px;line-height:7px;color:#1ba1e0;-webkit-text-stroke:0.6px #1ba1e0;left:618.21px;top:732.7px;transform:scaleX(1.129);transform-origin:0 0;">2017</div>
<div class="t" style="font-size:9.88px;line-height:11px;-webkit-text-stroke:0.3px #fff;left:620.27px;top:746.95px;transform:scaleX(0.660);transform-origin:0 0;">Irma</div>
<div class="t" style="font-size:7.56px;line-height:9px;-webkit-text-stroke:0.2px #fff;left:625.42px;top:772.5px;transform:scaleX(0.880);transform-origin:50% 0;">244.5</div>
<div class="t" style="font-size:7.09px;line-height:8px;-webkit-text-stroke:0.12px #fff;left:633.77px;top:804.34px;transform:scaleX(0.660);transform-origin:0 0;">180 mph</div>
<div class="t" style="font-size:7.09px;line-height:8px;-webkit-text-stroke:0.12px #fff;left:633.77px;top:811.04px;transform:scaleX(0.660);transform-origin:0 0;">285 km/h</div>
<div class="t" style="font-size:7.38px;line-height:9px;-webkit-text-stroke:0.12px #fff;left:633.77px;top:823.44px;transform:scaleX(0.680);transform-origin:0 0;">72</div>
<div class="t" style="font-size:7.24px;line-height:9px;-webkit-text-stroke:0.12px #fff;left:633.77px;top:836.04px;transform:scaleX(0.660);transform-origin:0 0;">146</div>
<div class="t" style="font-size:7.38px;line-height:9px;-webkit-text-stroke:0.12px #fff;left:633.67px;top:911.24px;transform:scaleX(0.660);transform-origin:0 0;">$64.8B</div>
<div class="t" style="font-size:6.98px;line-height:7px;color:#1ba1e0;-webkit-text-stroke:0.6px #1ba1e0;left:658.84px;top:732.7px;transform:scaleX(1.129);transform-origin:0 0;">2014</div>
<div class="t" style="font-size:9.88px;line-height:11px;-webkit-text-stroke:0.3px #fff;left:660.9px;top:746.95px;transform:scaleX(0.660);transform-origin:0 0;">Maria</div>
<div class="t" style="font-size:7.56px;line-height:9px;-webkit-text-stroke:0.2px #fff;left:666.04px;top:772.5px;transform:scaleX(0.880);transform-origin:50% 0;">210.7</div>
<div class="t" style="font-size:7.09px;line-height:8px;-webkit-text-stroke:0.12px #fff;left:674.4px;top:804.34px;transform:scaleX(0.660);transform-origin:0 0;">175 mph</div>
<div class="t" style="font-size:7.09px;line-height:8px;-webkit-text-stroke:0.12px #fff;left:674.4px;top:811.04px;transform:scaleX(0.660);transform-origin:0 0;">280 km/h</div>
<div class="t" style="font-size:7.38px;line-height:9px;-webkit-text-stroke:0.12px #fff;left:674.4px;top:823.44px;transform:scaleX(0.680);transform-origin:0 0;">30</div>
<div class="t" style="font-size:7.24px;line-height:9px;-webkit-text-stroke:0.12px #fff;left:674.4px;top:836.04px;transform:scaleX(0.660);transform-origin:0 0;">547</div>
<div class="t" style="font-size:7.38px;line-height:9px;-webkit-text-stroke:0.12px #fff;left:674.3px;top:911.24px;transform:scaleX(0.660);transform-origin:0 0;">$91.6B</div>
<div class="t" style="font-size:14.1px;line-height:16px;-webkit-text-stroke:0.5px #fff;text-shadow:0.8px 0 #fff,-0.8px 0 #fff,0.9px 0 #fff,-0.9px 0 #fff;left:18.13px;top:999.25px;transform:scaleX(0.721);transform-origin:0 0;">TIMELINE OF CATEGORY 5 HURRICANES</div>
<div class="t" style="font-size:14.1px;line-height:16px;-webkit-text-stroke:0.5px #fff;text-shadow:0.8px 0 #fff,-0.8px 0 #fff,0.9px 0 #fff,-0.9px 0 #fff;left:18.14px;top:1013.85px;transform:scaleX(0.729);transform-origin:0 0;">BY DESTRUCTION (USD)</div>
<div class="t" style="font-size:10.76px;line-height:12px;color:#1ba1e0;left:60.9px;top:1157.81px;transform:rotate(-90deg) scaleX(0.790);transform-origin:0 0;">$1.42B</div>
<div class="t" style="font-size:10.03px;line-height:11px;left:61.7px;top:1207.3px;transform:rotate(-90deg) scaleX(0.620);transform-origin:0 0;">CAMILLE</div>
<div class="t" style="font-size:10.76px;line-height:12px;color:#1ba1e0;left:73.56px;top:1157px;transform:rotate(-90deg) scaleX(0.790);transform-origin:0 0;">$25.4M</div>
<div class="t" style="font-size:10.03px;line-height:11px;left:74.36px;top:1207.3px;transform:rotate(-90deg) scaleX(0.620);transform-origin:0 0;">EDITH</div>
<div class="t" style="font-size:10.76px;line-height:12px;color:#1ba1e0;left:86.22px;top:1160px;transform:rotate(-90deg) scaleX(0.790);transform-origin:0 0;">none</div>
<div class="t" style="font-size:10.03px;line-height:11px;left:87.02px;top:1207.3px;transform:rotate(-90deg) scaleX(0.620);transform-origin:0 0;">AVA</div>
<div class="t" style="font-size:10.76px;line-height:12px;color:#1ba1e0;left:98.88px;top:1160px;transform:rotate(-90deg) scaleX(0.790);transform-origin:0 0;">unknown</div>
<div class="t" style="font-size:10.03px;line-height:11px;left:99.68px;top:1207.3px;transform:rotate(-90deg) scaleX(0.620);transform-origin:0 0;">ANITA</div>
<div class="t" style="font-size:10.76px;line-height:12px;color:#1ba1e0;left:111.54px;top:1157.62px;transform:rotate(-90deg) scaleX(0.790);transform-origin:0 0;">$1.54B</div>
<div class="t" style="font-size:10.03px;line-height:11px;left:112.34px;top:1207.3px;transform:rotate(-90deg) scaleX(0.620);transform-origin:0 0;">DAVID</div>
<div class="t" style="font-size:10.76px;line-height:12px;color:#1ba1e0;left:124.2px;top:1158.08px;transform:rotate(-90deg) scaleX(0.790);transform-origin:0 0;">$1.24B</div>
<div class="t" style="font-size:10.03px;line-height:11px;left:125px;top:1207.3px;transform:rotate(-90deg) scaleX(0.620);transform-origin:0 0;">ALLEN</div>
<div class="t" style="font-size:10.76px;line-height:12px;color:#1ba1e0;left:136.86px;top:1149.03px;transform:rotate(-90deg) scaleX(0.790);transform-origin:0 0;">$7.1B</div>
<div class="t" style="font-size:10.03px;line-height:11px;left:137.66px;top:1207.3px;transform:rotate(-90deg) scaleX(0.620);transform-origin:0 0;">GILBERT</div>
<div class="t" style="font-size:10.76px;line-height:12px;color:#1ba1e0;left:149.52px;top:1144.55px;transform:rotate(-90deg) scaleX(0.790);transform-origin:0 0;">$10B</div>
<div class="t" style="font-size:10.03px;line-height:11px;left:150.32px;top:1207.3px;transform:rotate(-90deg) scaleX(0.620);transform-origin:0 0;">HUGO</div>
<div class="t" style="font-size:10.76px;line-height:12px;color:#1ba1e0;left:162.18px;top:1119.06px;transform:rotate(-90deg) scaleX(0.790);transform-origin:0 0;">$26.5B</div>
<div class="t" style="font-size:10.03px;line-height:11px;left:162.98px;top:1207.3px;transform:rotate(-90deg) scaleX(0.620);transform-origin:0 0;">ANDREW</div>
<div class="t" style="font-size:10.76px;line-height:12px;color:#1ba1e0;left:174.84px;top:1160px;transform:rotate(-90deg) scaleX(0.790);transform-origin:0 0;">none</div>
<div class="t" style="font-size:10.03px;line-height:11px;left:175.64px;top:1207.3px;transform:rotate(-90deg) scaleX(0.620);transform-origin:0 0;">EMILIA</div>
<div class="t" style="font-size:10.76px;line-height:12px;color:#1ba1e0;left:187.5px;top:1160px;transform:rotate(-90deg) scaleX(0.790);transform-origin:0 0;">none</div>
<div class="t" style="font-size:10.03px;line-height:11px;left:188.3px;top:1207.3px;transform:rotate(-90deg) scaleX(0.620);transform-origin:0 0;">GILMA</div>
<div class="t" style="font-size:10.76px;line-height:12px;color:#1ba1e0;left:200.16px;top:1157px;transform:rotate(-90deg) scaleX(0.790);transform-origin:0 0;">$15M</div>
<div class="t" style="font-size:10.03px;line-height:11px;left:200.96px;top:1207.3px;transform:rotate(-90deg) scaleX(0.620);transform-origin:0 0;">JOHN</div>
<div class="t" style="font-size:10.76px;line-height:12px;color:#1ba1e0;left:212.82px;top:1160px;transform:rotate(-90deg) scaleX(0.790);transform-origin:0 0;">none</div>
<div class="t" style="font-size:10.03px;line-height:11px;left:213.62px;top:1207.3px;transform:rotate(-90deg) scaleX(0.620);transform-origin:0 0;">GUILLERMO</div>
<div class="t" style="font-size:10.76px;line-height:12px;color:#1ba1e0;left:225.48px;top:1157px;transform:rotate(-90deg) scaleX(0.790);transform-origin:0 0;">$3.2M</div>
<div class="t" style="font-size:10.03px;line-height:11px;left:226.28px;top:1207.3px;transform:rotate(-90deg) scaleX(0.620);transform-origin:0 0;">LINDA</div>
<div class="t" style="font-size:10.76px;line-height:12px;color:#1ba1e0;left:238.14px;top:1150.42px;transform:rotate(-90deg) scaleX(0.790);transform-origin:0 0;">$6.2B</div>
<div class="t" style="font-size:10.03px;line-height:11px;left:238.94px;top:1207.3px;transform:rotate(-90deg) scaleX(0.620);transform-origin:0 0;">MITCH</div>
<div class="t" style="font-size:10.76px;line-height:12px;color:#1ba1e0;left:250.8px;top:1160px;transform:rotate(-90deg) scaleX(0.790);transform-origin:0 0;">none</div>
<div class="t" style="font-size:10.03px;line-height:11px;left:251.6px;top:1207.3px;transform:rotate(-90deg) scaleX(0.620);transform-origin:0 0;">ELIDA</div>
<div class="t" style="font-size:10.76px;line-height:12px;color:#1ba1e0;left:263.46px;top:1160px;transform:rotate(-90deg) scaleX(0.790);transform-origin:0 0;">none</div>
<div class="t" style="font-size:10.03px;line-height:11px;left:264.26px;top:1207.3px;transform:rotate(-90deg) scaleX(0.620);transform-origin:0 0;">HERNAN</div>
<div class="t" style="font-size:10.76px;line-height:12px;color:#1ba1e0;left:276.12px;top:1157px;transform:rotate(-90deg) scaleX(0.790);transform-origin:0 0;">$101M</div>
<div class="t" style="font-size:10.03px;line-height:11px;left:276.92px;top:1207.3px;transform:rotate(-90deg) scaleX(0.620);transform-origin:0 0;">KENNA</div>
<div class="t" style="font-size:10.76px;line-height:12px;color:#1ba1e0;left:288.78px;top:1151.7px;transform:rotate(-90deg) scaleX(0.790);transform-origin:0 0;">$5.37B</div>
<div class="t" style="font-size:10.03px;line-height:11px;left:289.58px;top:1207.3px;transform:rotate(-90deg) scaleX(0.620);transform-origin:0 0;">ISABEL</div>
<div class="t" style="font-size:10.76px;line-height:12px;color:#1ba1e0;left:301.44px;top:1124px;transform:rotate(-90deg) scaleX(0.790);transform-origin:0 0;">$23.3B</div>
<div class="t" style="font-size:10.03px;line-height:11px;left:302.24px;top:1207.3px;transform:rotate(-90deg) scaleX(0.620);transform-origin:0 0;">IVAN</div>
<div class="t" style="font-size:10.76px;line-height:12px;color:#1ba1e0;left:314.1px;top:1158.44px;transform:rotate(-90deg) scaleX(0.790);transform-origin:0 0;">$1.01B</div>
<div class="t" style="font-size:10.03px;line-height:11px;left:314.9px;top:1207.3px;transform:rotate(-90deg) scaleX(0.620);transform-origin:0 0;">EMILY</div>
<div class="t" style="font-size:10.76px;line-height:12px;color:#1ba1e0;left:326.76px;top:993.14px;transform:rotate(-90deg) scaleX(0.790);transform-origin:0 0;">$108B</div>
<div class="t" style="font-size:10.03px;line-height:11px;left:327.56px;top:1207.3px;transform:rotate(-90deg) scaleX(0.620);transform-origin:0 0;">KATRINA</div>
<div class="t" style="font-size:10.76px;line-height:12px;color:#1ba1e0;left:339.42px;top:1141.46px;transform:rotate(-90deg) scaleX(0.790);transform-origin:0 0;">$12B</div>
<div class="t" style="font-size:10.03px;line-height:11px;left:340.22px;top:1207.3px;transform:rotate(-90deg) scaleX(0.620);transform-origin:0 0;">RITA</div>
<div class="t" style="font-size:10.76px;line-height:12px;color:#1ba1e0;left:352.08px;top:1114.58px;transform:rotate(-90deg) scaleX(0.790);transform-origin:0 0;">$29.4B</div>
<div class="t" style="font-size:10.03px;line-height:11px;left:352.88px;top:1207.3px;transform:rotate(-90deg) scaleX(0.620);transform-origin:0 0;">WILMA</div>
<div class="t" style="font-size:10.76px;line-height:12px;color:#1ba1e0;left:364.74px;top:1157px;transform:rotate(-90deg) scaleX(0.790);transform-origin:0 0;">$88M</div>
<div class="t" style="font-size:10.03px;line-height:11px;left:365.54px;top:1207.3px;transform:rotate(-90deg) scaleX(0.620);transform-origin:0 0;">IOKE</div>
<div class="t" style="font-size:10.76px;line-height:12px;color:#1ba1e0;left:377.4px;top:1157.28px;transform:rotate(-90deg) scaleX(0.790);transform-origin:0 0;">$1.76B</div>
<div class="t" style="font-size:10.03px;line-height:11px;left:378.2px;top:1207.3px;transform:rotate(-90deg) scaleX(0.620);transform-origin:0 0;">DEAN</div>
<div class="t" style="font-size:10.76px;line-height:12px;color:#1ba1e0;left:390.06px;top:1158.89px;transform:rotate(-90deg) scaleX(0.790);transform-origin:0 0;">$720M</div>
<div class="t" style="font-size:10.03px;line-height:11px;left:390.86px;top:1207.3px;transform:rotate(-90deg) scaleX(0.620);transform-origin:0 0;">FELIX</div>
<div class="t" style="font-size:10.76px;line-height:12px;color:#1ba1e0;left:402.72px;top:1157px;transform:rotate(-90deg) scaleX(0.790);transform-origin:0 0;">$14.6M</div>
<div class="t" style="font-size:10.03px;line-height:11px;left:403.52px;top:1207.3px;transform:rotate(-90deg) scaleX(0.620);transform-origin:0 0;">RICK</div>
<div class="t" style="font-size:10.76px;line-height:12px;color:#1ba1e0;left:415.38px;top:1160px;transform:rotate(-90deg) scaleX(0.790);transform-origin:0 0;">none</div>
<div class="t" style="font-size:10.03px;line-height:11px;left:416.18px;top:1207.3px;transform:rotate(-90deg) scaleX(0.620);transform-origin:0 0;">CELIA</div>
<div class="t" style="font-size:10.76px;line-height:12px;color:#1ba1e0;left:428.04px;top:1157px;transform:rotate(-90deg) scaleX(0.790);transform-origin:0 0;">$20M</div>
<div class="t" style="font-size:10.03px;line-height:11px;left:428.84px;top:1207.3px;transform:rotate(-90deg) scaleX(0.620);transform-origin:0 0;">MARIE</div>
<div class="t" style="font-size:10.76px;line-height:12px;color:#1ba1e0;left:440.7px;top:1157px;transform:rotate(-90deg) scaleX(0.790);transform-origin:0 0;">$460M</div>
<div class="t" style="font-size:10.03px;line-height:11px;left:441.5px;top:1207.3px;transform:rotate(-90deg) scaleX(0.620);transform-origin:0 0;">PATRICIA</div>
<div class="t" style="font-size:10.76px;line-height:12px;color:#1ba1e0;left:453.36px;top:1136.67px;transform:rotate(-90deg) scaleX(0.790);transform-origin:0 0;">$15.1B</div>
<div class="t" style="font-size:10.03px;line-height:11px;left:454.16px;top:1207.3px;transform:rotate(-90deg) scaleX(0.620);transform-origin:0 0;">MATTHEW</div>
<div class="t" style="font-size:10.76px;line-height:12px;color:#1ba1e0;left:466.02px;top:1059.88px;transform:rotate(-90deg) scaleX(0.790);transform-origin:0 0;">$64.8B</div>
<div class="t" style="font-size:10.03px;line-height:11px;left:466.82px;top:1207.3px;transform:rotate(-90deg) scaleX(0.620);transform-origin:0 0;">IRMA</div>
<div class="t" style="font-size:10.76px;line-height:12px;color:#1ba1e0;left:478.68px;top:1018.48px;transform:rotate(-90deg) scaleX(0.790);transform-origin:0 0;">$91.6B</div>
<div class="t" style="font-size:10.03px;line-height:11px;left:479.48px;top:1207.3px;transform:rotate(-90deg) scaleX(0.620);transform-origin:0 0;">MARIA</div>
<div class="t" style="font-size:5.38px;line-height:6px;color:#e0e0e0;font-weight:400;left:21.7px;top:1212.6px;transform:scaleX(0.897);transform-origin:0 0;">IN DECADES</div>
<div class="t" style="font-size:8.14px;line-height:9px;left:72.2px;top:1211.5px;transform:scaleX(0.784);transform-origin:0 0;">1970</div>
<div class="t" style="font-size:8.14px;line-height:9px;left:123.2px;top:1211.5px;transform:scaleX(0.784);transform-origin:0 0;">1980</div>
<div class="t" style="font-size:8.14px;line-height:9px;left:161.4px;top:1211.5px;transform:scaleX(0.784);transform-origin:0 0;">1990</div>
<div class="t" style="font-size:8.14px;line-height:9px;left:247.5px;top:1211.5px;transform:scaleX(0.784);transform-origin:0 0;">2000</div>
<div class="t" style="font-size:8.14px;line-height:9px;left:412.5px;top:1211.5px;transform:scaleX(0.784);transform-origin:0 0;">2010</div>
<div class="t" style="font-size:6.83px;line-height:7px;font-weight:400;left:509.5px;top:1155px;transform:scaleX(0.960);transform-origin:0 0;">Sources:</div>
<div class="t" style="font-size:6.83px;line-height:7px;font-weight:400;left:509.5px;top:1162.9px;transform:scaleX(0.967);transform-origin:0 0;">en.wikipedia.org/wiki/List_of_Category_5_Atlantic_hurricanes</div>
<div class="t" style="font-size:6.83px;line-height:7px;font-weight:400;left:509.5px;top:1171px;transform:scaleX(0.957);transform-origin:0 0;">en.wikipedia.org/wiki/List_of_Category_5_Pacific_hurricanes</div>
<div class="t" style="font-size:25.87px;line-height:28px;color:#27a6e0;-webkit-text-stroke:1.9px #27a6e0;left:552.81px;top:1186.65px;transform:scaleX(1.062);transform-origin:0 0;">T</div>
<div class="t" style="font-size:19.77px;line-height:22px;color:#27a6e0;-webkit-text-stroke:1.1px #27a6e0;left:572.58px;top:1192.05px;transform:scaleX(1.052);transform-origin:0 0;">ITLE</div>
<div class="t" style="font-size:25.87px;line-height:28px;color:#27a6e0;-webkit-text-stroke:1.9px #27a6e0;left:620.4px;top:1186.65px;transform:scaleX(1.160);transform-origin:0 0;">M</div>
<div class="t" style="font-size:19.77px;line-height:22px;color:#27a6e0;-webkit-text-stroke:1.1px #27a6e0;left:646.89px;top:1192.05px;transform:scaleX(1.078);transform-origin:0 0;">AX</div>
</div>
</body></html>
